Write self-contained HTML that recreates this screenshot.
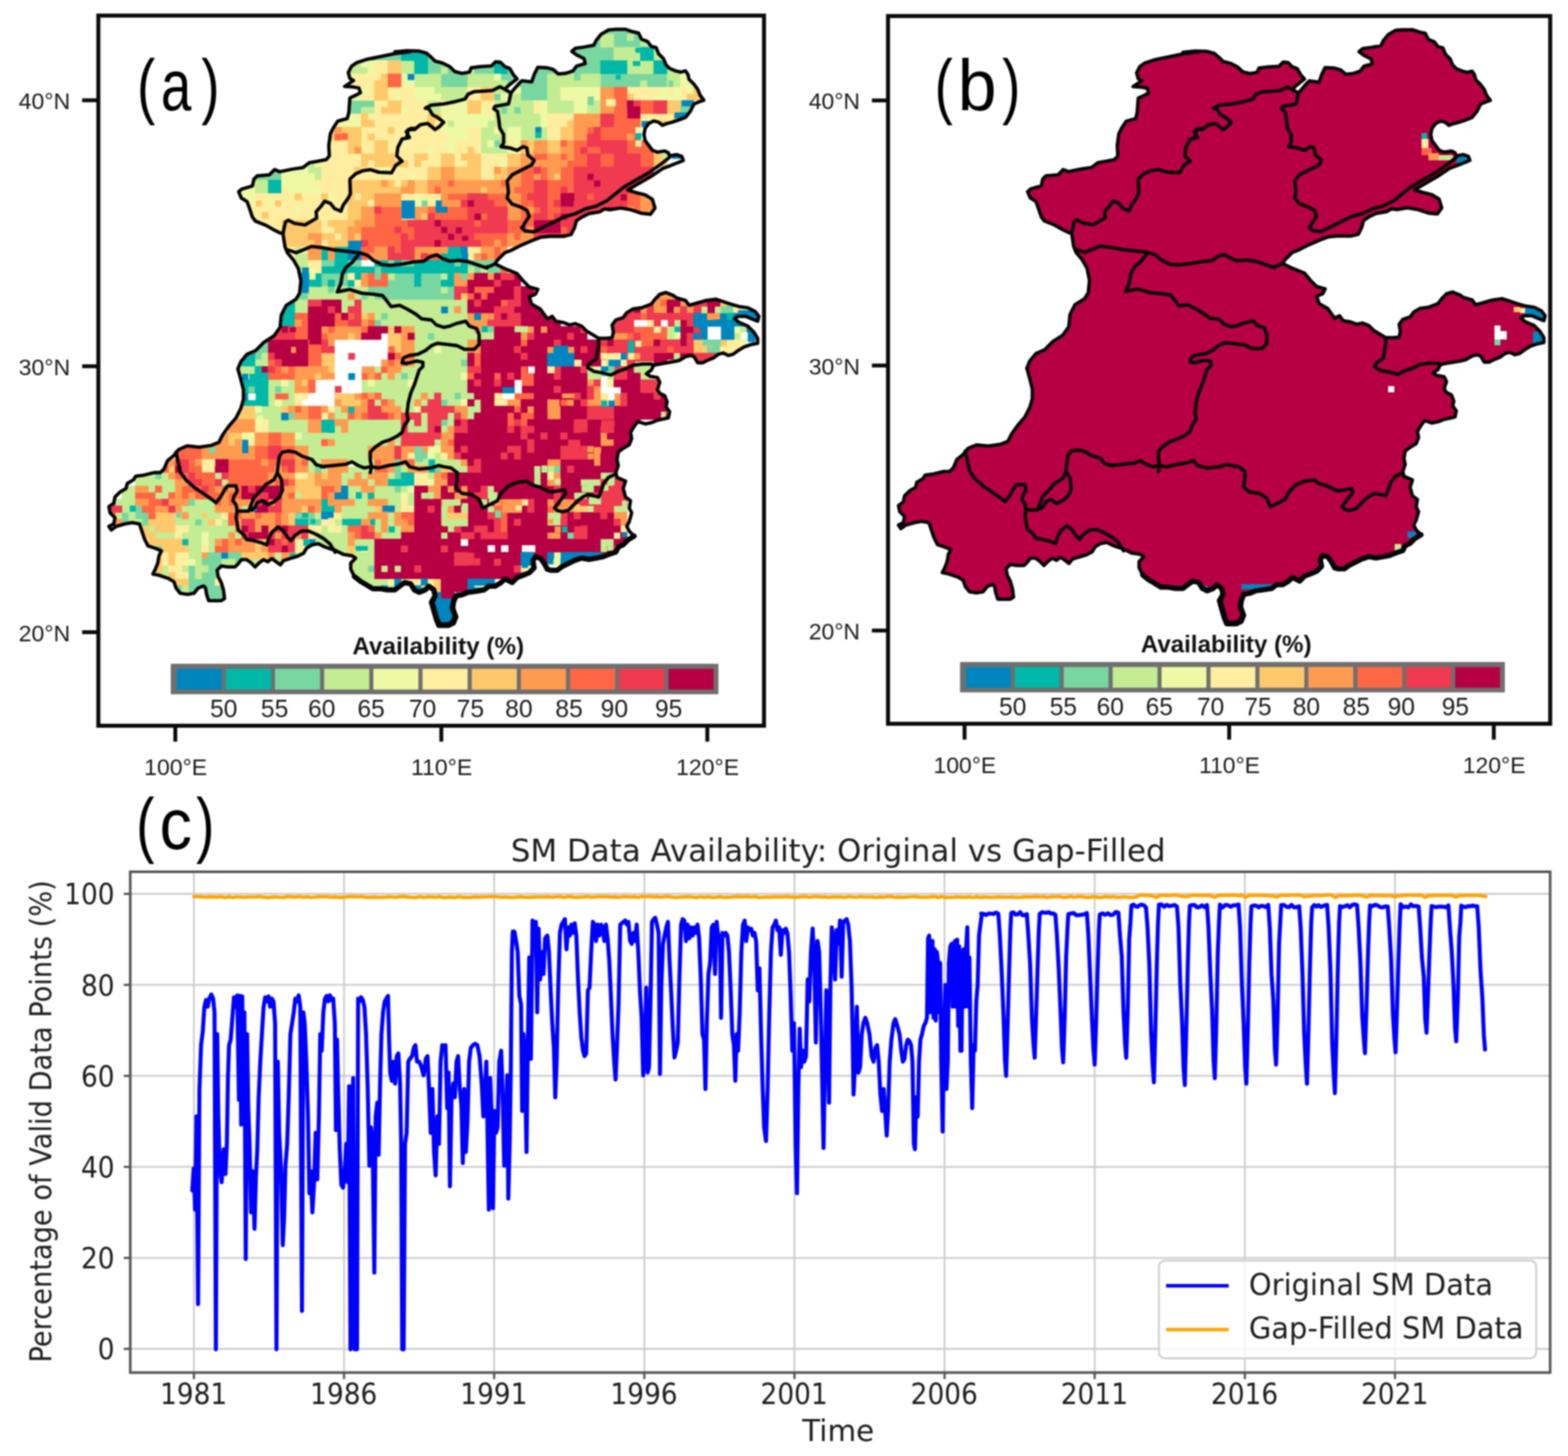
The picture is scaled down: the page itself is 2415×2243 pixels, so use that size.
<!DOCTYPE html>
<html lang="en"><head><meta charset="utf-8"><title>SM Data Availability: Original vs Gap-Filled</title>
<style>
html,body{margin:0;padding:0;background:#fff;}
body{width:2415px;height:2243px;overflow:hidden;}
svg{display:block;}
text{font-family:"Liberation Sans","DejaVu Sans",sans-serif;fill:#222;}
.tk{font-size:35.5px;fill:#1c1c1c;}
.cb{font-size:38px;fill:#1c1c1c;}
.cbt{font-size:37.4px;font-weight:bold;fill:#111;}
.pl{font-size:112px;fill:#000;}
.ct{font-family:"DejaVu Sans","Liberation Sans",sans-serif;font-size:44.5px;fill:#1e1e1e;}
.cl{font-family:"DejaVu Sans","Liberation Sans",sans-serif;font-size:47px;fill:#1e1e1e;}
.ctt{font-family:"DejaVu Sans","Liberation Sans",sans-serif;font-size:48px;fill:#1e1e1e;}
.lg{font-family:"DejaVu Sans","Liberation Sans",sans-serif;font-size:46.4px;fill:#1e1e1e;}
</style></head><body>
<svg width="2415" height="2243" viewBox="0 0 2415 2243" role="img" aria-label="Soil moisture data availability: original versus gap-filled">
<rect width="2415" height="2243" fill="#fff"/>
<defs><filter id="soft" x="0" y="0" width="100%" height="100%" filterUnits="userSpaceOnUse" color-interpolation-filters="sRGB"><feGaussianBlur stdDeviation="1.05"/></filter></defs>
<g filter="url(#soft)">
<g>
<g id="map-a">
<defs><clipPath id="mclip"><path d="M367.6,295.4 372.5,291.3 388.7,286.5 391.1,275.9 396,271 414.7,269.4 422.8,261.3 430.9,264.5 450.4,260.5 466.6,258.1 476.4,250.7 489.4,248.3 502.3,245.9 507.2,240.2 506.4,224 508.8,206.1 513.7,196.4 520.2,186.6 534.8,182.6 537.2,173.6 538.9,150.9 549.4,146 555.1,142.8 552.7,135.5 542.9,133.9 530.7,133.1 544.5,124.1 538.9,120.9 536.4,111.9 541.3,102.2 549.4,96.5 564,91.7 583.5,87.6 607.9,82.7 632.2,79.5 608,80 626.8,78.1 645.6,78.7 656.9,81.9 664.5,88.5 670.1,94.1 681.4,97 692.7,102.6 700.3,110.1 711.6,113 722.9,111.1 725.7,104.5 739.8,102.6 756.8,101.7 763.3,95.1 770.9,96 777.5,102.6 785,105.4 790.6,114.9 796.3,121.4 783.1,131.8 777.5,137.5 786.9,143.1 798.2,129.9 803.8,124.3 818.9,126.2 822.7,114.9 828.3,103.6 843,104.5 843,104.5 852.4,107.3 859.9,113.9 871.2,113 882.5,109.2 888.2,101.7 901.4,97.9 899.5,90.4 888.2,84.7 880.7,79.1 886.3,74.4 899.5,72.5 914.6,69.7 918.3,62.1 925.9,52.7 937.2,46.1 948.5,45.2 963.5,45.2 974.8,48.9 983.3,50.8 988,60.2 997.4,64 1003.1,71.5 1010.6,73.4 1014.4,82.8 1021.9,90.4 1025.7,99.8 1031.3,105.4 1040.7,109.2 1048.3,111.1 1055.8,109.2 1059.6,114.9 1061.4,122.4 1069,129.9 1074.6,137.5 1078.4,146.9 1084,154.4 1078.4,156.3 1069,160.1 1063.3,171.4 1055.8,180.8 1046.4,184.5 1035.1,188.3 1027.5,190.2 1020,193 1014.4,188.3 1006.8,186.4 999.3,190.2 993.6,197.7 991.8,207.1 993.6,216.5 999.3,224.1 1004.9,231.6 1012.5,234.4 1023.8,232.6 1029.4,235.4 1031.3,240.1 1042.6,238.2 1050.1,241 1052.3,247.2 1031.9,255.4 1021,259.4 1002,272.2 982.9,283.1 966.6,292.6 977.5,296.1 993.8,300.2 1004.7,307 1008.8,320.5 1002,330 988.4,328.7 972,323.2 955.7,320.5 939.4,323.2 931.2,321.9 923.1,326.5 906.8,329.2 895.9,334.6 887.7,340.1 885,350.4 879.6,361.3 868.7,364 846.9,364 833.3,365.3 822.4,369.4 803.4,377.5 787.1,385.7 777.5,389.4 766.2,400.7 762.4,406.4 777.5,413.9 796.3,421.4 805.7,432.7 815.1,442.1 828.3,445.9 824.5,453.4 815.1,457.2 818.9,468.5 832.1,476 843,491.1 843,491.1 850.5,487.3 856.2,494.9 867.5,496.8 876.9,500.5 886.3,498.6 895.7,502.4 903.3,509.9 912.7,515.6 922.1,521.2 933.4,521.2 942.8,520.3 944.7,511.8 942.8,500.5 948.5,493 959.8,489.2 965.4,481.7 974.8,476 988,474.2 1003.1,468.5 1008.7,461 1016.2,453.4 1025.7,450.6 1037,455.3 1042.6,459.1 1055.8,462.9 1061.4,470.4 1074.6,466.6 1087.8,462.9 1102.9,461 1114.2,464.7 1125.5,468.5 1138.6,472.3 1151.8,474.2 1163.1,479.8 1168.8,487.3 1166.9,494.9 1157.5,491.1 1148.1,487.3 1136.8,487.3 1131.1,491.1 1138.6,496.8 1151.8,502.4 1161.2,511.8 1166.9,521.2 1166.9,528.8 1157.5,530.6 1146.2,534.4 1136.8,540.1 1129.2,545.7 1121.7,547.6 1114.2,543.8 1106.6,545.7 1099.1,551.4 1089.7,555.1 1082.2,558.9 1074.6,558.9 1069,549.5 1063.3,547.6 1055.8,549.5 1046.4,555.1 1038.8,557 1027.5,558.9 1016.2,560.8 1006.8,562.7 1003.1,570.2 995.5,575.8 1001.2,579.6 1012.5,581.5 1016.2,589 1012.5,600.3 1016.2,606 1023.8,609.7 1027.5,619.2 1025.7,626.7 1031.3,634.2 1029.4,643.6 1021.9,645.5 1012.5,647.4 1003.1,651.2 993.6,653.1 982.4,649.3 976.7,656.8 971.1,666.2 972.9,675.6 969.2,685.1 959.8,690.7 952.2,696.4 950.3,707.7 952.2,717.1 948.5,728 948.5,728 950.3,735.5 963.5,741.2 959.8,752.5 963.5,765.7 971.1,771.3 969.2,782.6 972.9,790.1 969.2,803.3 965.4,810.9 969.2,818.4 976.7,825.9 967.3,831.6 959.8,839.1 952.2,842.9 948.5,850.4 937.2,854.2 927.7,857.9 918.3,859.8 907,861.7 895.7,859.8 884.4,863.6 876.9,867.4 865.6,873 858.1,878.6 848.6,878.6 843,876.8 843,876.8 837.7,867.4 832.1,859.8 824.5,857.9 820.8,863.6 822.7,874.9 815.1,882.4 805.7,886.2 796.3,889.9 788.8,897.5 777.5,891.8 771.8,897.5 762.4,903.1 753,903.1 745.5,908.8 734.2,910.7 721,912.5 711.6,916.3 702.1,918.2 698.4,927.6 696.5,937 702.1,950.2 698.4,959.6 690.8,963.4 675.8,963.4 672,954 668.2,940.8 664.5,927.6 670.1,918.2 668.2,908.8 660.7,903.1 655.1,908.8 645.6,912.5 638.1,908.8 632.5,899.4 623.1,897.5 615.5,903.1 608,908.8 596.7,908.8 585.4,906.9 574.1,906.9 564.7,901.2 555.3,895.6 545.8,888.1 540.2,876.8 540.2,867.4 547.7,859.8 542.1,856.1 528.9,854.2 513.8,846.6 509.7,845.8 500,842.6 490.3,837.7 480.5,839.4 472.4,844.2 467.5,852.3 457.8,857.2 446.4,860.5 436.7,863.7 431.8,870.2 425.3,865.3 418.8,860.5 412.3,865.3 405.8,862.1 399.4,866.9 392.9,873.4 386.4,866.9 379.9,862.1 371.8,862.1 366.9,868.6 362,873.4 350.6,873.4 340.9,871.8 334.4,878.3 336,888.1 340.9,897.8 344.2,909.2 345.8,922.1 340.9,925.4 331.2,925.4 321.4,925.4 318.2,915.6 316.6,905.9 313.3,902.7 305.2,905.9 298.7,914 289,915.6 277.6,914 271.1,905.9 267.9,896.2 259.7,891.3 250,888.1 244.9,886.2 235.5,884.3 239.3,876.8 243,867.4 244.9,856.1 248.7,848.5 239.3,844.8 228,841 222.3,829.7 218.6,818.4 214.8,807.1 203.5,805.2 192.2,807.1 179,810.9 171.5,816.5 167.7,810.9 175.2,807.1 177.1,797.7 169.6,790.1 167.7,780.7 175.2,775.1 177.1,765.7 184.7,758.1 194.1,752.5 196,744.9 205.4,739.3 209.1,733.6 222.3,731.8 237.4,728 246.8,728 252.5,722.7 258.1,709.5 267.5,702 275.1,692.6 288.2,686.9 307.1,688.8 325.9,686 337.2,681.3 342.8,670 352.3,656.8 363.6,643.6 371.1,628.6 374.9,615.4 374.9,600.3 371.1,585.3 366.4,568.3 371.1,557 380.5,545.7 393.7,540.1 406.9,526.9 421.9,517.5 431.4,504.3 433.2,485.5 440.8,470.4 455.8,461 461.5,451.6 463.4,432.7 459.6,413.9 452.1,400.7 442.6,389.4 438.9,380 435.8,360 430.9,358.7 421.2,353.8 409.8,347.3 393.6,340.8 388.7,334.4 383.8,319.7 380.6,310.8 371.7,305.1 367.6,295.4Z"/></clipPath></defs><g clip-path="url(#mclip)"><path fill="#78d6a0" d="M924.6 31.7h62v10.8H924.6zM924.6 41.9h62v10.8H924.6zM904.1 52.2h21.1v10.8H904.1zM945.1 52.2h21.1v10.8H945.1zM975.8 52.2h10.8v10.8H975.8zM904.1 62.4h21.1v10.8H904.1zM945.1 62.4h41.5v10.8H945.1zM535.6 72.6h21.1v10.8H535.6zM576.6 72.6h41.5v10.8H576.6zM658.5 72.6h21.1v10.8H658.5zM883.6 72.6h62v10.8H883.6zM535.6 82.9h21.1v10.8H535.6zM576.6 82.9h41.5v10.8H576.6zM658.5 82.9h21.1v10.8H658.5zM883.6 82.9h62v10.8H883.6zM658.5 93.1h103v10.8H658.5zM781.3 93.1h21.1v10.8H781.3zM822.2 93.1h51.8v10.8H822.2zM883.6 93.1h41.5v10.8H883.6zM658.5 103.3h21.1v10.8H658.5zM689.2 103.3h31.3v10.8H689.2zM730.1 103.3h31.3v10.8H730.1zM781.3 103.3h21.1v10.8H781.3zM822.2 103.3h103v10.8H822.2zM678.9 113.6h41.5v10.8H678.9zM771.1 113.6h72.2v10.8H771.1zM883.6 113.6h10.8v10.8H883.6zM924.6 113.6h103v10.8H924.6zM678.9 123.8h41.5v10.8H678.9zM781.3 123.8h62v10.8H781.3zM924.6 123.8h62v10.8H924.6zM996.2 123.8h31.3v10.8H996.2zM801.8 134.1h41.5v10.8H801.8zM760.8 144.3h10.8v10.8H760.8zM801.8 144.3h41.5v10.8H801.8zM535.6 154.5h41.5v10.8H535.6zM1047.4 154.5h21.1v10.8H1047.4zM535.6 164.8h21.1v10.8H535.6zM771.1 164.8h10.8v10.8H771.1zM791.5 164.8h10.8v10.8H791.5zM1047.4 164.8h21.1v10.8H1047.4zM760.8 215.9h10.8v10.8H760.8zM351.4 256.9h82.5v10.8H351.4zM361.6 267.1h72.2v10.8H361.6zM494.7 400.2h21.1v10.8H494.7zM535.6 400.2h21.1v10.8H535.6zM597.1 400.2h10.8v10.8H597.1zM617.5 400.2h21.1v10.8H617.5zM699.4 400.2h10.8v10.8H699.4zM719.9 400.2h62v10.8H719.9zM576.6 410.4h10.8v10.8H576.6zM730.1 410.4h10.8v10.8H730.1zM750.6 410.4h21.1v10.8H750.6zM494.7 420.6h41.5v10.8H494.7zM576.6 420.6h10.8v10.8H576.6zM607.3 420.6h31.3v10.8H607.3zM648.2 420.6h31.3v10.8H648.2zM709.6 420.6h10.8v10.8H709.6zM494.7 430.9h10.8v10.8H494.7zM515.2 430.9h21.1v10.8H515.2zM597.1 430.9h41.5v10.8H597.1zM648.2 430.9h31.3v10.8H648.2zM453.8 441.1h21.1v10.8H453.8zM504.9 441.1h10.8v10.8H504.9zM566.3 441.1h113.2v10.8H566.3zM689.2 441.1h10.8v10.8H689.2zM453.8 451.3h21.1v10.8H453.8zM556.1 451.3h10.8v10.8H556.1zM576.6 451.3h123.4v10.8H576.6zM1119.1 461.6h10.8v10.8H1119.1zM1119.1 471.8h10.8v10.8H1119.1zM586.8 482.1h10.8v10.8H586.8zM576.6 492.3h10.8v10.8H576.6zM658.5 512.8h10.8v10.8H658.5zM392.3 523h21.1v10.8H392.3zM1098.6 523h10.8v10.8H1098.6zM392.3 533.2h21.1v10.8H392.3zM1088.3 533.2h21.1v10.8H1088.3zM392.3 543.5h10.8v10.8H392.3zM709.6 553.7h10.8v10.8H709.6zM924.6 563.9h10.8v10.8H924.6zM617.5 574.2h10.8v10.8H617.5zM924.6 574.2h10.8v10.8H924.6zM382.1 594.6h10.8v10.8H382.1zM423.1 594.6h10.8v10.8H423.1zM699.4 604.9h10.8v10.8H699.4zM678.9 615.1h10.8v10.8H678.9zM678.9 645.8h10.8v10.8H678.9zM638 686.8h10.8v10.8H638zM638 697h21.1v10.8H638zM607.3 707.2h10.8v10.8H607.3zM658.5 707.2h10.8v10.8H658.5zM484.5 717.5h10.8v10.8H484.5zM607.3 717.5h10.8v10.8H607.3zM658.5 717.5h21.1v10.8H658.5zM852.9 717.5h10.8v10.8H852.9zM238.8 727.7h10.8v10.8H238.8zM607.3 727.7h10.8v10.8H607.3zM607.3 748.2h10.8v10.8H607.3zM290 768.6h10.8v10.8H290zM208.1 778.9h10.8v10.8H208.1zM187.6 789.1h10.8v10.8H187.6zM208.1 789.1h21.1v10.8H208.1zM453.8 789.1h31.3v10.8H453.8zM187.6 799.3h10.8v10.8H187.6zM218.3 799.3h10.8v10.8H218.3zM300.2 799.3h10.8v10.8H300.2zM474.2 799.3h21.1v10.8H474.2zM873.4 819.8h10.8v10.8H873.4zM238.8 840.3h10.8v10.8H238.8zM310.5 850.5h31.3v10.8H310.5zM351.4 850.5h21.1v10.8H351.4zM310.5 860.8h31.3v10.8H310.5zM361.6 860.8h10.8v10.8H361.6zM290 871h10.8v10.8H290zM320.7 871h31.3v10.8H320.7zM566.3 871h10.8v10.8H566.3zM290 881.2h10.8v10.8H290zM310.5 881.2h41.5v10.8H310.5zM290 891.5h41.5v10.8H290zM341.2 891.5h10.8v10.8H341.2zM269.5 901.7h10.8v10.8H269.5zM290 901.7h51.8v10.8H290zM566.3 901.7h10.8v10.8H566.3zM310.5 911.9h41.5v10.8H310.5zM310.5 922.2h41.5v10.8H310.5z"/><path fill="#c3ec93" d="M924.6 52.2h21.1v10.8H924.6zM965.5 52.2h10.8v10.8H965.5zM986 52.2h21.1v10.8H986zM924.6 62.4h21.1v10.8H924.6zM986 62.4h21.1v10.8H986zM945.1 72.6h41.5v10.8H945.1zM1006.5 72.6h21.1v10.8H1006.5zM945.1 82.9h41.5v10.8H945.1zM1006.5 82.9h21.1v10.8H1006.5zM535.6 93.1h21.1v10.8H535.6zM617.5 93.1h21.1v10.8H617.5zM873.4 93.1h10.8v10.8H873.4zM965.5 93.1h41.5v10.8H965.5zM1026.9 93.1h21.1v10.8H1026.9zM535.6 103.3h31.3v10.8H535.6zM617.5 103.3h21.1v10.8H617.5zM678.9 103.3h10.8v10.8H678.9zM719.9 103.3h10.8v10.8H719.9zM965.5 103.3h41.5v10.8H965.5zM1026.9 103.3h21.1v10.8H1026.9zM638 113.6h41.5v10.8H638zM719.9 113.6h41.5v10.8H719.9zM842.7 113.6h41.5v10.8H842.7zM893.9 113.6h31.3v10.8H893.9zM1026.9 113.6h21.1v10.8H1026.9zM638 123.8h41.5v10.8H638zM719.9 123.8h62v10.8H719.9zM842.7 123.8h82.5v10.8H842.7zM986 123.8h10.8v10.8H986zM1026.9 123.8h21.1v10.8H1026.9zM668.7 134.1h51.8v10.8H668.7zM760.8 134.1h31.3v10.8H760.8zM842.7 134.1h21.1v10.8H842.7zM678.9 144.3h41.5v10.8H678.9zM781.3 144.3h21.1v10.8H781.3zM842.7 144.3h21.1v10.8H842.7zM658.5 154.5h21.1v10.8H658.5zM760.8 154.5h62v10.8H760.8zM842.7 154.5h41.5v10.8H842.7zM904.1 154.5h21.1v10.8H904.1zM556.1 164.8h21.1v10.8H556.1zM658.5 164.8h21.1v10.8H658.5zM760.8 164.8h10.8v10.8H760.8zM781.3 164.8h10.8v10.8H781.3zM801.8 164.8h21.1v10.8H801.8zM842.7 164.8h41.5v10.8H842.7zM904.1 164.8h21.1v10.8H904.1zM760.8 175h72.2v10.8H760.8zM689.2 185.2h10.8v10.8H689.2zM750.6 185.2h82.5v10.8H750.6zM740.3 195.5h21.1v10.8H740.3zM771.1 195.5h10.8v10.8H771.1zM801.8 195.5h41.5v10.8H801.8zM740.3 205.7h41.5v10.8H740.3zM801.8 205.7h41.5v10.8H801.8zM740.3 215.9h10.8v10.8H740.3zM771.1 215.9h10.8v10.8H771.1zM740.3 226.2h41.5v10.8H740.3zM464 236.4h10.8v10.8H464zM443.5 246.6h10.8v10.8H443.5zM474.2 246.6h10.8v10.8H474.2zM474.2 256.9h21.1v10.8H474.2zM351.4 267.1h10.8v10.8H351.4zM484.5 267.1h10.8v10.8H484.5zM382.1 277.3h31.3v10.8H382.1zM392.3 287.6h21.1v10.8H392.3zM453.8 379.7h10.8v10.8H453.8zM453.8 389.9h21.1v10.8H453.8zM453.8 400.2h21.1v10.8H453.8zM453.8 410.4h21.1v10.8H453.8zM719.9 410.4h10.8v10.8H719.9zM740.3 410.4h10.8v10.8H740.3zM597.1 420.6h10.8v10.8H597.1zM678.9 420.6h10.8v10.8H678.9zM474.2 441.1h31.3v10.8H474.2zM515.2 441.1h51.8v10.8H515.2zM678.9 441.1h10.8v10.8H678.9zM474.2 451.3h62v10.8H474.2zM545.9 451.3h10.8v10.8H545.9zM566.3 451.3h10.8v10.8H566.3zM453.8 461.6h21.1v10.8H453.8zM525.4 461.6h21.1v10.8H525.4zM556.1 461.6h164.4v10.8H556.1zM453.8 471.8h21.1v10.8H453.8zM525.4 471.8h10.8v10.8H525.4zM556.1 471.8h143.9v10.8H556.1zM709.6 471.8h10.8v10.8H709.6zM576.6 482.1h10.8v10.8H576.6zM597.1 482.1h123.4v10.8H597.1zM586.8 492.3h133.7v10.8H586.8zM638 502.5h92.7v10.8H638zM740.3 502.5h21.1v10.8H740.3zM1026.9 502.5h21.1v10.8H1026.9zM1139.5 502.5h10.8v10.8H1139.5zM638 512.8h21.1v10.8H638zM668.7 512.8h92.7v10.8H668.7zM1026.9 512.8h21.1v10.8H1026.9zM1129.3 512.8h10.8v10.8H1129.3zM638 523h82.5v10.8H638zM638 533.2h31.3v10.8H638zM678.9 533.2h41.5v10.8H678.9zM402.6 543.5h10.8v10.8H402.6zM638 543.5h82.5v10.8H638zM1037.2 543.5h10.8v10.8H1037.2zM392.3 553.7h21.1v10.8H392.3zM638 553.7h72.2v10.8H638zM1026.9 553.7h10.8v10.8H1026.9zM351.4 563.9h41.5v10.8H351.4zM576.6 563.9h10.8v10.8H576.6zM617.5 563.9h103v10.8H617.5zM904.1 563.9h10.8v10.8H904.1zM975.8 563.9h21.1v10.8H975.8zM351.4 574.2h41.5v10.8H351.4zM586.8 574.2h10.8v10.8H586.8zM607.3 574.2h10.8v10.8H607.3zM627.8 574.2h82.5v10.8H627.8zM904.1 574.2h21.1v10.8H904.1zM934.8 574.2h10.8v10.8H934.8zM986 574.2h21.1v10.8H986zM412.8 584.4h21.1v10.8H412.8zM443.5 584.4h10.8v10.8H443.5zM556.1 584.4h10.8v10.8H556.1zM576.6 584.4h51.8v10.8H576.6zM638 584.4h82.5v10.8H638zM412.8 594.6h10.8v10.8H412.8zM433.3 594.6h21.1v10.8H433.3zM556.1 594.6h164.4v10.8H556.1zM412.8 604.9h41.5v10.8H412.8zM586.8 604.9h62v10.8H586.8zM658.5 604.9h10.8v10.8H658.5zM678.9 604.9h21.1v10.8H678.9zM709.6 604.9h21.1v10.8H709.6zM412.8 615.1h10.8v10.8H412.8zM433.3 615.1h21.1v10.8H433.3zM576.6 615.1h10.8v10.8H576.6zM607.3 615.1h31.3v10.8H607.3zM648.2 615.1h10.8v10.8H648.2zM689.2 615.1h21.1v10.8H689.2zM730.1 615.1h10.8v10.8H730.1zM402.6 625.3h31.3v10.8H402.6zM515.2 625.3h10.8v10.8H515.2zM617.5 625.3h21.1v10.8H617.5zM719.9 625.3h21.1v10.8H719.9zM392.3 635.6h41.5v10.8H392.3zM515.2 635.6h21.1v10.8H515.2zM648.2 635.6h10.8v10.8H648.2zM689.2 635.6h10.8v10.8H689.2zM719.9 635.6h10.8v10.8H719.9zM412.8 645.8h62v10.8H412.8zM535.6 645.8h82.5v10.8H535.6zM627.8 645.8h10.8v10.8H627.8zM648.2 645.8h10.8v10.8H648.2zM689.2 645.8h10.8v10.8H689.2zM412.8 656.1h62v10.8H412.8zM515.2 656.1h10.8v10.8H515.2zM535.6 656.1h82.5v10.8H535.6zM627.8 656.1h31.3v10.8H627.8zM678.9 656.1h10.8v10.8H678.9zM464 666.3h154.1v10.8H464zM453.8 676.5h41.5v10.8H453.8zM515.2 676.5h82.5v10.8H515.2zM607.3 676.5h10.8v10.8H607.3zM668.7 676.5h10.8v10.8H668.7zM474.2 686.8h92.7v10.8H474.2zM474.2 697h92.7v10.8H474.2zM668.7 697h10.8v10.8H668.7zM474.2 707.2h21.1v10.8H474.2zM535.6 707.2h41.5v10.8H535.6zM638 707.2h21.1v10.8H638zM668.7 707.2h41.5v10.8H668.7zM474.2 717.5h10.8v10.8H474.2zM494.7 717.5h10.8v10.8H494.7zM535.6 717.5h41.5v10.8H535.6zM617.5 717.5h10.8v10.8H617.5zM699.4 717.5h21.1v10.8H699.4zM822.2 717.5h10.8v10.8H822.2zM842.7 717.5h10.8v10.8H842.7zM208.1 727.7h31.3v10.8H208.1zM249.1 727.7h10.8v10.8H249.1zM330.9 727.7h10.8v10.8H330.9zM525.4 727.7h21.1v10.8H525.4zM556.1 727.7h10.8v10.8H556.1zM597.1 727.7h10.8v10.8H597.1zM658.5 727.7h10.8v10.8H658.5zM822.2 727.7h10.8v10.8H822.2zM924.6 727.7h21.1v10.8H924.6zM208.1 737.9h62v10.8H208.1zM341.2 737.9h10.8v10.8H341.2zM525.4 737.9h10.8v10.8H525.4zM566.3 737.9h10.8v10.8H566.3zM822.2 737.9h10.8v10.8H822.2zM893.9 737.9h31.3v10.8H893.9zM934.8 737.9h10.8v10.8H934.8zM187.6 748.2h21.1v10.8H187.6zM228.6 748.2h10.8v10.8H228.6zM249.1 748.2h21.1v10.8H249.1zM535.6 748.2h21.1v10.8H535.6zM576.6 748.2h31.3v10.8H576.6zM617.5 748.2h10.8v10.8H617.5zM750.6 748.2h10.8v10.8H750.6zM904.1 748.2h10.8v10.8H904.1zM187.6 758.4h21.1v10.8H187.6zM238.8 758.4h21.1v10.8H238.8zM453.8 758.4h10.8v10.8H453.8zM535.6 758.4h10.8v10.8H535.6zM556.1 758.4h10.8v10.8H556.1zM576.6 758.4h41.5v10.8H576.6zM627.8 758.4h10.8v10.8H627.8zM648.2 758.4h10.8v10.8H648.2zM750.6 758.4h10.8v10.8H750.6zM883.6 758.4h21.1v10.8H883.6zM177.4 768.6h31.3v10.8H177.4zM300.2 768.6h31.3v10.8H300.2zM545.9 768.6h21.1v10.8H545.9zM597.1 768.6h21.1v10.8H597.1zM627.8 768.6h10.8v10.8H627.8zM689.2 768.6h21.1v10.8H689.2zM740.3 768.6h10.8v10.8H740.3zM187.6 778.9h21.1v10.8H187.6zM279.8 778.9h51.8v10.8H279.8zM371.9 778.9h10.8v10.8H371.9zM525.4 778.9h51.8v10.8H525.4zM607.3 778.9h10.8v10.8H607.3zM678.9 778.9h10.8v10.8H678.9zM709.6 778.9h10.8v10.8H709.6zM750.6 778.9h10.8v10.8H750.6zM904.1 778.9h10.8v10.8H904.1zM945.1 778.9h21.1v10.8H945.1zM177.4 789.1h10.8v10.8H177.4zM197.9 789.1h10.8v10.8H197.9zM269.5 789.1h10.8v10.8H269.5zM290 789.1h51.8v10.8H290zM484.5 789.1h10.8v10.8H484.5zM525.4 789.1h41.5v10.8H525.4zM597.1 789.1h10.8v10.8H597.1zM678.9 789.1h10.8v10.8H678.9zM842.7 789.1h21.1v10.8H842.7zM167.2 799.3h10.8v10.8H167.2zM197.9 799.3h21.1v10.8H197.9zM269.5 799.3h31.3v10.8H269.5zM310.5 799.3h10.8v10.8H310.5zM341.2 799.3h10.8v10.8H341.2zM515.2 799.3h21.1v10.8H515.2zM576.6 799.3h10.8v10.8H576.6zM597.1 799.3h10.8v10.8H597.1zM699.4 799.3h21.1v10.8H699.4zM842.7 799.3h21.1v10.8H842.7zM228.6 809.6h10.8v10.8H228.6zM290 809.6h72.2v10.8H290zM494.7 809.6h10.8v10.8H494.7zM525.4 809.6h10.8v10.8H525.4zM576.6 809.6h10.8v10.8H576.6zM597.1 809.6h21.1v10.8H597.1zM689.2 809.6h10.8v10.8H689.2zM238.8 819.8h31.3v10.8H238.8zM279.8 819.8h31.3v10.8H279.8zM320.7 819.8h31.3v10.8H320.7zM361.6 819.8h10.8v10.8H361.6zM484.5 819.8h51.8v10.8H484.5zM586.8 819.8h31.3v10.8H586.8zM678.9 819.8h10.8v10.8H678.9zM290 830.1h21.1v10.8H290zM320.7 830.1h10.8v10.8H320.7zM474.2 830.1h62v10.8H474.2zM545.9 830.1h31.3v10.8H545.9zM924.6 830.1h21.1v10.8H924.6zM228.6 840.3h10.8v10.8H228.6zM290 840.3h21.1v10.8H290zM320.7 840.3h10.8v10.8H320.7zM474.2 840.3h21.1v10.8H474.2zM504.9 840.3h31.3v10.8H504.9zM545.9 840.3h10.8v10.8H545.9zM566.3 840.3h10.8v10.8H566.3zM924.6 840.3h10.8v10.8H924.6zM290 850.5h21.1v10.8H290zM341.2 850.5h10.8v10.8H341.2zM423.1 850.5h10.8v10.8H423.1zM453.8 850.5h21.1v10.8H453.8zM494.7 850.5h41.5v10.8H494.7zM545.9 850.5h31.3v10.8H545.9zM300.2 860.8h10.8v10.8H300.2zM341.2 860.8h21.1v10.8H341.2zM382.1 860.8h21.1v10.8H382.1zM423.1 860.8h10.8v10.8H423.1zM453.8 860.8h21.1v10.8H453.8zM494.7 860.8h41.5v10.8H494.7zM545.9 860.8h31.3v10.8H545.9zM249.1 871h10.8v10.8H249.1zM279.8 871h10.8v10.8H279.8zM300.2 871h21.1v10.8H300.2zM535.6 871h31.3v10.8H535.6zM586.8 871h10.8v10.8H586.8zM607.3 871h10.8v10.8H607.3zM249.1 881.2h10.8v10.8H249.1zM300.2 881.2h10.8v10.8H300.2zM535.6 881.2h41.5v10.8H535.6zM249.1 891.5h21.1v10.8H249.1zM556.1 891.5h41.5v10.8H556.1zM617.5 891.5h10.8v10.8H617.5zM249.1 901.7h21.1v10.8H249.1zM279.8 901.7h10.8v10.8H279.8zM556.1 901.7h10.8v10.8H556.1zM576.6 901.7h10.8v10.8H576.6zM597.1 901.7h10.8v10.8H597.1zM617.5 901.7h10.8v10.8H617.5z"/><path fill="#00b8a8" d="M556.1 72.6h21.1v10.8H556.1zM617.5 72.6h41.5v10.8H617.5zM986 72.6h21.1v10.8H986zM556.1 82.9h21.1v10.8H556.1zM617.5 82.9h41.5v10.8H617.5zM986 82.9h21.1v10.8H986zM638 93.1h21.1v10.8H638zM760.8 93.1h21.1v10.8H760.8zM924.6 93.1h41.5v10.8H924.6zM1006.5 93.1h21.1v10.8H1006.5zM638 103.3h21.1v10.8H638zM760.8 103.3h21.1v10.8H760.8zM924.6 103.3h41.5v10.8H924.6zM1006.5 103.3h21.1v10.8H1006.5zM515.2 113.6h21.1v10.8H515.2zM515.2 123.8h21.1v10.8H515.2zM412.8 277.3h21.1v10.8H412.8zM412.8 287.6h21.1v10.8H412.8zM494.7 379.7h10.8v10.8H494.7zM515.2 379.7h21.1v10.8H515.2zM545.9 379.7h10.8v10.8H545.9zM689.2 379.7h21.1v10.8H689.2zM494.7 389.9h10.8v10.8H494.7zM515.2 389.9h21.1v10.8H515.2zM678.9 389.9h41.5v10.8H678.9zM515.2 400.2h21.1v10.8H515.2zM576.6 400.2h21.1v10.8H576.6zM607.3 400.2h10.8v10.8H607.3zM638 400.2h62v10.8H638zM709.6 400.2h10.8v10.8H709.6zM494.7 410.4h82.5v10.8H494.7zM586.8 410.4h133.7v10.8H586.8zM474.2 420.6h21.1v10.8H474.2zM545.9 420.6h10.8v10.8H545.9zM638 420.6h10.8v10.8H638zM689.2 420.6h10.8v10.8H689.2zM474.2 430.9h21.1v10.8H474.2zM504.9 430.9h10.8v10.8H504.9zM535.6 430.9h10.8v10.8H535.6zM638 430.9h10.8v10.8H638zM678.9 430.9h21.1v10.8H678.9zM433.3 461.6h21.1v10.8H433.3zM433.3 471.8h21.1v10.8H433.3zM433.3 482.1h21.1v10.8H433.3zM1119.1 482.1h10.8v10.8H1119.1zM433.3 492.3h21.1v10.8H433.3zM1108.8 492.3h21.1v10.8H1108.8zM371.9 543.5h21.1v10.8H371.9zM371.9 553.7h21.1v10.8H371.9zM392.3 563.9h21.1v10.8H392.3zM392.3 574.2h21.1v10.8H392.3zM351.4 584.4h62v10.8H351.4zM351.4 594.6h31.3v10.8H351.4zM392.3 594.6h21.1v10.8H392.3zM351.4 604.9h62v10.8H351.4zM351.4 615.1h62v10.8H351.4zM494.7 645.8h21.1v10.8H494.7zM504.9 656.1h10.8v10.8H504.9zM617.5 727.7h21.1v10.8H617.5zM597.1 737.9h41.5v10.8H597.1zM494.7 768.6h10.8v10.8H494.7zM494.7 778.9h21.1v10.8H494.7zM453.8 799.3h21.1v10.8H453.8zM535.6 799.3h21.1v10.8H535.6z"/><path fill="#eef9a6" d="M556.1 93.1h21.1v10.8H556.1zM566.3 103.3h10.8v10.8H566.3zM617.5 113.6h21.1v10.8H617.5zM760.8 113.6h10.8v10.8H760.8zM1047.4 113.6h21.1v10.8H1047.4zM617.5 123.8h21.1v10.8H617.5zM1047.4 123.8h21.1v10.8H1047.4zM545.9 134.1h21.1v10.8H545.9zM638 134.1h31.3v10.8H638zM791.5 134.1h10.8v10.8H791.5zM863.2 134.1h62v10.8H863.2zM1016.7 134.1h10.8v10.8H1016.7zM1037.2 134.1h10.8v10.8H1037.2zM1057.6 134.1h10.8v10.8H1057.6zM545.9 144.3h10.8v10.8H545.9zM607.3 144.3h10.8v10.8H607.3zM638 144.3h41.5v10.8H638zM771.1 144.3h10.8v10.8H771.1zM863.2 144.3h62v10.8H863.2zM1006.5 144.3h41.5v10.8H1006.5zM689.2 154.5h31.3v10.8H689.2zM832.5 154.5h10.8v10.8H832.5zM883.6 154.5h21.1v10.8H883.6zM617.5 164.8h10.8v10.8H617.5zM678.9 164.8h41.5v10.8H678.9zM740.3 164.8h10.8v10.8H740.3zM832.5 164.8h10.8v10.8H832.5zM883.6 164.8h21.1v10.8H883.6zM515.2 175h31.3v10.8H515.2zM678.9 175h82.5v10.8H678.9zM832.5 175h10.8v10.8H832.5zM515.2 185.2h41.5v10.8H515.2zM678.9 185.2h10.8v10.8H678.9zM699.4 185.2h51.8v10.8H699.4zM832.5 185.2h10.8v10.8H832.5zM627.8 195.5h10.8v10.8H627.8zM678.9 195.5h41.5v10.8H678.9zM760.8 195.5h10.8v10.8H760.8zM781.3 195.5h21.1v10.8H781.3zM689.2 205.7h31.3v10.8H689.2zM781.3 205.7h21.1v10.8H781.3zM617.5 215.9h10.8v10.8H617.5zM678.9 215.9h21.1v10.8H678.9zM750.6 215.9h10.8v10.8H750.6zM791.5 215.9h10.8v10.8H791.5zM658.5 226.2h10.8v10.8H658.5zM689.2 226.2h10.8v10.8H689.2zM781.3 226.2h21.1v10.8H781.3zM433.3 236.4h31.3v10.8H433.3zM474.2 236.4h21.1v10.8H474.2zM433.3 246.6h10.8v10.8H433.3zM464 246.6h10.8v10.8H464zM484.5 246.6h10.8v10.8H484.5zM771.1 246.6h10.8v10.8H771.1zM433.3 256.9h41.5v10.8H433.3zM586.8 256.9h10.8v10.8H586.8zM433.3 267.1h51.8v10.8H433.3zM627.8 267.1h10.8v10.8H627.8zM330.9 277.3h51.8v10.8H330.9zM433.3 277.3h51.8v10.8H433.3zM330.9 287.6h62v10.8H330.9zM443.5 287.6h51.8v10.8H443.5zM330.9 297.8h62v10.8H330.9zM504.9 297.8h10.8v10.8H504.9zM638 297.8h10.8v10.8H638zM330.9 308.1h62v10.8H330.9zM412.8 308.1h10.8v10.8H412.8zM638 308.1h21.1v10.8H638zM453.8 318.3h10.8v10.8H453.8zM361.6 349h10.8v10.8H361.6zM464 379.7h10.8v10.8H464zM1129.3 502.5h10.8v10.8H1129.3zM1139.5 512.8h10.8v10.8H1139.5zM1139.5 523h10.8v10.8H1139.5zM668.7 533.2h10.8v10.8H668.7zM1139.5 533.2h10.8v10.8H1139.5zM914.3 563.9h10.8v10.8H914.3zM934.8 563.9h10.8v10.8H934.8zM709.6 574.2h10.8v10.8H709.6zM433.3 584.4h10.8v10.8H433.3zM566.3 584.4h10.8v10.8H566.3zM627.8 584.4h10.8v10.8H627.8zM423.1 615.1h10.8v10.8H423.1zM709.6 615.1h10.8v10.8H709.6zM392.3 625.3h10.8v10.8H392.3zM638 625.3h10.8v10.8H638zM453.8 666.3h10.8v10.8H453.8zM658.5 686.8h21.1v10.8H658.5zM658.5 697h10.8v10.8H658.5zM658.5 737.9h10.8v10.8H658.5zM627.8 748.2h10.8v10.8H627.8zM545.9 758.4h10.8v10.8H545.9zM617.5 758.4h10.8v10.8H617.5zM504.9 809.6h10.8v10.8H504.9zM310.5 819.8h10.8v10.8H310.5zM310.5 830.1h10.8v10.8H310.5zM852.9 850.5h10.8v10.8H852.9zM290 860.8h10.8v10.8H290zM842.7 860.8h21.1v10.8H842.7zM597.1 891.5h10.8v10.8H597.1z"/><path fill="#ffee9f" d="M576.6 93.1h21.1v10.8H576.6zM576.6 103.3h21.1v10.8H576.6zM535.6 113.6h51.8v10.8H535.6zM535.6 123.8h41.5v10.8H535.6zM535.6 134.1h10.8v10.8H535.6zM566.3 134.1h10.8v10.8H566.3zM597.1 134.1h41.5v10.8H597.1zM719.9 134.1h21.1v10.8H719.9zM965.5 134.1h51.8v10.8H965.5zM1026.9 134.1h10.8v10.8H1026.9zM1047.4 134.1h10.8v10.8H1047.4zM535.6 144.3h10.8v10.8H535.6zM556.1 144.3h21.1v10.8H556.1zM597.1 144.3h10.8v10.8H597.1zM617.5 144.3h21.1v10.8H617.5zM719.9 144.3h21.1v10.8H719.9zM975.8 144.3h31.3v10.8H975.8zM1047.4 144.3h10.8v10.8H1047.4zM576.6 154.5h21.1v10.8H576.6zM617.5 154.5h41.5v10.8H617.5zM678.9 154.5h10.8v10.8H678.9zM740.3 154.5h21.1v10.8H740.3zM822.2 154.5h10.8v10.8H822.2zM576.6 164.8h10.8v10.8H576.6zM627.8 164.8h31.3v10.8H627.8zM750.6 164.8h10.8v10.8H750.6zM822.2 164.8h10.8v10.8H822.2zM545.9 175h10.8v10.8H545.9zM566.3 175h92.7v10.8H566.3zM842.7 175h41.5v10.8H842.7zM986 175h51.8v10.8H986zM576.6 185.2h82.5v10.8H576.6zM668.7 185.2h10.8v10.8H668.7zM842.7 185.2h31.3v10.8H842.7zM986 185.2h31.3v10.8H986zM1026.9 185.2h10.8v10.8H1026.9zM556.1 195.5h41.5v10.8H556.1zM607.3 195.5h21.1v10.8H607.3zM638 195.5h41.5v10.8H638zM719.9 195.5h21.1v10.8H719.9zM842.7 195.5h21.1v10.8H842.7zM556.1 205.7h10.8v10.8H556.1zM576.6 205.7h113.2v10.8H576.6zM719.9 205.7h21.1v10.8H719.9zM842.7 205.7h21.1v10.8H842.7zM494.7 215.9h41.5v10.8H494.7zM556.1 215.9h21.1v10.8H556.1zM597.1 215.9h21.1v10.8H597.1zM627.8 215.9h51.8v10.8H627.8zM699.4 215.9h41.5v10.8H699.4zM781.3 215.9h10.8v10.8H781.3zM494.7 226.2h41.5v10.8H494.7zM556.1 226.2h21.1v10.8H556.1zM597.1 226.2h62v10.8H597.1zM668.7 226.2h21.1v10.8H668.7zM699.4 226.2h21.1v10.8H699.4zM730.1 226.2h10.8v10.8H730.1zM494.7 236.4h62v10.8H494.7zM607.3 236.4h31.3v10.8H607.3zM658.5 236.4h21.1v10.8H658.5zM699.4 236.4h10.8v10.8H699.4zM740.3 236.4h41.5v10.8H740.3zM453.8 246.6h10.8v10.8H453.8zM494.7 246.6h62v10.8H494.7zM566.3 246.6h10.8v10.8H566.3zM627.8 246.6h10.8v10.8H627.8zM648.2 246.6h31.3v10.8H648.2zM699.4 246.6h21.1v10.8H699.4zM740.3 246.6h31.3v10.8H740.3zM494.7 256.9h51.8v10.8H494.7zM556.1 256.9h31.3v10.8H556.1zM597.1 256.9h62v10.8H597.1zM740.3 256.9h21.1v10.8H740.3zM494.7 267.1h133.7v10.8H494.7zM638 267.1h21.1v10.8H638zM740.3 267.1h21.1v10.8H740.3zM484.5 277.3h51.8v10.8H484.5zM607.3 277.3h10.8v10.8H607.3zM433.3 287.6h10.8v10.8H433.3zM494.7 287.6h41.5v10.8H494.7zM392.3 297.8h62v10.8H392.3zM464 297.8h31.3v10.8H464zM515.2 297.8h21.1v10.8H515.2zM545.9 297.8h10.8v10.8H545.9zM617.5 297.8h21.1v10.8H617.5zM648.2 297.8h31.3v10.8H648.2zM392.3 308.1h21.1v10.8H392.3zM423.1 308.1h113.2v10.8H423.1zM566.3 308.1h10.8v10.8H566.3zM617.5 308.1h21.1v10.8H617.5zM658.5 308.1h21.1v10.8H658.5zM351.4 318.3h103v10.8H351.4zM464 318.3h72.2v10.8H464zM617.5 318.3h21.1v10.8H617.5zM351.4 328.5h184.8v10.8H351.4zM617.5 328.5h21.1v10.8H617.5zM351.4 338.8h82.5v10.8H351.4zM494.7 338.8h10.8v10.8H494.7zM351.4 349h10.8v10.8H351.4zM371.9 349h62v10.8H371.9zM494.7 349h21.1v10.8H494.7zM392.3 359.2h21.1v10.8H392.3zM515.2 359.2h10.8v10.8H515.2zM392.3 369.5h21.1v10.8H392.3zM494.7 369.5h10.8v10.8H494.7zM433.3 379.7h21.1v10.8H433.3zM719.9 379.7h21.1v10.8H719.9zM433.3 389.9h21.1v10.8H433.3zM719.9 389.9h10.8v10.8H719.9zM474.2 400.2h21.1v10.8H474.2zM474.2 410.4h21.1v10.8H474.2zM535.6 420.6h10.8v10.8H535.6zM545.9 430.9h10.8v10.8H545.9zM1139.5 461.6h10.8v10.8H1139.5zM1129.3 471.8h21.1v10.8H1129.3zM1006.5 502.5h10.8v10.8H1006.5zM1119.1 523h21.1v10.8H1119.1zM1108.8 533.2h31.3v10.8H1108.8zM924.6 543.5h41.5v10.8H924.6zM934.8 553.7h31.3v10.8H934.8zM924.6 584.4h21.1v10.8H924.6zM924.6 594.6h21.1v10.8H924.6zM453.8 604.9h21.1v10.8H453.8zM924.6 604.9h21.1v10.8H924.6zM453.8 615.1h21.1v10.8H453.8zM760.8 615.1h21.1v10.8H760.8zM934.8 615.1h10.8v10.8H934.8zM504.9 625.3h10.8v10.8H504.9zM494.7 635.6h10.8v10.8H494.7zM392.3 645.8h21.1v10.8H392.3zM392.3 656.1h21.1v10.8H392.3zM371.9 666.3h21.1v10.8H371.9zM371.9 676.5h21.1v10.8H371.9zM627.8 697h10.8v10.8H627.8zM678.9 697h10.8v10.8H678.9zM310.5 707.2h21.1v10.8H310.5zM310.5 717.5h21.1v10.8H310.5zM453.8 727.7h21.1v10.8H453.8zM638 727.7h21.1v10.8H638zM842.7 727.7h10.8v10.8H842.7zM638 737.9h21.1v10.8H638zM617.5 768.6h10.8v10.8H617.5zM617.5 778.9h21.1v10.8H617.5zM781.3 778.9h10.8v10.8H781.3zM341.2 789.1h10.8v10.8H341.2zM504.9 789.1h21.1v10.8H504.9zM330.9 799.3h10.8v10.8H330.9zM494.7 799.3h21.1v10.8H494.7zM208.1 809.6h10.8v10.8H208.1zM269.5 809.6h21.1v10.8H269.5zM474.2 809.6h21.1v10.8H474.2zM515.2 809.6h10.8v10.8H515.2zM955.3 809.6h10.8v10.8H955.3zM269.5 819.8h10.8v10.8H269.5zM474.2 819.8h10.8v10.8H474.2zM945.1 819.8h10.8v10.8H945.1zM453.8 830.1h21.1v10.8H453.8zM310.5 840.3h10.8v10.8H310.5zM453.8 840.3h21.1v10.8H453.8zM494.7 840.3h10.8v10.8H494.7zM556.1 840.3h10.8v10.8H556.1zM249.1 850.5h10.8v10.8H249.1zM269.5 850.5h21.1v10.8H269.5zM228.6 860.8h10.8v10.8H228.6zM249.1 860.8h10.8v10.8H249.1zM269.5 860.8h21.1v10.8H269.5zM259.3 871h21.1v10.8H259.3zM801.8 871h21.1v10.8H801.8zM269.5 881.2h21.1v10.8H269.5zM812 881.2h10.8v10.8H812zM330.9 891.5h10.8v10.8H330.9zM627.8 891.5h21.1v10.8H627.8zM658.5 891.5h10.8v10.8H658.5zM341.2 901.7h10.8v10.8H341.2zM627.8 901.7h10.8v10.8H627.8zM648.2 901.7h21.1v10.8H648.2zM730.1 901.7h31.3v10.8H730.1z"/><path fill="#ffc96b" d="M597.1 93.1h21.1v10.8H597.1zM597.1 103.3h21.1v10.8H597.1zM586.8 113.6h10.8v10.8H586.8zM576.6 123.8h21.1v10.8H576.6zM576.6 134.1h21.1v10.8H576.6zM740.3 134.1h21.1v10.8H740.3zM1067.9 134.1h21.1v10.8H1067.9zM576.6 144.3h21.1v10.8H576.6zM740.3 144.3h21.1v10.8H740.3zM965.5 144.3h10.8v10.8H965.5zM1057.6 144.3h31.3v10.8H1057.6zM597.1 154.5h21.1v10.8H597.1zM719.9 154.5h21.1v10.8H719.9zM1026.9 154.5h21.1v10.8H1026.9zM586.8 164.8h31.3v10.8H586.8zM719.9 164.8h21.1v10.8H719.9zM1026.9 164.8h21.1v10.8H1026.9zM556.1 175h10.8v10.8H556.1zM658.5 175h21.1v10.8H658.5zM1037.2 175h10.8v10.8H1037.2zM556.1 185.2h21.1v10.8H556.1zM658.5 185.2h10.8v10.8H658.5zM873.4 185.2h10.8v10.8H873.4zM1016.7 185.2h10.8v10.8H1016.7zM1037.2 185.2h10.8v10.8H1037.2zM494.7 195.5h21.1v10.8H494.7zM525.4 195.5h31.3v10.8H525.4zM597.1 195.5h10.8v10.8H597.1zM863.2 195.5h21.1v10.8H863.2zM494.7 205.7h21.1v10.8H494.7zM535.6 205.7h21.1v10.8H535.6zM566.3 205.7h10.8v10.8H566.3zM863.2 205.7h21.1v10.8H863.2zM535.6 215.9h21.1v10.8H535.6zM576.6 215.9h21.1v10.8H576.6zM812 215.9h10.8v10.8H812zM842.7 215.9h21.1v10.8H842.7zM535.6 226.2h10.8v10.8H535.6zM576.6 226.2h21.1v10.8H576.6zM719.9 226.2h10.8v10.8H719.9zM801.8 226.2h21.1v10.8H801.8zM842.7 226.2h21.1v10.8H842.7zM556.1 236.4h51.8v10.8H556.1zM638 236.4h21.1v10.8H638zM678.9 236.4h21.1v10.8H678.9zM709.6 236.4h31.3v10.8H709.6zM781.3 236.4h21.1v10.8H781.3zM1006.5 236.4h21.1v10.8H1006.5zM556.1 246.6h10.8v10.8H556.1zM576.6 246.6h51.8v10.8H576.6zM638 246.6h10.8v10.8H638zM678.9 246.6h21.1v10.8H678.9zM719.9 246.6h21.1v10.8H719.9zM781.3 246.6h21.1v10.8H781.3zM1006.5 246.6h21.1v10.8H1006.5zM545.9 256.9h10.8v10.8H545.9zM658.5 256.9h21.1v10.8H658.5zM699.4 256.9h41.5v10.8H699.4zM771.1 256.9h10.8v10.8H771.1zM658.5 267.1h21.1v10.8H658.5zM699.4 267.1h41.5v10.8H699.4zM760.8 267.1h21.1v10.8H760.8zM852.9 267.1h10.8v10.8H852.9zM535.6 277.3h51.8v10.8H535.6zM597.1 277.3h10.8v10.8H597.1zM617.5 277.3h10.8v10.8H617.5zM638 277.3h21.1v10.8H638zM535.6 287.6h82.5v10.8H535.6zM638 287.6h21.1v10.8H638zM740.3 287.6h10.8v10.8H740.3zM453.8 297.8h10.8v10.8H453.8zM494.7 297.8h10.8v10.8H494.7zM535.6 297.8h10.8v10.8H535.6zM556.1 297.8h21.1v10.8H556.1zM996.2 297.8h10.8v10.8H996.2zM535.6 308.1h31.3v10.8H535.6zM535.6 318.3h21.1v10.8H535.6zM535.6 328.5h21.1v10.8H535.6zM648.2 328.5h10.8v10.8H648.2zM433.3 338.8h62v10.8H433.3zM504.9 338.8h41.5v10.8H504.9zM433.3 349h62v10.8H433.3zM515.2 349h21.1v10.8H515.2zM412.8 359.2h62v10.8H412.8zM494.7 359.2h21.1v10.8H494.7zM525.4 359.2h10.8v10.8H525.4zM545.9 359.2h10.8v10.8H545.9zM412.8 369.5h72.2v10.8H412.8zM504.9 369.5h31.3v10.8H504.9zM709.6 451.3h10.8v10.8H709.6zM1108.8 461.6h10.8v10.8H1108.8zM1108.8 471.8h10.8v10.8H1108.8zM556.1 482.1h10.8v10.8H556.1zM597.1 502.5h10.8v10.8H597.1zM535.6 512.8h10.8v10.8H535.6zM597.1 512.8h21.1v10.8H597.1zM597.1 523h21.1v10.8H597.1zM1067.9 523h31.3v10.8H1067.9zM1108.8 523h10.8v10.8H1108.8zM607.3 533.2h10.8v10.8H607.3zM1067.9 533.2h21.1v10.8H1067.9zM494.7 543.5h21.1v10.8H494.7zM494.7 553.7h21.1v10.8H494.7zM504.9 563.9h10.8v10.8H504.9zM484.5 574.2h10.8v10.8H484.5zM464 584.4h10.8v10.8H464zM515.2 604.9h31.3v10.8H515.2zM760.8 604.9h10.8v10.8H760.8zM525.4 615.1h31.3v10.8H525.4zM924.6 615.1h10.8v10.8H924.6zM351.4 625.3h41.5v10.8H351.4zM433.3 625.3h10.8v10.8H433.3zM351.4 635.6h41.5v10.8H351.4zM351.4 666.3h21.1v10.8H351.4zM351.4 676.5h10.8v10.8H351.4zM259.3 717.5h10.8v10.8H259.3zM678.9 717.5h21.1v10.8H678.9zM474.2 727.7h10.8v10.8H474.2zM494.7 727.7h10.8v10.8H494.7zM453.8 737.9h31.3v10.8H453.8zM453.8 748.2h41.5v10.8H453.8zM464 758.4h31.3v10.8H464zM464 778.9h10.8v10.8H464zM576.6 778.9h10.8v10.8H576.6zM883.6 778.9h21.1v10.8H883.6zM238.8 789.1h31.3v10.8H238.8zM443.5 789.1h10.8v10.8H443.5zM689.2 789.1h31.3v10.8H689.2zM228.6 799.3h41.5v10.8H228.6zM320.7 799.3h10.8v10.8H320.7zM443.5 799.3h10.8v10.8H443.5zM678.9 799.3h21.1v10.8H678.9zM218.3 809.6h10.8v10.8H218.3zM238.8 809.6h31.3v10.8H238.8zM208.1 819.8h31.3v10.8H208.1zM228.6 830.1h62v10.8H228.6zM392.3 830.1h21.1v10.8H392.3zM249.1 840.3h41.5v10.8H249.1zM392.3 840.3h10.8v10.8H392.3zM535.6 840.3h10.8v10.8H535.6zM228.6 850.5h21.1v10.8H228.6zM259.3 850.5h10.8v10.8H259.3zM371.9 850.5h41.5v10.8H371.9zM535.6 850.5h10.8v10.8H535.6zM238.8 860.8h10.8v10.8H238.8zM259.3 860.8h10.8v10.8H259.3zM371.9 860.8h10.8v10.8H371.9zM402.6 860.8h10.8v10.8H402.6zM535.6 860.8h10.8v10.8H535.6zM228.6 871h21.1v10.8H228.6zM228.6 881.2h21.1v10.8H228.6zM259.3 881.2h10.8v10.8H259.3zM269.5 891.5h21.1v10.8H269.5zM668.7 891.5h10.8v10.8H668.7zM668.7 901.7h10.8v10.8H668.7z"/><path fill="#ff6644" d="M597.1 113.6h21.1v10.8H597.1zM597.1 123.8h21.1v10.8H597.1zM945.1 134.1h21.1v10.8H945.1zM945.1 144.3h21.1v10.8H945.1zM945.1 154.5h21.1v10.8H945.1zM986 154.5h21.1v10.8H986zM945.1 164.8h21.1v10.8H945.1zM986 164.8h21.1v10.8H986zM945.1 175h41.5v10.8H945.1zM945.1 185.2h41.5v10.8H945.1zM904.1 195.5h10.8v10.8H904.1zM924.6 195.5h62v10.8H924.6zM515.2 205.7h10.8v10.8H515.2zM924.6 205.7h41.5v10.8H924.6zM975.8 205.7h10.8v10.8H975.8zM863.2 215.9h10.8v10.8H863.2zM883.6 215.9h21.1v10.8H883.6zM965.5 215.9h41.5v10.8H965.5zM883.6 226.2h10.8v10.8H883.6zM904.1 226.2h21.1v10.8H904.1zM965.5 226.2h41.5v10.8H965.5zM822.2 236.4h21.1v10.8H822.2zM863.2 236.4h10.8v10.8H863.2zM883.6 236.4h21.1v10.8H883.6zM924.6 236.4h21.1v10.8H924.6zM986 236.4h21.1v10.8H986zM873.4 246.6h31.3v10.8H873.4zM924.6 246.6h21.1v10.8H924.6zM986 246.6h21.1v10.8H986zM801.8 256.9h21.1v10.8H801.8zM832.5 256.9h10.8v10.8H832.5zM863.2 256.9h21.1v10.8H863.2zM801.8 267.1h21.1v10.8H801.8zM832.5 267.1h10.8v10.8H832.5zM863.2 267.1h21.1v10.8H863.2zM689.2 277.3h10.8v10.8H689.2zM771.1 277.3h10.8v10.8H771.1zM801.8 277.3h21.1v10.8H801.8zM842.7 277.3h41.5v10.8H842.7zM668.7 287.6h10.8v10.8H668.7zM791.5 287.6h31.3v10.8H791.5zM842.7 287.6h21.1v10.8H842.7zM873.4 287.6h10.8v10.8H873.4zM689.2 297.8h31.3v10.8H689.2zM750.6 297.8h31.3v10.8H750.6zM801.8 297.8h10.8v10.8H801.8zM842.7 297.8h21.1v10.8H842.7zM904.1 297.8h10.8v10.8H904.1zM965.5 297.8h21.1v10.8H965.5zM760.8 308.1h21.1v10.8H760.8zM801.8 308.1h21.1v10.8H801.8zM842.7 308.1h10.8v10.8H842.7zM965.5 308.1h21.1v10.8H965.5zM586.8 318.3h31.3v10.8H586.8zM658.5 318.3h62v10.8H658.5zM801.8 318.3h10.8v10.8H801.8zM822.2 318.3h10.8v10.8H822.2zM842.7 318.3h21.1v10.8H842.7zM975.8 318.3h10.8v10.8H975.8zM576.6 328.5h41.5v10.8H576.6zM668.7 328.5h51.8v10.8H668.7zM740.3 328.5h10.8v10.8H740.3zM801.8 328.5h21.1v10.8H801.8zM842.7 328.5h10.8v10.8H842.7zM934.8 328.5h21.1v10.8H934.8zM965.5 328.5h21.1v10.8H965.5zM576.6 338.8h51.8v10.8H576.6zM730.1 338.8h10.8v10.8H730.1zM781.3 338.8h41.5v10.8H781.3zM556.1 349h51.8v10.8H556.1zM617.5 349h21.1v10.8H617.5zM781.3 349h31.3v10.8H781.3zM863.2 349h10.8v10.8H863.2zM556.1 359.2h62v10.8H556.1zM627.8 359.2h10.8v10.8H627.8zM730.1 359.2h51.8v10.8H730.1zM791.5 359.2h10.8v10.8H791.5zM566.3 369.5h51.8v10.8H566.3zM740.3 369.5h21.1v10.8H740.3zM771.1 369.5h10.8v10.8H771.1zM556.1 379.7h21.1v10.8H556.1zM607.3 379.7h10.8v10.8H607.3zM760.8 379.7h10.8v10.8H760.8zM556.1 389.9h10.8v10.8H556.1zM658.5 389.9h21.1v10.8H658.5zM740.3 389.9h10.8v10.8H740.3zM760.8 389.9h21.1v10.8H760.8zM771.1 410.4h10.8v10.8H771.1zM566.3 420.6h10.8v10.8H566.3zM586.8 420.6h10.8v10.8H586.8zM566.3 430.9h31.3v10.8H566.3zM730.1 441.1h31.3v10.8H730.1zM719.9 451.3h10.8v10.8H719.9zM740.3 451.3h10.8v10.8H740.3zM1006.5 451.3h10.8v10.8H1006.5zM771.1 461.6h10.8v10.8H771.1zM975.8 461.6h10.8v10.8H975.8zM1016.7 461.6h10.8v10.8H1016.7zM453.8 482.1h21.1v10.8H453.8zM515.2 482.1h10.8v10.8H515.2zM535.6 482.1h10.8v10.8H535.6zM945.1 482.1h10.8v10.8H945.1zM986 482.1h10.8v10.8H986zM464 492.3h10.8v10.8H464zM515.2 492.3h21.1v10.8H515.2zM566.3 492.3h10.8v10.8H566.3zM975.8 492.3h10.8v10.8H975.8zM453.8 502.5h21.1v10.8H453.8zM504.9 502.5h10.8v10.8H504.9zM556.1 502.5h10.8v10.8H556.1zM975.8 502.5h31.3v10.8H975.8zM1016.7 502.5h10.8v10.8H1016.7zM453.8 512.8h21.1v10.8H453.8zM494.7 512.8h10.8v10.8H494.7zM965.5 512.8h10.8v10.8H965.5zM986 512.8h41.5v10.8H986zM474.2 523h21.1v10.8H474.2zM801.8 523h10.8v10.8H801.8zM986 523h21.1v10.8H986zM474.2 533.2h21.1v10.8H474.2zM597.1 533.2h10.8v10.8H597.1zM924.6 533.2h10.8v10.8H924.6zM1026.9 533.2h10.8v10.8H1026.9zM474.2 543.5h21.1v10.8H474.2zM597.1 543.5h21.1v10.8H597.1zM627.8 543.5h10.8v10.8H627.8zM730.1 543.5h10.8v10.8H730.1zM412.8 553.7h10.8v10.8H412.8zM474.2 553.7h21.1v10.8H474.2zM597.1 553.7h10.8v10.8H597.1zM617.5 553.7h10.8v10.8H617.5zM730.1 553.7h10.8v10.8H730.1zM423.1 563.9h10.8v10.8H423.1zM443.5 563.9h10.8v10.8H443.5zM586.8 563.9h10.8v10.8H586.8zM801.8 563.9h10.8v10.8H801.8zM412.8 574.2h41.5v10.8H412.8zM556.1 574.2h10.8v10.8H556.1zM576.6 574.2h10.8v10.8H576.6zM719.9 574.2h10.8v10.8H719.9zM760.8 574.2h10.8v10.8H760.8zM801.8 574.2h21.1v10.8H801.8zM474.2 584.4h21.1v10.8H474.2zM801.8 584.4h21.1v10.8H801.8zM474.2 594.6h21.1v10.8H474.2zM556.1 604.9h10.8v10.8H556.1zM576.6 604.9h10.8v10.8H576.6zM781.3 604.9h41.5v10.8H781.3zM586.8 615.1h10.8v10.8H586.8zM863.2 615.1h10.8v10.8H863.2zM453.8 625.3h10.8v10.8H453.8zM474.2 625.3h21.1v10.8H474.2zM791.5 625.3h10.8v10.8H791.5zM433.3 635.6h10.8v10.8H433.3zM474.2 635.6h21.1v10.8H474.2zM535.6 635.6h10.8v10.8H535.6zM556.1 635.6h10.8v10.8H556.1zM597.1 635.6h10.8v10.8H597.1zM781.3 635.6h10.8v10.8H781.3zM801.8 635.6h21.1v10.8H801.8zM781.3 645.8h10.8v10.8H781.3zM801.8 645.8h10.8v10.8H801.8zM412.8 666.3h21.1v10.8H412.8zM412.8 676.5h21.1v10.8H412.8zM494.7 676.5h10.8v10.8H494.7zM689.2 676.5h10.8v10.8H689.2zM269.5 686.8h41.5v10.8H269.5zM392.3 686.8h21.1v10.8H392.3zM433.3 686.8h21.1v10.8H433.3zM269.5 697h41.5v10.8H269.5zM392.3 697h21.1v10.8H392.3zM433.3 697h21.1v10.8H433.3zM290 707.2h10.8v10.8H290zM351.4 707.2h51.8v10.8H351.4zM412.8 707.2h21.1v10.8H412.8zM464 707.2h10.8v10.8H464zM576.6 707.2h10.8v10.8H576.6zM627.8 707.2h10.8v10.8H627.8zM249.1 717.5h10.8v10.8H249.1zM290 717.5h21.1v10.8H290zM351.4 717.5h72.2v10.8H351.4zM433.3 717.5h10.8v10.8H433.3zM576.6 717.5h21.1v10.8H576.6zM269.5 727.7h21.1v10.8H269.5zM300.2 727.7h31.3v10.8H300.2zM351.4 727.7h62v10.8H351.4zM678.9 727.7h10.8v10.8H678.9zM310.5 737.9h21.1v10.8H310.5zM351.4 737.9h62v10.8H351.4zM423.1 737.9h10.8v10.8H423.1zM443.5 737.9h10.8v10.8H443.5zM238.8 748.2h10.8v10.8H238.8zM279.8 748.2h31.3v10.8H279.8zM320.7 748.2h10.8v10.8H320.7zM341.2 748.2h10.8v10.8H341.2zM361.6 748.2h10.8v10.8H361.6zM494.7 748.2h21.1v10.8H494.7zM208.1 758.4h31.3v10.8H208.1zM259.3 758.4h10.8v10.8H259.3zM279.8 758.4h10.8v10.8H279.8zM300.2 758.4h41.5v10.8H300.2zM351.4 758.4h21.1v10.8H351.4zM443.5 758.4h10.8v10.8H443.5zM494.7 758.4h10.8v10.8H494.7zM228.6 768.6h21.1v10.8H228.6zM330.9 768.6h10.8v10.8H330.9zM351.4 768.6h10.8v10.8H351.4zM771.1 768.6h10.8v10.8H771.1zM218.3 778.9h21.1v10.8H218.3zM474.2 778.9h10.8v10.8H474.2zM597.1 778.9h10.8v10.8H597.1zM760.8 778.9h21.1v10.8H760.8zM842.7 778.9h10.8v10.8H842.7zM167.2 789.1h10.8v10.8H167.2zM228.6 789.1h10.8v10.8H228.6zM351.4 789.1h21.1v10.8H351.4zM392.3 789.1h10.8v10.8H392.3zM423.1 789.1h10.8v10.8H423.1zM617.5 789.1h21.1v10.8H617.5zM771.1 789.1h10.8v10.8H771.1zM351.4 799.3h10.8v10.8H351.4zM423.1 799.3h10.8v10.8H423.1zM627.8 799.3h10.8v10.8H627.8zM771.1 799.3h10.8v10.8H771.1zM535.6 809.6h21.1v10.8H535.6zM566.3 809.6h10.8v10.8H566.3zM771.1 809.6h10.8v10.8H771.1zM545.9 819.8h10.8v10.8H545.9zM341.2 830.1h10.8v10.8H341.2zM361.6 830.1h10.8v10.8H361.6zM433.3 830.1h10.8v10.8H433.3zM330.9 840.3h21.1v10.8H330.9z"/><path fill="#ff9b50" d="M924.6 134.1h21.1v10.8H924.6zM924.6 144.3h21.1v10.8H924.6zM924.6 154.5h21.1v10.8H924.6zM924.6 164.8h21.1v10.8H924.6zM883.6 175h41.5v10.8H883.6zM883.6 185.2h41.5v10.8H883.6zM515.2 195.5h10.8v10.8H515.2zM883.6 195.5h21.1v10.8H883.6zM525.4 205.7h10.8v10.8H525.4zM883.6 205.7h21.1v10.8H883.6zM965.5 205.7h10.8v10.8H965.5zM801.8 215.9h10.8v10.8H801.8zM822.2 215.9h21.1v10.8H822.2zM873.4 215.9h10.8v10.8H873.4zM545.9 226.2h10.8v10.8H545.9zM822.2 226.2h21.1v10.8H822.2zM863.2 226.2h21.1v10.8H863.2zM801.8 236.4h21.1v10.8H801.8zM842.7 236.4h21.1v10.8H842.7zM873.4 236.4h10.8v10.8H873.4zM801.8 246.6h72.2v10.8H801.8zM678.9 256.9h21.1v10.8H678.9zM760.8 256.9h10.8v10.8H760.8zM781.3 256.9h21.1v10.8H781.3zM842.7 256.9h21.1v10.8H842.7zM678.9 267.1h21.1v10.8H678.9zM781.3 267.1h21.1v10.8H781.3zM822.2 267.1h10.8v10.8H822.2zM842.7 267.1h10.8v10.8H842.7zM586.8 277.3h10.8v10.8H586.8zM627.8 277.3h10.8v10.8H627.8zM658.5 277.3h31.3v10.8H658.5zM699.4 277.3h72.2v10.8H699.4zM781.3 277.3h21.1v10.8H781.3zM617.5 287.6h21.1v10.8H617.5zM658.5 287.6h10.8v10.8H658.5zM678.9 287.6h62v10.8H678.9zM750.6 287.6h41.5v10.8H750.6zM576.6 297.8h41.5v10.8H576.6zM678.9 297.8h10.8v10.8H678.9zM781.3 297.8h21.1v10.8H781.3zM986 297.8h10.8v10.8H986zM576.6 308.1h41.5v10.8H576.6zM678.9 308.1h31.3v10.8H678.9zM781.3 308.1h21.1v10.8H781.3zM986 308.1h21.1v10.8H986zM556.1 318.3h21.1v10.8H556.1zM638 318.3h21.1v10.8H638zM781.3 318.3h21.1v10.8H781.3zM812 318.3h10.8v10.8H812zM965.5 318.3h10.8v10.8H965.5zM986 318.3h21.1v10.8H986zM556.1 328.5h21.1v10.8H556.1zM638 328.5h10.8v10.8H638zM781.3 328.5h21.1v10.8H781.3zM986 328.5h21.1v10.8H986zM545.9 338.8h31.3v10.8H545.9zM535.6 349h21.1v10.8H535.6zM812 349h10.8v10.8H812zM474.2 359.2h21.1v10.8H474.2zM535.6 359.2h10.8v10.8H535.6zM781.3 359.2h10.8v10.8H781.3zM801.8 359.2h21.1v10.8H801.8zM484.5 369.5h10.8v10.8H484.5zM535.6 369.5h21.1v10.8H535.6zM760.8 369.5h10.8v10.8H760.8zM781.3 369.5h41.5v10.8H781.3zM474.2 379.7h21.1v10.8H474.2zM504.9 379.7h10.8v10.8H504.9zM576.6 379.7h21.1v10.8H576.6zM638 379.7h51.8v10.8H638zM740.3 379.7h21.1v10.8H740.3zM771.1 379.7h10.8v10.8H771.1zM474.2 389.9h21.1v10.8H474.2zM504.9 389.9h10.8v10.8H504.9zM566.3 389.9h31.3v10.8H566.3zM638 389.9h10.8v10.8H638zM730.1 389.9h10.8v10.8H730.1zM750.6 389.9h10.8v10.8H750.6zM556.1 420.6h10.8v10.8H556.1zM699.4 420.6h10.8v10.8H699.4zM719.9 420.6h10.8v10.8H719.9zM750.6 420.6h10.8v10.8H750.6zM556.1 430.9h10.8v10.8H556.1zM699.4 430.9h21.1v10.8H699.4zM1006.5 441.1h41.5v10.8H1006.5zM535.6 451.3h10.8v10.8H535.6zM1016.7 451.3h31.3v10.8H1016.7zM986 461.6h10.8v10.8H986zM1006.5 461.6h10.8v10.8H1006.5zM1047.4 461.6h21.1v10.8H1047.4zM699.4 471.8h10.8v10.8H699.4zM986 471.8h10.8v10.8H986zM1006.5 471.8h21.1v10.8H1006.5zM1037.2 471.8h10.8v10.8H1037.2zM1057.6 471.8h10.8v10.8H1057.6zM566.3 482.1h10.8v10.8H566.3zM719.9 482.1h41.5v10.8H719.9zM1088.3 482.1h21.1v10.8H1088.3zM453.8 492.3h10.8v10.8H453.8zM556.1 492.3h10.8v10.8H556.1zM719.9 492.3h31.3v10.8H719.9zM1088.3 492.3h10.8v10.8H1088.3zM494.7 502.5h10.8v10.8H494.7zM515.2 502.5h41.5v10.8H515.2zM617.5 502.5h21.1v10.8H617.5zM730.1 502.5h10.8v10.8H730.1zM801.8 502.5h21.1v10.8H801.8zM832.5 502.5h10.8v10.8H832.5zM504.9 512.8h31.3v10.8H504.9zM545.9 512.8h10.8v10.8H545.9zM617.5 512.8h10.8v10.8H617.5zM801.8 512.8h10.8v10.8H801.8zM945.1 512.8h21.1v10.8H945.1zM504.9 523h10.8v10.8H504.9zM617.5 523h21.1v10.8H617.5zM719.9 523h21.1v10.8H719.9zM617.5 533.2h21.1v10.8H617.5zM719.9 533.2h21.1v10.8H719.9zM576.6 543.5h10.8v10.8H576.6zM617.5 543.5h10.8v10.8H617.5zM975.8 543.5h10.8v10.8H975.8zM586.8 553.7h10.8v10.8H586.8zM607.3 553.7h10.8v10.8H607.3zM627.8 553.7h10.8v10.8H627.8zM433.3 563.9h10.8v10.8H433.3zM453.8 563.9h51.8v10.8H453.8zM556.1 563.9h21.1v10.8H556.1zM597.1 563.9h21.1v10.8H597.1zM453.8 574.2h31.3v10.8H453.8zM494.7 574.2h21.1v10.8H494.7zM566.3 574.2h10.8v10.8H566.3zM597.1 574.2h10.8v10.8H597.1zM453.8 584.4h10.8v10.8H453.8zM904.1 584.4h10.8v10.8H904.1zM453.8 594.6h21.1v10.8H453.8zM914.3 594.6h10.8v10.8H914.3zM545.9 604.9h10.8v10.8H545.9zM566.3 604.9h10.8v10.8H566.3zM648.2 604.9h10.8v10.8H648.2zM771.1 604.9h10.8v10.8H771.1zM914.3 604.9h10.8v10.8H914.3zM945.1 604.9h10.8v10.8H945.1zM515.2 615.1h10.8v10.8H515.2zM556.1 615.1h10.8v10.8H556.1zM597.1 615.1h10.8v10.8H597.1zM638 615.1h10.8v10.8H638zM781.3 615.1h21.1v10.8H781.3zM842.7 615.1h10.8v10.8H842.7zM873.4 615.1h10.8v10.8H873.4zM904.1 615.1h21.1v10.8H904.1zM945.1 615.1h10.8v10.8H945.1zM443.5 625.3h10.8v10.8H443.5zM464 625.3h10.8v10.8H464zM494.7 625.3h10.8v10.8H494.7zM525.4 625.3h41.5v10.8H525.4zM586.8 625.3h31.3v10.8H586.8zM699.4 625.3h21.1v10.8H699.4zM812 625.3h10.8v10.8H812zM842.7 625.3h21.1v10.8H842.7zM443.5 635.6h31.3v10.8H443.5zM504.9 635.6h10.8v10.8H504.9zM545.9 635.6h10.8v10.8H545.9zM607.3 635.6h10.8v10.8H607.3zM709.6 635.6h10.8v10.8H709.6zM842.7 635.6h21.1v10.8H842.7zM351.4 645.8h41.5v10.8H351.4zM474.2 645.8h21.1v10.8H474.2zM515.2 645.8h21.1v10.8H515.2zM351.4 656.1h41.5v10.8H351.4zM474.2 656.1h31.3v10.8H474.2zM525.4 656.1h10.8v10.8H525.4zM689.2 656.1h10.8v10.8H689.2zM330.9 666.3h21.1v10.8H330.9zM392.3 666.3h21.1v10.8H392.3zM433.3 666.3h21.1v10.8H433.3zM678.9 666.3h21.1v10.8H678.9zM924.6 666.3h10.8v10.8H924.6zM330.9 676.5h21.1v10.8H330.9zM361.6 676.5h10.8v10.8H361.6zM392.3 676.5h21.1v10.8H392.3zM433.3 676.5h21.1v10.8H433.3zM504.9 676.5h10.8v10.8H504.9zM597.1 676.5h10.8v10.8H597.1zM678.9 676.5h10.8v10.8H678.9zM924.6 676.5h21.1v10.8H924.6zM310.5 686.8h82.5v10.8H310.5zM453.8 686.8h21.1v10.8H453.8zM566.3 686.8h41.5v10.8H566.3zM617.5 686.8h21.1v10.8H617.5zM648.2 686.8h10.8v10.8H648.2zM678.9 686.8h21.1v10.8H678.9zM904.1 686.8h10.8v10.8H904.1zM310.5 697h82.5v10.8H310.5zM453.8 697h21.1v10.8H453.8zM566.3 697h41.5v10.8H566.3zM617.5 697h10.8v10.8H617.5zM689.2 697h10.8v10.8H689.2zM914.3 697h10.8v10.8H914.3zM249.1 707.2h21.1v10.8H249.1zM300.2 707.2h10.8v10.8H300.2zM402.6 707.2h10.8v10.8H402.6zM453.8 707.2h10.8v10.8H453.8zM494.7 707.2h41.5v10.8H494.7zM586.8 707.2h21.1v10.8H586.8zM617.5 707.2h10.8v10.8H617.5zM709.6 707.2h10.8v10.8H709.6zM842.7 707.2h21.1v10.8H842.7zM914.3 707.2h10.8v10.8H914.3zM423.1 717.5h10.8v10.8H423.1zM453.8 717.5h21.1v10.8H453.8zM504.9 717.5h31.3v10.8H504.9zM597.1 717.5h10.8v10.8H597.1zM627.8 717.5h31.3v10.8H627.8zM259.3 727.7h10.8v10.8H259.3zM412.8 727.7h41.5v10.8H412.8zM484.5 727.7h10.8v10.8H484.5zM504.9 727.7h21.1v10.8H504.9zM545.9 727.7h10.8v10.8H545.9zM566.3 727.7h31.3v10.8H566.3zM668.7 727.7h10.8v10.8H668.7zM852.9 727.7h10.8v10.8H852.9zM269.5 737.9h21.1v10.8H269.5zM412.8 737.9h10.8v10.8H412.8zM484.5 737.9h41.5v10.8H484.5zM535.6 737.9h31.3v10.8H535.6zM576.6 737.9h21.1v10.8H576.6zM668.7 737.9h21.1v10.8H668.7zM842.7 737.9h21.1v10.8H842.7zM208.1 748.2h21.1v10.8H208.1zM269.5 748.2h10.8v10.8H269.5zM330.9 748.2h10.8v10.8H330.9zM351.4 748.2h10.8v10.8H351.4zM433.3 748.2h21.1v10.8H433.3zM515.2 748.2h10.8v10.8H515.2zM556.1 748.2h21.1v10.8H556.1zM658.5 748.2h21.1v10.8H658.5zM689.2 748.2h10.8v10.8H689.2zM709.6 748.2h10.8v10.8H709.6zM269.5 758.4h10.8v10.8H269.5zM290 758.4h10.8v10.8H290zM341.2 758.4h10.8v10.8H341.2zM433.3 758.4h10.8v10.8H433.3zM504.9 758.4h10.8v10.8H504.9zM566.3 758.4h10.8v10.8H566.3zM658.5 758.4h21.1v10.8H658.5zM699.4 758.4h21.1v10.8H699.4zM208.1 768.6h21.1v10.8H208.1zM259.3 768.6h31.3v10.8H259.3zM341.2 768.6h10.8v10.8H341.2zM361.6 768.6h31.3v10.8H361.6zM412.8 768.6h10.8v10.8H412.8zM433.3 768.6h62v10.8H433.3zM504.9 768.6h41.5v10.8H504.9zM566.3 768.6h31.3v10.8H566.3zM678.9 768.6h10.8v10.8H678.9zM760.8 768.6h10.8v10.8H760.8zM781.3 768.6h21.1v10.8H781.3zM842.7 768.6h10.8v10.8H842.7zM863.2 768.6h21.1v10.8H863.2zM238.8 778.9h21.1v10.8H238.8zM269.5 778.9h10.8v10.8H269.5zM330.9 778.9h41.5v10.8H330.9zM382.1 778.9h10.8v10.8H382.1zM433.3 778.9h31.3v10.8H433.3zM484.5 778.9h10.8v10.8H484.5zM515.2 778.9h10.8v10.8H515.2zM586.8 778.9h10.8v10.8H586.8zM689.2 778.9h10.8v10.8H689.2zM791.5 778.9h10.8v10.8H791.5zM852.9 778.9h31.3v10.8H852.9zM279.8 789.1h10.8v10.8H279.8zM371.9 789.1h21.1v10.8H371.9zM402.6 789.1h21.1v10.8H402.6zM433.3 789.1h10.8v10.8H433.3zM566.3 789.1h31.3v10.8H566.3zM607.3 789.1h10.8v10.8H607.3zM945.1 789.1h21.1v10.8H945.1zM177.4 799.3h10.8v10.8H177.4zM361.6 799.3h10.8v10.8H361.6zM392.3 799.3h31.3v10.8H392.3zM433.3 799.3h10.8v10.8H433.3zM556.1 799.3h21.1v10.8H556.1zM586.8 799.3h10.8v10.8H586.8zM607.3 799.3h21.1v10.8H607.3zM955.3 799.3h10.8v10.8H955.3zM361.6 809.6h10.8v10.8H361.6zM392.3 809.6h10.8v10.8H392.3zM412.8 809.6h10.8v10.8H412.8zM586.8 809.6h10.8v10.8H586.8zM617.5 809.6h21.1v10.8H617.5zM351.4 819.8h10.8v10.8H351.4zM423.1 819.8h10.8v10.8H423.1zM453.8 819.8h10.8v10.8H453.8zM535.6 819.8h10.8v10.8H535.6zM576.6 819.8h10.8v10.8H576.6zM842.7 819.8h21.1v10.8H842.7zM330.9 830.1h10.8v10.8H330.9zM351.4 830.1h10.8v10.8H351.4zM371.9 830.1h21.1v10.8H371.9zM535.6 830.1h10.8v10.8H535.6zM351.4 840.3h41.5v10.8H351.4zM402.6 840.3h10.8v10.8H402.6zM412.8 850.5h10.8v10.8H412.8zM433.3 850.5h21.1v10.8H433.3zM412.8 860.8h10.8v10.8H412.8zM433.3 860.8h21.1v10.8H433.3z"/><path fill="#b70044" d="M965.5 154.5h10.8v10.8H965.5zM904.1 267.1h10.8v10.8H904.1zM914.3 277.3h10.8v10.8H914.3zM863.2 297.8h21.1v10.8H863.2zM719.9 308.1h10.8v10.8H719.9zM863.2 308.1h21.1v10.8H863.2zM934.8 318.3h10.8v10.8H934.8zM955.3 318.3h10.8v10.8H955.3zM730.1 328.5h10.8v10.8H730.1zM863.2 328.5h10.8v10.8H863.2zM668.7 338.8h10.8v10.8H668.7zM822.2 338.8h41.5v10.8H822.2zM678.9 349h10.8v10.8H678.9zM822.2 349h41.5v10.8H822.2zM883.6 349h10.8v10.8H883.6zM689.2 359.2h10.8v10.8H689.2zM668.7 369.5h10.8v10.8H668.7zM730.1 420.6h21.1v10.8H730.1zM760.8 420.6h10.8v10.8H760.8zM791.5 420.6h10.8v10.8H791.5zM719.9 430.9h41.5v10.8H719.9zM771.1 430.9h31.3v10.8H771.1zM719.9 441.1h10.8v10.8H719.9zM760.8 441.1h31.3v10.8H760.8zM801.8 441.1h21.1v10.8H801.8zM730.1 451.3h10.8v10.8H730.1zM750.6 451.3h41.5v10.8H750.6zM801.8 451.3h21.1v10.8H801.8zM494.7 461.6h31.3v10.8H494.7zM719.9 461.6h10.8v10.8H719.9zM740.3 461.6h31.3v10.8H740.3zM801.8 461.6h41.5v10.8H801.8zM1026.9 461.6h21.1v10.8H1026.9zM1088.3 461.6h21.1v10.8H1088.3zM474.2 471.8h10.8v10.8H474.2zM494.7 471.8h10.8v10.8H494.7zM515.2 471.8h10.8v10.8H515.2zM719.9 471.8h41.5v10.8H719.9zM791.5 471.8h51.8v10.8H791.5zM975.8 471.8h10.8v10.8H975.8zM1026.9 471.8h10.8v10.8H1026.9zM1088.3 471.8h21.1v10.8H1088.3zM474.2 482.1h41.5v10.8H474.2zM525.4 482.1h10.8v10.8H525.4zM771.1 482.1h10.8v10.8H771.1zM801.8 482.1h62v10.8H801.8zM474.2 492.3h41.5v10.8H474.2zM801.8 492.3h62v10.8H801.8zM1047.4 492.3h10.8v10.8H1047.4zM433.3 502.5h10.8v10.8H433.3zM474.2 502.5h21.1v10.8H474.2zM566.3 502.5h31.3v10.8H566.3zM607.3 502.5h10.8v10.8H607.3zM760.8 502.5h41.5v10.8H760.8zM822.2 502.5h10.8v10.8H822.2zM842.7 502.5h51.8v10.8H842.7zM1047.4 502.5h21.1v10.8H1047.4zM474.2 512.8h21.1v10.8H474.2zM556.1 512.8h41.5v10.8H556.1zM627.8 512.8h10.8v10.8H627.8zM760.8 512.8h41.5v10.8H760.8zM822.2 512.8h51.8v10.8H822.2zM883.6 512.8h21.1v10.8H883.6zM1047.4 512.8h10.8v10.8H1047.4zM412.8 523h62v10.8H412.8zM740.3 523h62v10.8H740.3zM812 523h41.5v10.8H812zM863.2 523h62v10.8H863.2zM934.8 523h10.8v10.8H934.8zM1006.5 523h10.8v10.8H1006.5zM1047.4 523h10.8v10.8H1047.4zM412.8 533.2h62v10.8H412.8zM740.3 533.2h51.8v10.8H740.3zM801.8 533.2h92.7v10.8H801.8zM904.1 533.2h21.1v10.8H904.1zM433.3 543.5h41.5v10.8H433.3zM719.9 543.5h10.8v10.8H719.9zM740.3 543.5h62v10.8H740.3zM812 543.5h31.3v10.8H812zM883.6 543.5h41.5v10.8H883.6zM1006.5 543.5h31.3v10.8H1006.5zM1047.4 543.5h21.1v10.8H1047.4zM433.3 553.7h41.5v10.8H433.3zM719.9 553.7h10.8v10.8H719.9zM740.3 553.7h103v10.8H740.3zM883.6 553.7h51.8v10.8H883.6zM1006.5 553.7h21.1v10.8H1006.5zM1037.2 553.7h21.1v10.8H1037.2zM740.3 563.9h62v10.8H740.3zM812 563.9h31.3v10.8H812zM863.2 563.9h31.3v10.8H863.2zM965.5 563.9h10.8v10.8H965.5zM996.2 563.9h10.8v10.8H996.2zM730.1 574.2h31.3v10.8H730.1zM771.1 574.2h10.8v10.8H771.1zM791.5 574.2h10.8v10.8H791.5zM822.2 574.2h31.3v10.8H822.2zM863.2 574.2h41.5v10.8H863.2zM965.5 574.2h21.1v10.8H965.5zM719.9 584.4h10.8v10.8H719.9zM740.3 584.4h21.1v10.8H740.3zM771.1 584.4h31.3v10.8H771.1zM822.2 584.4h82.5v10.8H822.2zM945.1 584.4h41.5v10.8H945.1zM719.9 594.6h133.7v10.8H719.9zM863.2 594.6h41.5v10.8H863.2zM945.1 594.6h41.5v10.8H945.1zM730.1 604.9h31.3v10.8H730.1zM822.2 604.9h62v10.8H822.2zM893.9 604.9h10.8v10.8H893.9zM965.5 604.9h41.5v10.8H965.5zM1016.7 604.9h10.8v10.8H1016.7zM719.9 615.1h10.8v10.8H719.9zM740.3 615.1h21.1v10.8H740.3zM801.8 615.1h41.5v10.8H801.8zM852.9 615.1h10.8v10.8H852.9zM883.6 615.1h10.8v10.8H883.6zM965.5 615.1h62v10.8H965.5zM740.3 625.3h51.8v10.8H740.3zM801.8 625.3h10.8v10.8H801.8zM822.2 625.3h21.1v10.8H822.2zM863.2 625.3h41.5v10.8H863.2zM945.1 625.3h82.5v10.8H945.1zM730.1 635.6h51.8v10.8H730.1zM791.5 635.6h10.8v10.8H791.5zM822.2 635.6h21.1v10.8H822.2zM863.2 635.6h41.5v10.8H863.2zM945.1 635.6h82.5v10.8H945.1zM699.4 645.8h10.8v10.8H699.4zM719.9 645.8h62v10.8H719.9zM812 645.8h72.2v10.8H812zM904.1 645.8h82.5v10.8H904.1zM668.7 656.1h10.8v10.8H668.7zM719.9 656.1h62v10.8H719.9zM791.5 656.1h10.8v10.8H791.5zM822.2 656.1h62v10.8H822.2zM893.9 656.1h31.3v10.8H893.9zM945.1 656.1h41.5v10.8H945.1zM699.4 666.3h103v10.8H699.4zM812 666.3h21.1v10.8H812zM842.7 666.3h21.1v10.8H842.7zM873.4 666.3h51.8v10.8H873.4zM934.8 666.3h51.8v10.8H934.8zM699.4 676.5h113.2v10.8H699.4zM822.2 676.5h103v10.8H822.2zM945.1 676.5h41.5v10.8H945.1zM699.4 686.8h10.8v10.8H699.4zM719.9 686.8h62v10.8H719.9zM801.8 686.8h10.8v10.8H801.8zM822.2 686.8h41.5v10.8H822.2zM883.6 686.8h10.8v10.8H883.6zM914.3 686.8h51.8v10.8H914.3zM709.6 697h62v10.8H709.6zM781.3 697h10.8v10.8H781.3zM801.8 697h62v10.8H801.8zM904.1 697h10.8v10.8H904.1zM924.6 697h41.5v10.8H924.6zM330.9 707.2h21.1v10.8H330.9zM719.9 707.2h10.8v10.8H719.9zM740.3 707.2h103v10.8H740.3zM863.2 707.2h51.8v10.8H863.2zM924.6 707.2h41.5v10.8H924.6zM269.5 717.5h10.8v10.8H269.5zM330.9 717.5h21.1v10.8H330.9zM740.3 717.5h82.5v10.8H740.3zM832.5 717.5h10.8v10.8H832.5zM863.2 717.5h10.8v10.8H863.2zM883.6 717.5h82.5v10.8H883.6zM689.2 727.7h133.7v10.8H689.2zM832.5 727.7h10.8v10.8H832.5zM863.2 727.7h62v10.8H863.2zM689.2 737.9h133.7v10.8H689.2zM832.5 737.9h10.8v10.8H832.5zM863.2 737.9h31.3v10.8H863.2zM371.9 748.2h10.8v10.8H371.9zM392.3 748.2h41.5v10.8H392.3zM638 748.2h21.1v10.8H638zM678.9 748.2h10.8v10.8H678.9zM699.4 748.2h10.8v10.8H699.4zM719.9 748.2h21.1v10.8H719.9zM760.8 748.2h92.7v10.8H760.8zM863.2 748.2h41.5v10.8H863.2zM914.3 748.2h10.8v10.8H914.3zM371.9 758.4h21.1v10.8H371.9zM412.8 758.4h21.1v10.8H412.8zM638 758.4h10.8v10.8H638zM678.9 758.4h21.1v10.8H678.9zM719.9 758.4h10.8v10.8H719.9zM760.8 758.4h92.7v10.8H760.8zM863.2 758.4h21.1v10.8H863.2zM904.1 758.4h10.8v10.8H904.1zM402.6 768.6h10.8v10.8H402.6zM638 768.6h41.5v10.8H638zM709.6 768.6h31.3v10.8H709.6zM750.6 768.6h10.8v10.8H750.6zM822.2 768.6h21.1v10.8H822.2zM392.3 778.9h21.1v10.8H392.3zM638 778.9h21.1v10.8H638zM668.7 778.9h10.8v10.8H668.7zM699.4 778.9h10.8v10.8H699.4zM719.9 778.9h31.3v10.8H719.9zM801.8 778.9h10.8v10.8H801.8zM822.2 778.9h21.1v10.8H822.2zM638 789.1h41.5v10.8H638zM719.9 789.1h31.3v10.8H719.9zM781.3 789.1h62v10.8H781.3zM873.4 789.1h10.8v10.8H873.4zM893.9 789.1h31.3v10.8H893.9zM934.8 789.1h10.8v10.8H934.8zM638 799.3h41.5v10.8H638zM719.9 799.3h41.5v10.8H719.9zM781.3 799.3h10.8v10.8H781.3zM801.8 799.3h41.5v10.8H801.8zM873.4 799.3h72.2v10.8H873.4zM371.9 809.6h10.8v10.8H371.9zM402.6 809.6h10.8v10.8H402.6zM433.3 809.6h10.8v10.8H433.3zM638 809.6h51.8v10.8H638zM709.6 809.6h21.1v10.8H709.6zM750.6 809.6h10.8v10.8H750.6zM781.3 809.6h113.2v10.8H781.3zM904.1 809.6h51.8v10.8H904.1zM382.1 819.8h31.3v10.8H382.1zM617.5 819.8h62v10.8H617.5zM689.2 819.8h21.1v10.8H689.2zM730.1 819.8h10.8v10.8H730.1zM781.3 819.8h62v10.8H781.3zM863.2 819.8h10.8v10.8H863.2zM904.1 819.8h41.5v10.8H904.1zM955.3 819.8h10.8v10.8H955.3zM412.8 830.1h10.8v10.8H412.8zM576.6 830.1h348.6v10.8H576.6zM945.1 830.1h21.1v10.8H945.1zM433.3 840.3h10.8v10.8H433.3zM576.6 840.3h41.5v10.8H576.6zM627.8 840.3h51.8v10.8H627.8zM689.2 840.3h236v10.8H689.2zM934.8 840.3h10.8v10.8H934.8zM955.3 840.3h10.8v10.8H955.3zM576.6 850.5h123.4v10.8H576.6zM719.9 850.5h82.5v10.8H719.9zM822.2 850.5h21.1v10.8H822.2zM924.6 850.5h21.1v10.8H924.6zM576.6 860.8h123.4v10.8H576.6zM719.9 860.8h41.5v10.8H719.9zM771.1 860.8h31.3v10.8H771.1zM822.2 860.8h21.1v10.8H822.2zM924.6 860.8h21.1v10.8H924.6zM576.6 871h10.8v10.8H576.6zM597.1 871h10.8v10.8H597.1zM617.5 871h21.1v10.8H617.5zM648.2 871h143.9v10.8H648.2zM822.2 871h21.1v10.8H822.2zM576.6 881.2h225.8v10.8H576.6zM822.2 881.2h21.1v10.8H822.2zM678.9 891.5h41.5v10.8H678.9zM678.9 901.7h41.5v10.8H678.9zM678.9 911.9h21.1v10.8H678.9zM678.9 922.2h21.1v10.8H678.9z"/><path fill="#ef3a50" d="M975.8 154.5h10.8v10.8H975.8zM1006.5 154.5h21.1v10.8H1006.5zM965.5 164.8h21.1v10.8H965.5zM1006.5 164.8h21.1v10.8H1006.5zM924.6 175h21.1v10.8H924.6zM924.6 185.2h21.1v10.8H924.6zM914.3 195.5h10.8v10.8H914.3zM904.1 205.7h21.1v10.8H904.1zM904.1 215.9h62v10.8H904.1zM893.9 226.2h10.8v10.8H893.9zM924.6 226.2h41.5v10.8H924.6zM904.1 236.4h21.1v10.8H904.1zM945.1 236.4h41.5v10.8H945.1zM904.1 246.6h21.1v10.8H904.1zM945.1 246.6h41.5v10.8H945.1zM822.2 256.9h10.8v10.8H822.2zM883.6 256.9h123.4v10.8H883.6zM883.6 267.1h21.1v10.8H883.6zM914.3 267.1h92.7v10.8H914.3zM822.2 277.3h21.1v10.8H822.2zM883.6 277.3h31.3v10.8H883.6zM924.6 277.3h62v10.8H924.6zM822.2 287.6h21.1v10.8H822.2zM863.2 287.6h10.8v10.8H863.2zM883.6 287.6h103v10.8H883.6zM719.9 297.8h31.3v10.8H719.9zM812 297.8h31.3v10.8H812zM883.6 297.8h21.1v10.8H883.6zM914.3 297.8h51.8v10.8H914.3zM709.6 308.1h10.8v10.8H709.6zM730.1 308.1h31.3v10.8H730.1zM822.2 308.1h21.1v10.8H822.2zM852.9 308.1h10.8v10.8H852.9zM883.6 308.1h82.5v10.8H883.6zM576.6 318.3h10.8v10.8H576.6zM719.9 318.3h62v10.8H719.9zM832.5 318.3h10.8v10.8H832.5zM863.2 318.3h72.2v10.8H863.2zM945.1 318.3h10.8v10.8H945.1zM658.5 328.5h10.8v10.8H658.5zM719.9 328.5h10.8v10.8H719.9zM750.6 328.5h31.3v10.8H750.6zM822.2 328.5h21.1v10.8H822.2zM852.9 328.5h10.8v10.8H852.9zM873.4 328.5h62v10.8H873.4zM955.3 328.5h10.8v10.8H955.3zM627.8 338.8h41.5v10.8H627.8zM678.9 338.8h51.8v10.8H678.9zM740.3 338.8h41.5v10.8H740.3zM863.2 338.8h41.5v10.8H863.2zM607.3 349h10.8v10.8H607.3zM638 349h41.5v10.8H638zM689.2 349h92.7v10.8H689.2zM873.4 349h10.8v10.8H873.4zM893.9 349h10.8v10.8H893.9zM617.5 359.2h10.8v10.8H617.5zM638 359.2h51.8v10.8H638zM699.4 359.2h31.3v10.8H699.4zM822.2 359.2h62v10.8H822.2zM556.1 369.5h10.8v10.8H556.1zM617.5 369.5h51.8v10.8H617.5zM678.9 369.5h62v10.8H678.9zM822.2 369.5h62v10.8H822.2zM597.1 379.7h10.8v10.8H597.1zM617.5 379.7h21.1v10.8H617.5zM597.1 389.9h41.5v10.8H597.1zM648.2 389.9h10.8v10.8H648.2zM771.1 420.6h21.1v10.8H771.1zM760.8 430.9h10.8v10.8H760.8zM699.4 441.1h21.1v10.8H699.4zM791.5 441.1h10.8v10.8H791.5zM699.4 451.3h10.8v10.8H699.4zM791.5 451.3h10.8v10.8H791.5zM474.2 461.6h21.1v10.8H474.2zM545.9 461.6h10.8v10.8H545.9zM730.1 461.6h10.8v10.8H730.1zM781.3 461.6h21.1v10.8H781.3zM965.5 461.6h10.8v10.8H965.5zM996.2 461.6h10.8v10.8H996.2zM1067.9 461.6h21.1v10.8H1067.9zM484.5 471.8h10.8v10.8H484.5zM504.9 471.8h10.8v10.8H504.9zM535.6 471.8h21.1v10.8H535.6zM760.8 471.8h31.3v10.8H760.8zM965.5 471.8h10.8v10.8H965.5zM996.2 471.8h10.8v10.8H996.2zM1047.4 471.8h10.8v10.8H1047.4zM1067.9 471.8h21.1v10.8H1067.9zM545.9 482.1h10.8v10.8H545.9zM760.8 482.1h10.8v10.8H760.8zM781.3 482.1h21.1v10.8H781.3zM955.3 482.1h31.3v10.8H955.3zM996.2 482.1h72.2v10.8H996.2zM535.6 492.3h21.1v10.8H535.6zM750.6 492.3h51.8v10.8H750.6zM945.1 492.3h31.3v10.8H945.1zM986 492.3h62v10.8H986zM1057.6 492.3h10.8v10.8H1057.6zM412.8 502.5h21.1v10.8H412.8zM443.5 502.5h10.8v10.8H443.5zM893.9 502.5h10.8v10.8H893.9zM945.1 502.5h31.3v10.8H945.1zM1067.9 502.5h10.8v10.8H1067.9zM412.8 512.8h41.5v10.8H412.8zM812 512.8h10.8v10.8H812zM873.4 512.8h10.8v10.8H873.4zM975.8 512.8h10.8v10.8H975.8zM1057.6 512.8h10.8v10.8H1057.6zM1078.1 512.8h10.8v10.8H1078.1zM494.7 523h10.8v10.8H494.7zM852.9 523h10.8v10.8H852.9zM924.6 523h10.8v10.8H924.6zM945.1 523h41.5v10.8H945.1zM1016.7 523h31.3v10.8H1016.7zM1057.6 523h10.8v10.8H1057.6zM494.7 533.2h21.1v10.8H494.7zM791.5 533.2h10.8v10.8H791.5zM893.9 533.2h10.8v10.8H893.9zM934.8 533.2h92.7v10.8H934.8zM1037.2 533.2h31.3v10.8H1037.2zM412.8 543.5h21.1v10.8H412.8zM801.8 543.5h10.8v10.8H801.8zM965.5 543.5h10.8v10.8H965.5zM986 543.5h21.1v10.8H986zM1067.9 543.5h41.5v10.8H1067.9zM423.1 553.7h10.8v10.8H423.1zM965.5 553.7h41.5v10.8H965.5zM1057.6 553.7h51.8v10.8H1057.6zM412.8 563.9h10.8v10.8H412.8zM719.9 563.9h21.1v10.8H719.9zM842.7 563.9h21.1v10.8H842.7zM893.9 563.9h10.8v10.8H893.9zM945.1 563.9h21.1v10.8H945.1zM781.3 574.2h10.8v10.8H781.3zM852.9 574.2h10.8v10.8H852.9zM945.1 574.2h21.1v10.8H945.1zM730.1 584.4h10.8v10.8H730.1zM760.8 584.4h10.8v10.8H760.8zM914.3 584.4h10.8v10.8H914.3zM986 584.4h41.5v10.8H986zM852.9 594.6h10.8v10.8H852.9zM904.1 594.6h10.8v10.8H904.1zM986 594.6h41.5v10.8H986zM668.7 604.9h10.8v10.8H668.7zM883.6 604.9h10.8v10.8H883.6zM904.1 604.9h10.8v10.8H904.1zM955.3 604.9h10.8v10.8H955.3zM1006.5 604.9h10.8v10.8H1006.5zM566.3 615.1h10.8v10.8H566.3zM658.5 615.1h21.1v10.8H658.5zM893.9 615.1h10.8v10.8H893.9zM955.3 615.1h10.8v10.8H955.3zM566.3 625.3h21.1v10.8H566.3zM648.2 625.3h51.8v10.8H648.2zM904.1 625.3h41.5v10.8H904.1zM566.3 635.6h31.3v10.8H566.3zM617.5 635.6h31.3v10.8H617.5zM658.5 635.6h31.3v10.8H658.5zM699.4 635.6h10.8v10.8H699.4zM904.1 635.6h41.5v10.8H904.1zM617.5 645.8h10.8v10.8H617.5zM638 645.8h10.8v10.8H638zM658.5 645.8h21.1v10.8H658.5zM709.6 645.8h10.8v10.8H709.6zM791.5 645.8h10.8v10.8H791.5zM883.6 645.8h21.1v10.8H883.6zM617.5 656.1h10.8v10.8H617.5zM658.5 656.1h10.8v10.8H658.5zM699.4 656.1h21.1v10.8H699.4zM781.3 656.1h10.8v10.8H781.3zM801.8 656.1h21.1v10.8H801.8zM883.6 656.1h10.8v10.8H883.6zM924.6 656.1h21.1v10.8H924.6zM617.5 666.3h62v10.8H617.5zM801.8 666.3h10.8v10.8H801.8zM832.5 666.3h10.8v10.8H832.5zM863.2 666.3h10.8v10.8H863.2zM617.5 676.5h51.8v10.8H617.5zM812 676.5h10.8v10.8H812zM412.8 686.8h21.1v10.8H412.8zM607.3 686.8h10.8v10.8H607.3zM709.6 686.8h10.8v10.8H709.6zM781.3 686.8h21.1v10.8H781.3zM812 686.8h10.8v10.8H812zM863.2 686.8h21.1v10.8H863.2zM893.9 686.8h10.8v10.8H893.9zM412.8 697h21.1v10.8H412.8zM607.3 697h10.8v10.8H607.3zM699.4 697h10.8v10.8H699.4zM771.1 697h10.8v10.8H771.1zM791.5 697h10.8v10.8H791.5zM863.2 697h41.5v10.8H863.2zM269.5 707.2h21.1v10.8H269.5zM433.3 707.2h21.1v10.8H433.3zM730.1 707.2h10.8v10.8H730.1zM279.8 717.5h10.8v10.8H279.8zM443.5 717.5h10.8v10.8H443.5zM719.9 717.5h21.1v10.8H719.9zM873.4 717.5h10.8v10.8H873.4zM290 727.7h10.8v10.8H290zM341.2 727.7h10.8v10.8H341.2zM945.1 727.7h21.1v10.8H945.1zM290 737.9h21.1v10.8H290zM330.9 737.9h10.8v10.8H330.9zM433.3 737.9h10.8v10.8H433.3zM924.6 737.9h10.8v10.8H924.6zM945.1 737.9h21.1v10.8H945.1zM310.5 748.2h10.8v10.8H310.5zM382.1 748.2h10.8v10.8H382.1zM740.3 748.2h10.8v10.8H740.3zM852.9 748.2h10.8v10.8H852.9zM924.6 748.2h41.5v10.8H924.6zM392.3 758.4h21.1v10.8H392.3zM730.1 758.4h21.1v10.8H730.1zM852.9 758.4h10.8v10.8H852.9zM914.3 758.4h51.8v10.8H914.3zM167.2 768.6h10.8v10.8H167.2zM249.1 768.6h10.8v10.8H249.1zM392.3 768.6h10.8v10.8H392.3zM423.1 768.6h10.8v10.8H423.1zM801.8 768.6h21.1v10.8H801.8zM852.9 768.6h10.8v10.8H852.9zM883.6 768.6h82.5v10.8H883.6zM167.2 778.9h21.1v10.8H167.2zM259.3 778.9h10.8v10.8H259.3zM412.8 778.9h21.1v10.8H412.8zM658.5 778.9h10.8v10.8H658.5zM812 778.9h10.8v10.8H812zM914.3 778.9h31.3v10.8H914.3zM750.6 789.1h21.1v10.8H750.6zM863.2 789.1h10.8v10.8H863.2zM883.6 789.1h10.8v10.8H883.6zM924.6 789.1h10.8v10.8H924.6zM371.9 799.3h21.1v10.8H371.9zM760.8 799.3h10.8v10.8H760.8zM791.5 799.3h10.8v10.8H791.5zM863.2 799.3h10.8v10.8H863.2zM945.1 799.3h10.8v10.8H945.1zM382.1 809.6h10.8v10.8H382.1zM423.1 809.6h10.8v10.8H423.1zM443.5 809.6h31.3v10.8H443.5zM556.1 809.6h10.8v10.8H556.1zM699.4 809.6h10.8v10.8H699.4zM730.1 809.6h21.1v10.8H730.1zM760.8 809.6h10.8v10.8H760.8zM893.9 809.6h10.8v10.8H893.9zM371.9 819.8h10.8v10.8H371.9zM412.8 819.8h10.8v10.8H412.8zM433.3 819.8h21.1v10.8H433.3zM464 819.8h10.8v10.8H464zM556.1 819.8h21.1v10.8H556.1zM709.6 819.8h21.1v10.8H709.6zM740.3 819.8h41.5v10.8H740.3zM883.6 819.8h21.1v10.8H883.6zM423.1 830.1h10.8v10.8H423.1zM443.5 830.1h10.8v10.8H443.5zM412.8 840.3h21.1v10.8H412.8zM443.5 840.3h10.8v10.8H443.5zM617.5 840.3h10.8v10.8H617.5zM678.9 840.3h10.8v10.8H678.9zM945.1 840.3h10.8v10.8H945.1zM699.4 850.5h21.1v10.8H699.4zM699.4 860.8h21.1v10.8H699.4zM760.8 860.8h10.8v10.8H760.8zM638 871h10.8v10.8H638zM791.5 871h10.8v10.8H791.5z"/><path fill="#0086be" d="M1047.4 175h21.1v10.8H1047.4zM1047.4 185.2h21.1v10.8H1047.4zM535.6 379.7h10.8v10.8H535.6zM709.6 379.7h10.8v10.8H709.6zM535.6 389.9h21.1v10.8H535.6zM453.8 420.6h21.1v10.8H453.8zM453.8 430.9h21.1v10.8H453.8zM1129.3 461.6h10.8v10.8H1129.3zM1067.9 482.1h21.1v10.8H1067.9zM1108.8 482.1h10.8v10.8H1108.8zM1129.3 482.1h41.5v10.8H1129.3zM1067.9 492.3h21.1v10.8H1067.9zM1098.6 492.3h10.8v10.8H1098.6zM1129.3 492.3h41.5v10.8H1129.3zM1078.1 502.5h51.8v10.8H1078.1zM1149.8 502.5h21.1v10.8H1149.8zM1067.9 512.8h10.8v10.8H1067.9zM1088.3 512.8h41.5v10.8H1088.3zM1149.8 512.8h21.1v10.8H1149.8zM842.7 543.5h41.5v10.8H842.7zM842.7 553.7h41.5v10.8H842.7zM525.4 748.2h10.8v10.8H525.4zM515.2 758.4h21.1v10.8H515.2zM494.7 789.1h10.8v10.8H494.7zM801.8 850.5h21.1v10.8H801.8zM842.7 850.5h10.8v10.8H842.7zM863.2 850.5h62v10.8H863.2zM801.8 860.8h21.1v10.8H801.8zM863.2 860.8h62v10.8H863.2zM801.8 881.2h10.8v10.8H801.8zM607.3 891.5h10.8v10.8H607.3zM648.2 891.5h10.8v10.8H648.2zM719.9 891.5h41.5v10.8H719.9zM586.8 901.7h10.8v10.8H586.8zM607.3 901.7h10.8v10.8H607.3zM638 901.7h10.8v10.8H638zM719.9 901.7h10.8v10.8H719.9zM658.5 911.9h21.1v10.8H658.5zM658.5 922.2h21.1v10.8H658.5zM658.5 932.4h41.5v10.8H658.5zM658.5 942.6h41.5v10.8H658.5zM658.5 952.9h41.5v10.8H658.5zM658.5 963.1h41.5v10.8H658.5z"/><rect x="413.1" y="277.7" width="10.7" height="10.4" fill="#00b8a8"/><rect x="393.7" y="308.8" width="9.4" height="9.4" fill="#ffc96b"/><rect x="423.8" y="308.8" width="9.4" height="9.4" fill="#ffc96b"/><rect x="403.1" y="326.7" width="10.4" height="10.4" fill="#ffc96b"/><rect x="627.8" y="113.9" width="10.4" height="9.4" fill="#0086be"/><rect x="515.7" y="123.3" width="9.4" height="9.4" fill="#00b8a8"/><rect x="618.3" y="308.8" width="20.7" height="28.2" fill="#0086be"/><rect x="671.1" y="308.8" width="9.4" height="18.8" fill="#0086be"/><rect x="680.5" y="318.2" width="8.5" height="9.4" fill="#0086be"/><rect x="649.4" y="308.8" width="9.4" height="9.4" fill="#78d6a0"/><rect x="536.4" y="371" width="20.7" height="9" fill="#0086be"/><rect x="824.5" y="195.8" width="9.4" height="8.5" fill="#0086be"/><rect x="824.5" y="204.3" width="9.4" height="8.5" fill="#00b8a8"/><rect x="526.1" y="205.2" width="9.4" height="9.4" fill="#ff6644"/><rect x="702.1" y="350.2" width="9.4" height="9.4" fill="#b70044"/><rect x="711.6" y="363.4" width="9.4" height="7.5" fill="#b70044"/><rect x="978.6" y="73.4" width="18.8" height="7.9" fill="#00b8a8"/><rect x="999.3" y="82.8" width="7.5" height="9.4" fill="#00b8a8"/><rect x="927.7" y="96" width="28.2" height="15.1" fill="#00b8a8"/><rect x="974.8" y="94.1" width="11.3" height="7.5" fill="#00b8a8"/><rect x="948.5" y="114.9" width="7.5" height="7.5" fill="#00b8a8"/><rect x="1010.6" y="103.6" width="5.6" height="7.5" fill="#00b8a8"/><rect x="1029.4" y="124.3" width="7.5" height="9.4" fill="#78d6a0"/><rect x="905.1" y="148.8" width="9.4" height="13.2" fill="#78d6a0"/><rect x="933.4" y="152.5" width="15.1" height="11.3" fill="#ffee9f"/><rect x="966.3" y="163.8" width="19.8" height="18.8" fill="#b70044"/><rect x="1050.1" y="154.4" width="18.8" height="9.4" fill="#0086be"/><rect x="1038.8" y="173.2" width="20.7" height="9.4" fill="#0086be"/><rect x="988" y="186.4" width="11.3" height="9.4" fill="#0086be"/><rect x="978.6" y="195.8" width="9.4" height="9.4" fill="#eef9a6"/><rect x="978.6" y="205.2" width="9.4" height="9.4" fill="#00b8a8"/><rect x="978.6" y="216.5" width="9.4" height="9.4" fill="#ffee9f"/><rect x="1020" y="237.3" width="9.4" height="7.5" fill="#c3ec93"/><rect x="1035.1" y="237.3" width="16.9" height="7.5" fill="#0086be"/><rect x="1038.8" y="250.4" width="11.3" height="7.5" fill="#0086be"/><rect x="864.7" y="297.5" width="19.8" height="11.3" fill="#b70044"/><rect x="956" y="299.4" width="9.4" height="9.4" fill="#b70044"/><rect x="465.2" y="412" width="10.4" height="39.5" fill="#0086be"/><rect x="476.5" y="412" width="9.4" height="18.8" fill="#eef9a6"/><rect x="486" y="421.4" width="9" height="20.7" fill="#00b8a8"/><rect x="476.5" y="472.3" width="18.5" height="58.4" fill="#b70044"/><rect x="422.9" y="525" width="21.7" height="28.2" fill="#b70044"/><rect x="455.8" y="534.4" width="9.4" height="22.6" fill="#b70044"/><rect x="444.5" y="553.2" width="20.7" height="9.4" fill="#b70044"/><rect x="448.3" y="534.4" width="7.5" height="9.4" fill="#ff9b50"/><rect x="446.4" y="504.3" width="9.4" height="7.5" fill="#b70044"/><rect x="403.1" y="564.5" width="9.4" height="9.4" fill="#b70044"/><rect x="373" y="575.8" width="9.4" height="9.4" fill="#0086be"/><rect x="384.3" y="575.8" width="26.4" height="18.8" fill="#00b8a8"/><rect x="382.4" y="606" width="11.3" height="10.4" fill="#ffffff"/><rect x="372" y="606" width="9.4" height="11.3" fill="#0086be"/><rect x="382.4" y="617.3" width="18.8" height="7.5" fill="#00b8a8"/><rect x="423.8" y="606" width="20.7" height="9.4" fill="#ff6644"/><rect x="433.2" y="636.1" width="11.3" height="11.3" fill="#0086be"/><rect x="444.5" y="636.1" width="9.4" height="9.4" fill="#78d6a0"/><rect x="486" y="585.3" width="9" height="20.7" fill="#ffffff"/><rect x="465.2" y="615.4" width="29.8" height="9.4" fill="#ffffff"/><rect x="476.5" y="606" width="18.5" height="9.4" fill="#ffffff"/><rect x="373" y="677.5" width="9.4" height="20.7" fill="#0086be"/><rect x="322.1" y="688.8" width="9.4" height="9.4" fill="#78d6a0"/><rect x="322.1" y="707.7" width="9.4" height="11.3" fill="#ffee9f"/><rect x="373" y="666.2" width="18.8" height="9.4" fill="#eef9a6"/><rect x="395.6" y="639.9" width="9.4" height="18.8" fill="#eef9a6"/><rect x="515.7" y="525" width="71.6" height="39.5" fill="#ffffff"/><rect x="587.3" y="513.7" width="10.4" height="28.2" fill="#ffffff"/><rect x="515.7" y="564.5" width="41.4" height="41.4" fill="#ffffff"/><rect x="495" y="585.3" width="18.8" height="39.5" fill="#ffffff"/><rect x="536.4" y="543.8" width="10.4" height="10.4" fill="#ef3a50"/><rect x="536.4" y="574.9" width="10.4" height="10.4" fill="#0086be"/><rect x="515.7" y="594.7" width="10.4" height="10.4" fill="#ef3a50"/><rect x="679.5" y="472.3" width="10.4" height="10.4" fill="#0086be"/><rect x="730.4" y="482.6" width="10.4" height="10.4" fill="#0086be"/><rect x="741.7" y="502.4" width="9.4" height="9.4" fill="#00b8a8"/><rect x="751.1" y="502.4" width="9.4" height="9.4" fill="#78d6a0"/><rect x="792.5" y="502.4" width="20.7" height="9.4" fill="#c3ec93"/><rect x="813.2" y="564.5" width="10.4" height="10.4" fill="#ffffff"/><rect x="792.5" y="585.3" width="11.3" height="20.7" fill="#ffffff"/><rect x="773.7" y="596.6" width="18.8" height="9.4" fill="#0086be"/><rect x="773.7" y="606" width="18.8" height="9.4" fill="#ffffff"/><rect x="762.4" y="606" width="11.3" height="9.4" fill="#ffee9f"/><rect x="536.4" y="380" width="18.8" height="5.6" fill="#0086be"/><rect x="711.6" y="389.4" width="9.4" height="11.3" fill="#0086be"/><rect x="566.6" y="400.7" width="9.4" height="9.4" fill="#ffffff"/><rect x="495" y="647.4" width="18.8" height="18.8" fill="#00b8a8"/><rect x="536.4" y="626.7" width="9.4" height="9.4" fill="#00b8a8"/><rect x="536.4" y="709.5" width="9.4" height="9.4" fill="#ffffff"/><rect x="640" y="688.8" width="11.3" height="22.6" fill="#78d6a0"/><rect x="660.7" y="707.7" width="9.4" height="20.3" fill="#00b8a8"/><rect x="608" y="711.4" width="9.4" height="16.6" fill="#78d6a0"/><rect x="597.6" y="543.8" width="10.4" height="10.4" fill="#b70044"/><rect x="834" y="717.1" width="9" height="10.9" fill="#c3ec93"/><rect x="976.7" y="493" width="20.7" height="10.4" fill="#ffffff"/><rect x="997.4" y="493" width="9.4" height="10.4" fill="#ffee9f"/><rect x="1018.1" y="493" width="10.4" height="10.4" fill="#ffffff"/><rect x="1008.7" y="503.3" width="9.4" height="8.5" fill="#ffee9f"/><rect x="1038.8" y="493" width="9.4" height="10.4" fill="#c3ec93"/><rect x="1038.8" y="503.3" width="9.4" height="8.5" fill="#00b8a8"/><rect x="1038.8" y="511.8" width="9.4" height="9.4" fill="#eef9a6"/><rect x="1069" y="493" width="62.1" height="11.3" fill="#0086be"/><rect x="1110.4" y="504.3" width="20.7" height="18.8" fill="#0086be"/><rect x="1089.7" y="503.3" width="20.7" height="19.8" fill="#ffffff"/><rect x="1080.3" y="504.3" width="9.4" height="18.8" fill="#0086be"/><rect x="1080.3" y="472.3" width="9.4" height="10.4" fill="#c3ec93"/><rect x="1101" y="472.3" width="9.4" height="10.4" fill="#c3ec93"/><rect x="1110.4" y="472.3" width="11.3" height="10.4" fill="#78d6a0"/><rect x="1142.4" y="511.8" width="9.4" height="11.3" fill="#ffffff"/><rect x="1151.8" y="511.8" width="11.3" height="15.1" fill="#0086be"/><rect x="1136.8" y="477.9" width="26.4" height="9.4" fill="#0086be"/><rect x="1082.2" y="523.1" width="28.2" height="9.4" fill="#78d6a0"/><rect x="846.8" y="534.4" width="37.7" height="28.2" fill="#0086be"/><rect x="854.3" y="532.5" width="20.7" height="3.8" fill="#0086be"/><rect x="843" y="534.4" width="9.4" height="9.4" fill="#ff9b50"/><rect x="875" y="534.4" width="9.4" height="9.4" fill="#ff9b50"/><rect x="884.4" y="554.2" width="11.3" height="10.4" fill="#ffee9f"/><rect x="843" y="564.5" width="11.3" height="10.4" fill="#ffee9f"/><rect x="967.3" y="525" width="9.4" height="18.8" fill="#00b8a8"/><rect x="978.6" y="525" width="9.4" height="9.4" fill="#ffee9f"/><rect x="967.3" y="543.8" width="9.4" height="10.4" fill="#ffee9f"/><rect x="946.6" y="543.8" width="9.4" height="10.4" fill="#ffee9f"/><rect x="956" y="543.8" width="9.4" height="10.4" fill="#0086be"/><rect x="937.2" y="554.2" width="18.8" height="10.4" fill="#0086be"/><rect x="925.9" y="554.2" width="9.4" height="10.4" fill="#eef9a6"/><rect x="925.9" y="564.5" width="11.3" height="7.5" fill="#0086be"/><rect x="937.2" y="564.5" width="9.4" height="9.4" fill="#78d6a0"/><rect x="925.9" y="579.6" width="9.4" height="16.9" fill="#ffffff"/><rect x="925.9" y="596.6" width="30.1" height="9.4" fill="#ffffff"/><rect x="937.2" y="606" width="9.4" height="9.4" fill="#ffffff"/><rect x="925.9" y="617.3" width="9.4" height="9.4" fill="#00b8a8"/><rect x="937.2" y="617.3" width="9.4" height="9.4" fill="#0086be"/><rect x="925.9" y="606" width="9.4" height="9.4" fill="#ffee9f"/><rect x="865.6" y="606" width="18.8" height="7.5" fill="#ff9b50"/><rect x="843" y="615.4" width="18.8" height="18.8" fill="#ff9b50"/><rect x="884.4" y="647.4" width="20.7" height="18.8" fill="#ef3a50"/><rect x="925.9" y="647.4" width="20.7" height="9.4" fill="#ef3a50"/><rect x="925.9" y="677.5" width="11.3" height="9.4" fill="#ff9b50"/><rect x="875" y="677.5" width="18.8" height="22.6" fill="#ef3a50"/><rect x="914.6" y="688.8" width="11.3" height="9.4" fill="#ff9b50"/><rect x="905.1" y="698.2" width="9.4" height="9.4" fill="#ff9b50"/><rect x="978.6" y="557" width="28.2" height="16.9" fill="#c3ec93"/><rect x="1018.1" y="634.2" width="7.5" height="9.4" fill="#c3ec93"/><rect x="199.7" y="778.8" width="9.4" height="9.4" fill="#00b8a8"/><rect x="177.1" y="778.8" width="9.4" height="9.4" fill="#ef3a50"/><rect x="280.7" y="830.6" width="9.4" height="9.4" fill="#00b8a8"/><rect x="341" y="851.3" width="10.4" height="9.4" fill="#0086be"/><rect x="310.8" y="851.3" width="9.4" height="8.5" fill="#ff9b50"/><rect x="465.2" y="790.1" width="9.4" height="7.5" fill="#00b8a8"/><rect x="478.4" y="799.6" width="7.5" height="7.5" fill="#00b8a8"/><rect x="467.1" y="830.6" width="9.4" height="10.4" fill="#00b8a8"/><rect x="476.5" y="830.6" width="9.4" height="8.5" fill="#0086be"/><rect x="446.4" y="852.3" width="9.4" height="7.5" fill="#00b8a8"/><rect x="388" y="780.7" width="7.5" height="7.5" fill="#0086be"/><rect x="271.3" y="790.1" width="7.5" height="7.5" fill="#78d6a0"/><rect x="280.7" y="790.1" width="9.4" height="7.5" fill="#ff9b50"/><rect x="310.8" y="790.1" width="9.4" height="7.5" fill="#ffc96b"/><rect x="526.1" y="748.7" width="9.4" height="9.4" fill="#0086be"/><rect x="547.7" y="758.1" width="9.4" height="10.4" fill="#00b8a8"/><rect x="495" y="769.4" width="9.4" height="9.4" fill="#00b8a8"/><rect x="495" y="788.3" width="18.8" height="9.4" fill="#0086be"/><rect x="619.3" y="739.3" width="16.9" height="7.5" fill="#00b8a8"/><rect x="602.3" y="739.3" width="7.5" height="7.5" fill="#00b8a8"/><rect x="566.6" y="759.1" width="9.4" height="9.4" fill="#00b8a8"/><rect x="589.2" y="778.8" width="18.8" height="9.4" fill="#0086be"/><rect x="527" y="799.6" width="9.4" height="9.4" fill="#00b8a8"/><rect x="570.3" y="799.6" width="7.5" height="9.4" fill="#00b8a8"/><rect x="598.6" y="810.9" width="9.4" height="9.4" fill="#00b8a8"/><rect x="547.7" y="841" width="18.8" height="7.5" fill="#00b8a8"/><rect x="608" y="820.3" width="9.4" height="9.4" fill="#c3ec93"/><rect x="709.7" y="830.6" width="11.3" height="10.4" fill="#ffffff"/><rect x="751.1" y="840" width="11.3" height="10.4" fill="#ffffff"/><rect x="771.8" y="840" width="11.3" height="10.4" fill="#ffffff"/><rect x="803.8" y="840" width="20.7" height="10.4" fill="#ffffff"/><rect x="711.6" y="851.3" width="18.8" height="19.8" fill="#ef3a50"/><rect x="730.4" y="859.8" width="9.4" height="11.3" fill="#ef3a50"/><rect x="803.8" y="850.4" width="9.4" height="24.5" fill="#0086be"/><rect x="690.8" y="790.1" width="30.1" height="9.4" fill="#ffc96b"/><rect x="681.4" y="799.6" width="39.5" height="11.3" fill="#c3ec93"/><rect x="711.6" y="775.1" width="9.4" height="15.1" fill="#c3ec93"/><rect x="753" y="758.1" width="13.2" height="16.9" fill="#c3ec93"/><rect x="762.4" y="786.4" width="9.4" height="11.3" fill="#78d6a0"/><rect x="773.7" y="769.4" width="30.1" height="20.7" fill="#ff9b50"/><rect x="803.8" y="769.4" width="9.4" height="9.4" fill="#ffee9f"/><rect x="794.4" y="778.8" width="9.4" height="7.5" fill="#ffee9f"/><rect x="658.8" y="758.1" width="9.4" height="10.4" fill="#c3ec93"/><rect x="681.4" y="769.4" width="9.4" height="11.3" fill="#c3ec93"/><rect x="670.1" y="922" width="24.5" height="39.5" fill="#0086be"/><rect x="598.6" y="905" width="9.4" height="4.7" fill="#0086be"/><rect x="649.4" y="905" width="9.4" height="4.7" fill="#0086be"/><rect x="721" y="905" width="24.5" height="4.7" fill="#0086be"/><rect x="754.9" y="891.8" width="7.5" height="7.5" fill="#0086be"/><rect x="702.1" y="912.5" width="9.4" height="5.6" fill="#0086be"/><rect x="843" y="728" width="9.4" height="11.3" fill="#ffee9f"/><rect x="843" y="739.3" width="9.4" height="9.4" fill="#ff9b50"/><rect x="854.3" y="737.4" width="9.4" height="9.4" fill="#c3ec93"/><rect x="895.7" y="739.3" width="9.4" height="9.4" fill="#c3ec93"/><rect x="895.7" y="748.7" width="18.8" height="9.4" fill="#c3ec93"/><rect x="937.2" y="731.8" width="9.4" height="15.1" fill="#c3ec93"/><rect x="929.6" y="746.8" width="7.5" height="9.4" fill="#c3ec93"/><rect x="907" y="765.7" width="18.8" height="11.3" fill="#c3ec93"/><rect x="957.9" y="771.3" width="7.5" height="13.2" fill="#c3ec93"/><rect x="957.9" y="788.3" width="7.5" height="9.4" fill="#ff9b50"/><rect x="854.3" y="810.9" width="9.4" height="9.4" fill="#ff9b50"/><rect x="865.6" y="810.9" width="8.5" height="9.4" fill="#00b8a8"/><rect x="884.4" y="810.9" width="11.3" height="9.4" fill="#ef3a50"/><rect x="957.9" y="810.9" width="5.6" height="7.5" fill="#ffee9f"/><rect x="957.9" y="820.3" width="7.5" height="7.5" fill="#0086be"/><rect x="935.3" y="839.1" width="9.4" height="9.4" fill="#c3ec93"/><rect x="843" y="852.3" width="9.4" height="16.9" fill="#0086be"/><rect x="854.3" y="852.3" width="9.4" height="7.5" fill="#eef9a6"/><rect x="863.7" y="852.3" width="73.4" height="5.6" fill="#0086be"/><rect x="863.7" y="769.4" width="9.4" height="9.4" fill="#ff9b50"/><rect x="884.4" y="777" width="9.4" height="7.5" fill="#ffc96b"/><rect x="856.2" y="790.1" width="7.5" height="7.5" fill="#c3ec93"/><rect x="843" y="799.6" width="9.4" height="7.5" fill="#ff9b50"/><rect x="925.9" y="778.8" width="9.4" height="7.5" fill="#ef3a50"/></g><g fill="none" stroke="#050505" stroke-width="5.3" stroke-linejoin="round" stroke-linecap="round"><path d="M367.6,295.4 372.5,291.3 388.7,286.5 391.1,275.9 396,271 414.7,269.4 422.8,261.3 430.9,264.5 450.4,260.5 466.6,258.1 476.4,250.7 489.4,248.3 502.3,245.9 507.2,240.2 506.4,224 508.8,206.1 513.7,196.4 520.2,186.6 534.8,182.6 537.2,173.6 538.9,150.9 549.4,146 555.1,142.8 552.7,135.5 542.9,133.9 530.7,133.1 544.5,124.1 538.9,120.9 536.4,111.9 541.3,102.2 549.4,96.5 564,91.7 583.5,87.6 607.9,82.7 632.2,79.5 608,80 626.8,78.1 645.6,78.7 656.9,81.9 664.5,88.5 670.1,94.1 681.4,97 692.7,102.6 700.3,110.1 711.6,113 722.9,111.1 725.7,104.5 739.8,102.6 756.8,101.7 763.3,95.1 770.9,96 777.5,102.6 785,105.4 790.6,114.9 796.3,121.4 783.1,131.8 777.5,137.5 786.9,143.1 798.2,129.9 803.8,124.3 818.9,126.2 822.7,114.9 828.3,103.6 843,104.5 843,104.5 852.4,107.3 859.9,113.9 871.2,113 882.5,109.2 888.2,101.7 901.4,97.9 899.5,90.4 888.2,84.7 880.7,79.1 886.3,74.4 899.5,72.5 914.6,69.7 918.3,62.1 925.9,52.7 937.2,46.1 948.5,45.2 963.5,45.2 974.8,48.9 983.3,50.8 988,60.2 997.4,64 1003.1,71.5 1010.6,73.4 1014.4,82.8 1021.9,90.4 1025.7,99.8 1031.3,105.4 1040.7,109.2 1048.3,111.1 1055.8,109.2 1059.6,114.9 1061.4,122.4 1069,129.9 1074.6,137.5 1078.4,146.9 1084,154.4 1078.4,156.3 1069,160.1 1063.3,171.4 1055.8,180.8 1046.4,184.5 1035.1,188.3 1027.5,190.2 1020,193 1014.4,188.3 1006.8,186.4 999.3,190.2 993.6,197.7 991.8,207.1 993.6,216.5 999.3,224.1 1004.9,231.6 1012.5,234.4 1023.8,232.6 1029.4,235.4 1031.3,240.1 1042.6,238.2 1050.1,241 1052.3,247.2 1031.9,255.4 1021,259.4 1002,272.2 982.9,283.1 966.6,292.6 977.5,296.1 993.8,300.2 1004.7,307 1008.8,320.5 1002,330 988.4,328.7 972,323.2 955.7,320.5 939.4,323.2 931.2,321.9 923.1,326.5 906.8,329.2 895.9,334.6 887.7,340.1 885,350.4 879.6,361.3 868.7,364 846.9,364 833.3,365.3 822.4,369.4 803.4,377.5 787.1,385.7 777.5,389.4 766.2,400.7 762.4,406.4 777.5,413.9 796.3,421.4 805.7,432.7 815.1,442.1 828.3,445.9 824.5,453.4 815.1,457.2 818.9,468.5 832.1,476 843,491.1 843,491.1 850.5,487.3 856.2,494.9 867.5,496.8 876.9,500.5 886.3,498.6 895.7,502.4 903.3,509.9 912.7,515.6 922.1,521.2 933.4,521.2 942.8,520.3 944.7,511.8 942.8,500.5 948.5,493 959.8,489.2 965.4,481.7 974.8,476 988,474.2 1003.1,468.5 1008.7,461 1016.2,453.4 1025.7,450.6 1037,455.3 1042.6,459.1 1055.8,462.9 1061.4,470.4 1074.6,466.6 1087.8,462.9 1102.9,461 1114.2,464.7 1125.5,468.5 1138.6,472.3 1151.8,474.2 1163.1,479.8 1168.8,487.3 1166.9,494.9 1157.5,491.1 1148.1,487.3 1136.8,487.3 1131.1,491.1 1138.6,496.8 1151.8,502.4 1161.2,511.8 1166.9,521.2 1166.9,528.8 1157.5,530.6 1146.2,534.4 1136.8,540.1 1129.2,545.7 1121.7,547.6 1114.2,543.8 1106.6,545.7 1099.1,551.4 1089.7,555.1 1082.2,558.9 1074.6,558.9 1069,549.5 1063.3,547.6 1055.8,549.5 1046.4,555.1 1038.8,557 1027.5,558.9 1016.2,560.8 1006.8,562.7 1003.1,570.2 995.5,575.8 1001.2,579.6 1012.5,581.5 1016.2,589 1012.5,600.3 1016.2,606 1023.8,609.7 1027.5,619.2 1025.7,626.7 1031.3,634.2 1029.4,643.6 1021.9,645.5 1012.5,647.4 1003.1,651.2 993.6,653.1 982.4,649.3 976.7,656.8 971.1,666.2 972.9,675.6 969.2,685.1 959.8,690.7 952.2,696.4 950.3,707.7 952.2,717.1 948.5,728 948.5,728 950.3,735.5 963.5,741.2 959.8,752.5 963.5,765.7 971.1,771.3 969.2,782.6 972.9,790.1 969.2,803.3 965.4,810.9 969.2,818.4 976.7,825.9 967.3,831.6 959.8,839.1 952.2,842.9 948.5,850.4 937.2,854.2 927.7,857.9 918.3,859.8 907,861.7 895.7,859.8 884.4,863.6 876.9,867.4 865.6,873 858.1,878.6 848.6,878.6 843,876.8 843,876.8 837.7,867.4 832.1,859.8 824.5,857.9 820.8,863.6 822.7,874.9 815.1,882.4 805.7,886.2 796.3,889.9 788.8,897.5 777.5,891.8 771.8,897.5 762.4,903.1 753,903.1 745.5,908.8 734.2,910.7 721,912.5 711.6,916.3 702.1,918.2 698.4,927.6 696.5,937 702.1,950.2 698.4,959.6 690.8,963.4 675.8,963.4 672,954 668.2,940.8 664.5,927.6 670.1,918.2 668.2,908.8 660.7,903.1 655.1,908.8 645.6,912.5 638.1,908.8 632.5,899.4 623.1,897.5 615.5,903.1 608,908.8 596.7,908.8 585.4,906.9 574.1,906.9 564.7,901.2 555.3,895.6 545.8,888.1 540.2,876.8 540.2,867.4 547.7,859.8 542.1,856.1 528.9,854.2 513.8,846.6 509.7,845.8 500,842.6 490.3,837.7 480.5,839.4 472.4,844.2 467.5,852.3 457.8,857.2 446.4,860.5 436.7,863.7 431.8,870.2 425.3,865.3 418.8,860.5 412.3,865.3 405.8,862.1 399.4,866.9 392.9,873.4 386.4,866.9 379.9,862.1 371.8,862.1 366.9,868.6 362,873.4 350.6,873.4 340.9,871.8 334.4,878.3 336,888.1 340.9,897.8 344.2,909.2 345.8,922.1 340.9,925.4 331.2,925.4 321.4,925.4 318.2,915.6 316.6,905.9 313.3,902.7 305.2,905.9 298.7,914 289,915.6 277.6,914 271.1,905.9 267.9,896.2 259.7,891.3 250,888.1 244.9,886.2 235.5,884.3 239.3,876.8 243,867.4 244.9,856.1 248.7,848.5 239.3,844.8 228,841 222.3,829.7 218.6,818.4 214.8,807.1 203.5,805.2 192.2,807.1 179,810.9 171.5,816.5 167.7,810.9 175.2,807.1 177.1,797.7 169.6,790.1 167.7,780.7 175.2,775.1 177.1,765.7 184.7,758.1 194.1,752.5 196,744.9 205.4,739.3 209.1,733.6 222.3,731.8 237.4,728 246.8,728 252.5,722.7 258.1,709.5 267.5,702 275.1,692.6 288.2,686.9 307.1,688.8 325.9,686 337.2,681.3 342.8,670 352.3,656.8 363.6,643.6 371.1,628.6 374.9,615.4 374.9,600.3 371.1,585.3 366.4,568.3 371.1,557 380.5,545.7 393.7,540.1 406.9,526.9 421.9,517.5 431.4,504.3 433.2,485.5 440.8,470.4 455.8,461 461.5,451.6 463.4,432.7 459.6,413.9 452.1,400.7 442.6,389.4 438.9,380 435.8,360 430.9,358.7 421.2,353.8 409.8,347.3 393.6,340.8 388.7,334.4 383.8,319.7 380.6,310.8 371.7,305.1 367.6,295.4Z"/><path d="M435.8,360 437.4,352.2 439.8,341.7 443.9,339.2 453.6,344.1 469.9,346.5 478,341.7 487.7,336 486.9,326.2 494.2,318.1 499.9,310 508.8,313.2 515.3,321.4 525.1,325.4 528.3,316.5 536.4,305.1 539.7,298.6 538.9,275.9 547.8,267.8 559.2,262.9 570.5,261.3 583.5,265.4 603,266.2 609.5,254.8 619.2,248.3 611.1,240.2 612.7,227.2 619.2,214.2 630.6,211.8 625.7,202.9 632.2,198 640,198"/><path d="M626.8,210.9 628.7,199.6 638.1,199.6 647.5,192.1 658.8,190.2 670.1,199.6 675.8,195.8 683.3,188.3 673.9,180.8 666.4,177 660.7,167.6 655.1,166.6 664.5,161.9 683.3,160.1 702.1,156.3 716.3,152.5 721,145 730.4,141.2 745.5,140.3 758.6,139.3 769.9,133.7 777.5,137.5"/><path d="M786.9,143.1 785,152.5 783.1,160.1 762.4,163.8 760.5,167.6 766.2,171.4 768.1,182.6 769.9,197.7 775.6,207.1 775.6,220.3 771.8,226 785,227.8 796.3,231.6 805.7,226 811.4,227.8 813.2,239.1 822.7,246.7 818.9,254.2 803.8,261.7 788.8,269.3 781.2,278.7 783.1,295.6 781.2,305.1 788.8,314.5 800.1,318.2 811.4,323.9 815.1,333.3 807.6,344.6 804.8,352.1"/><path d="M1031.9,241.8 1018.3,252.7 999.2,266.2 977.5,278.5 961.2,288 947.6,298.8 934,309.7 917.6,317.8 901.3,321.9 887.7,328.7 868.7,334.1 852.4,342.3 836,350.4 822.4,357.2 808.9,355.8 803.4,350.4"/><path d="M443.1,385 456.1,389.3 466.9,385 479.9,379.6 497.2,381.7 514.5,385 534,387.1 553.5,389.3 566.5,393.6 575.1,401.2 588.1,407.7 601.1,408.8 620.6,406.6 637.9,403.4 653,402.3 661.7,395.8 672.5,392.6 681.2,398 692,402.3 707.1,401.2 722.3,403.4 737.4,408.8 750,413.1"/><path d="M750,411.1 754.9,410.1 762.4,406.4"/><path d="M551.5,393.2 542.1,404.5 532.7,412 527,423.3 525.1,436.5 519.5,449.7 538.3,445.9 557.1,451.6 576,453.4 589.2,455.3 596.7,464.7 602.3,472.3 615.5,470.4 626.8,476 640,483.6 649.4,491.1 664.5,493 672,500.5 683.3,504.3 692.7,502.4 702.1,498.6 717.2,494.9 722.9,502.4 734.2,506.2 737.9,515.6 737.9,530.6 730.4,538.2 715.3,538.2 704,532.5 689,530.6 673.9,528.8 664.5,532.5 655.1,540.1 643.8,545.7 630.6,547.6 621.2,551.4 619.3,558.9 626.8,559.8 641.9,556.1 651.3,558 651.3,564.5 645.6,570.2 641.9,581.5 638.1,592.8 632.5,606 628.7,621 626.8,638 628.7,647.4 623.1,654.9 619.3,666.2 611.8,671.9 600.5,677.5 589.2,681.3 577.9,688.8 570.3,696.4 570.3,709.5 572.2,719 570.3,728"/><path d="M495,719 513.8,717.1 532.7,715.2 542.1,711.4 551.5,717.1 560.9,720.8 570.3,719 583.5,720.8 598.6,717.1 611.8,715.2 624.9,711.4 630.6,719 645.6,722.7 664.5,720.8 675.8,717.1 683.3,719 694.6,720.8 704,728"/><path d="M922.1,521.2 922.1,530.6 920.2,541.9 918.3,553.2 907,560.8 905.1,566.4 914.6,572.1 925.9,574 940.9,577.7 952.2,572.1 963.5,568.3 974.8,562.7 989.9,560.8 1003.1,560.8 1006.8,562.7"/><path d="M271.1,696.5 274.4,711.1 277.6,727.3 287.3,740.3 300.3,751.7 314.9,761.4 326.3,769.5 332.8,774.4 339.3,766.3 345.8,754.9 350.6,748.4 363.6,748.4 365.3,756.6 360.4,764.7 358.8,771.2 363.6,777.7 365.3,787.4 375,787.4 383.1,787.4 388,774.4 391.2,766.3 401,756.6 409.1,746.8 422.1,738.7 426.9,729 428.6,714.4 430.2,703 435.1,696.5 444.8,694.9 454.5,696.5 465.9,703 480.5,707.9 487,716 500,719.2"/><path d="M365.3,787.4 363.6,797.1 365.3,806.9 366.9,816.6 376.6,824.7 379.9,831.2 391.2,832.9 402.6,836.1 410.7,839.4 414,829.6 418.8,819.9 428.6,811.8 436.7,818.2 443.2,828 448.1,832.9 454.5,824.7 464.3,818.2 475.6,818.2 487,823.1 498.4,829.6 508.1,837.7 513,845.8 516.2,850.7"/><path d="M388,785.8 392.9,780.9 396.1,774.4 404.2,771.2 412.3,777.7 422.1,772.8 430.2,766.3 435.1,754.9 433.4,738.7 428.6,730.6"/><path d="M704,728 704,739.3 702.1,752.5 711.6,760 726.6,761.9 737.9,769.4 743.6,782.6 754.9,777 766.2,771.3 771.8,760 783.1,748.7 796.3,743.1 811.4,741.2 818.9,746.8 832.1,750.6 843,756.2"/><path d="M944.7,731.8 937.2,735.5 929.6,744.9 925.9,756.2 922.1,765.7 914.6,763.8 905.1,761.9 897.6,765.7 890.1,771.3 882.5,778.8 875,786.4 865.6,788.3 858.1,786.4 854.3,782.6 859.9,775.1 865.6,767.5 871.2,760 869.4,754.4 859.9,756.2 848.6,758.1 843,756.2"/><path stroke-width="8" d="M976.7,825.9 967.3,831.6 959.8,839.1 952.2,842.9 948.5,850.4 937.2,854.2 927.7,857.9 918.3,859.8 907,861.7 895.7,859.8 884.4,863.6 876.9,867.4 865.6,873 858.1,878.6 848.6,878.6 843,876.8"/><path stroke-width="8" d="M843,876.8 837.7,867.4 832.1,859.8 824.5,857.9 820.8,863.6 822.7,874.9 815.1,882.4 805.7,886.2 796.3,889.9 788.8,897.5 777.5,891.8 771.8,897.5 762.4,903.1 753,903.1 745.5,908.8 734.2,910.7 721,912.5 711.6,916.3 702.1,918.2 698.4,927.6 696.5,937 702.1,950.2 698.4,959.6 690.8,963.4 675.8,963.4 672,954 668.2,940.8 664.5,927.6 670.1,918.2 668.2,908.8 660.7,903.1 655.1,908.8 645.6,912.5 638.1,908.8 632.5,899.4 623.1,897.5 615.5,903.1 608,908.8 596.7,908.8 585.4,906.9 574.1,906.9 564.7,901.2 555.3,895.6 545.8,888.1"/><path stroke-width="8" d="M702.1,918.2 698.4,927.6 697.4,937 701.2,949.3 697.4,958.7 690.8,962.4 676.7,962.4 673,954 669.2,940.8 665.4,927.6 670.1,918.2"/></g>
</g>
<rect x="151.5" y="24.0" width="1025.2" height="1094.0" fill="none" stroke="#0a0a0a" stroke-width="6.2"/>
<line x1="126.5" x2="151.5" y1="154.5" y2="154.5" stroke="#0a0a0a" stroke-width="6"/>
<text x="68.5" y="168.3" class="tk" text-anchor="middle">40°N</text>
<line x1="126.5" x2="151.5" y1="564.2" y2="564.2" stroke="#0a0a0a" stroke-width="6"/>
<text x="68.5" y="578" class="tk" text-anchor="middle">30°N</text>
<line x1="126.5" x2="151.5" y1="973.9" y2="973.9" stroke="#0a0a0a" stroke-width="6"/>
<text x="68.5" y="987.7" class="tk" text-anchor="middle">20°N</text>
<line x1="270" x2="270" y1="1118.0" y2="1142.5" stroke="#0a0a0a" stroke-width="6"/>
<text x="270.5" y="1194.3" class="tk" text-anchor="middle">100°E</text>
<line x1="679.7" x2="679.7" y1="1118.0" y2="1142.5" stroke="#0a0a0a" stroke-width="6"/>
<text x="680.2" y="1194.3" class="tk" text-anchor="middle">110°E</text>
<line x1="1089.4" x2="1089.4" y1="1118.0" y2="1142.5" stroke="#0a0a0a" stroke-width="6"/>
<text x="1089.9" y="1194.3" class="tk" text-anchor="middle">120°E</text>
<rect x="263.0" y="1022.5" width="843.5" height="47.0" fill="#6f6f6f"/>
<rect x="272" y="1030.3" width="69.4" height="32" fill="#0086be"/>
<rect x="347.8" y="1030.3" width="69.4" height="32" fill="#00b8a8"/>
<rect x="423.5" y="1030.3" width="69.4" height="32" fill="#78d6a0"/>
<rect x="499.3" y="1030.3" width="69.4" height="32" fill="#c3ec93"/>
<rect x="575" y="1030.3" width="69.4" height="32" fill="#eef9a6"/>
<rect x="650.8" y="1030.3" width="69.4" height="32" fill="#ffee9f"/>
<rect x="726.6" y="1030.3" width="69.4" height="32" fill="#ffc96b"/>
<rect x="802.3" y="1030.3" width="69.4" height="32" fill="#ff9b50"/>
<rect x="878.1" y="1030.3" width="69.4" height="32" fill="#ff6644"/>
<rect x="953.8" y="1030.3" width="69.4" height="32" fill="#ef3a50"/>
<rect x="1029.6" y="1030.3" width="69.4" height="32" fill="#b70044"/>
<text x="344.6" y="1105.3" class="cb" text-anchor="middle">50</text>
<text x="423" y="1105.3" class="cb" text-anchor="middle">55</text>
<text x="495.6" y="1105.3" class="cb" text-anchor="middle">60</text>
<text x="571.6" y="1105.3" class="cb" text-anchor="middle">65</text>
<text x="650.8" y="1105.3" class="cb" text-anchor="middle">70</text>
<text x="724.4" y="1105.3" class="cb" text-anchor="middle">75</text>
<text x="799.2" y="1105.3" class="cb" text-anchor="middle">80</text>
<text x="876.5" y="1105.3" class="cb" text-anchor="middle">85</text>
<text x="946.2" y="1105.3" class="cb" text-anchor="middle">90</text>
<text x="1029.8" y="1105.3" class="cb" text-anchor="middle">95</text>
<text x="675" y="1007.6" class="cbt" text-anchor="middle">Availability (%)</text>
<text y="169.5" class="pl"><tspan x="211.1" textLength="28.2" lengthAdjust="spacingAndGlyphs">(</tspan><tspan x="247.7" textLength="46.9" lengthAdjust="spacingAndGlyphs">a</tspan><tspan x="309.9" textLength="28.2" lengthAdjust="spacingAndGlyphs">)</tspan></text>
</g>
<g transform="translate(1217.0,0.775) scale(0.9948,0.9966)">
<g id="map-b">
<path d="M367.6,295.4 372.5,291.3 388.7,286.5 391.1,275.9 396,271 414.7,269.4 422.8,261.3 430.9,264.5 450.4,260.5 466.6,258.1 476.4,250.7 489.4,248.3 502.3,245.9 507.2,240.2 506.4,224 508.8,206.1 513.7,196.4 520.2,186.6 534.8,182.6 537.2,173.6 538.9,150.9 549.4,146 555.1,142.8 552.7,135.5 542.9,133.9 530.7,133.1 544.5,124.1 538.9,120.9 536.4,111.9 541.3,102.2 549.4,96.5 564,91.7 583.5,87.6 607.9,82.7 632.2,79.5 608,80 626.8,78.1 645.6,78.7 656.9,81.9 664.5,88.5 670.1,94.1 681.4,97 692.7,102.6 700.3,110.1 711.6,113 722.9,111.1 725.7,104.5 739.8,102.6 756.8,101.7 763.3,95.1 770.9,96 777.5,102.6 785,105.4 790.6,114.9 796.3,121.4 783.1,131.8 777.5,137.5 786.9,143.1 798.2,129.9 803.8,124.3 818.9,126.2 822.7,114.9 828.3,103.6 843,104.5 843,104.5 852.4,107.3 859.9,113.9 871.2,113 882.5,109.2 888.2,101.7 901.4,97.9 899.5,90.4 888.2,84.7 880.7,79.1 886.3,74.4 899.5,72.5 914.6,69.7 918.3,62.1 925.9,52.7 937.2,46.1 948.5,45.2 963.5,45.2 974.8,48.9 983.3,50.8 988,60.2 997.4,64 1003.1,71.5 1010.6,73.4 1014.4,82.8 1021.9,90.4 1025.7,99.8 1031.3,105.4 1040.7,109.2 1048.3,111.1 1055.8,109.2 1059.6,114.9 1061.4,122.4 1069,129.9 1074.6,137.5 1078.4,146.9 1084,154.4 1078.4,156.3 1069,160.1 1063.3,171.4 1055.8,180.8 1046.4,184.5 1035.1,188.3 1027.5,190.2 1020,193 1014.4,188.3 1006.8,186.4 999.3,190.2 993.6,197.7 991.8,207.1 993.6,216.5 999.3,224.1 1004.9,231.6 1012.5,234.4 1023.8,232.6 1029.4,235.4 1031.3,240.1 1042.6,238.2 1050.1,241 1052.3,247.2 1031.9,255.4 1021,259.4 1002,272.2 982.9,283.1 966.6,292.6 977.5,296.1 993.8,300.2 1004.7,307 1008.8,320.5 1002,330 988.4,328.7 972,323.2 955.7,320.5 939.4,323.2 931.2,321.9 923.1,326.5 906.8,329.2 895.9,334.6 887.7,340.1 885,350.4 879.6,361.3 868.7,364 846.9,364 833.3,365.3 822.4,369.4 803.4,377.5 787.1,385.7 777.5,389.4 766.2,400.7 762.4,406.4 777.5,413.9 796.3,421.4 805.7,432.7 815.1,442.1 828.3,445.9 824.5,453.4 815.1,457.2 818.9,468.5 832.1,476 843,491.1 843,491.1 850.5,487.3 856.2,494.9 867.5,496.8 876.9,500.5 886.3,498.6 895.7,502.4 903.3,509.9 912.7,515.6 922.1,521.2 933.4,521.2 942.8,520.3 944.7,511.8 942.8,500.5 948.5,493 959.8,489.2 965.4,481.7 974.8,476 988,474.2 1003.1,468.5 1008.7,461 1016.2,453.4 1025.7,450.6 1037,455.3 1042.6,459.1 1055.8,462.9 1061.4,470.4 1074.6,466.6 1087.8,462.9 1102.9,461 1114.2,464.7 1125.5,468.5 1138.6,472.3 1151.8,474.2 1163.1,479.8 1168.8,487.3 1166.9,494.9 1157.5,491.1 1148.1,487.3 1136.8,487.3 1131.1,491.1 1138.6,496.8 1151.8,502.4 1161.2,511.8 1166.9,521.2 1166.9,528.8 1157.5,530.6 1146.2,534.4 1136.8,540.1 1129.2,545.7 1121.7,547.6 1114.2,543.8 1106.6,545.7 1099.1,551.4 1089.7,555.1 1082.2,558.9 1074.6,558.9 1069,549.5 1063.3,547.6 1055.8,549.5 1046.4,555.1 1038.8,557 1027.5,558.9 1016.2,560.8 1006.8,562.7 1003.1,570.2 995.5,575.8 1001.2,579.6 1012.5,581.5 1016.2,589 1012.5,600.3 1016.2,606 1023.8,609.7 1027.5,619.2 1025.7,626.7 1031.3,634.2 1029.4,643.6 1021.9,645.5 1012.5,647.4 1003.1,651.2 993.6,653.1 982.4,649.3 976.7,656.8 971.1,666.2 972.9,675.6 969.2,685.1 959.8,690.7 952.2,696.4 950.3,707.7 952.2,717.1 948.5,728 948.5,728 950.3,735.5 963.5,741.2 959.8,752.5 963.5,765.7 971.1,771.3 969.2,782.6 972.9,790.1 969.2,803.3 965.4,810.9 969.2,818.4 976.7,825.9 967.3,831.6 959.8,839.1 952.2,842.9 948.5,850.4 937.2,854.2 927.7,857.9 918.3,859.8 907,861.7 895.7,859.8 884.4,863.6 876.9,867.4 865.6,873 858.1,878.6 848.6,878.6 843,876.8 843,876.8 837.7,867.4 832.1,859.8 824.5,857.9 820.8,863.6 822.7,874.9 815.1,882.4 805.7,886.2 796.3,889.9 788.8,897.5 777.5,891.8 771.8,897.5 762.4,903.1 753,903.1 745.5,908.8 734.2,910.7 721,912.5 711.6,916.3 702.1,918.2 698.4,927.6 696.5,937 702.1,950.2 698.4,959.6 690.8,963.4 675.8,963.4 672,954 668.2,940.8 664.5,927.6 670.1,918.2 668.2,908.8 660.7,903.1 655.1,908.8 645.6,912.5 638.1,908.8 632.5,899.4 623.1,897.5 615.5,903.1 608,908.8 596.7,908.8 585.4,906.9 574.1,906.9 564.7,901.2 555.3,895.6 545.8,888.1 540.2,876.8 540.2,867.4 547.7,859.8 542.1,856.1 528.9,854.2 513.8,846.6 509.7,845.8 500,842.6 490.3,837.7 480.5,839.4 472.4,844.2 467.5,852.3 457.8,857.2 446.4,860.5 436.7,863.7 431.8,870.2 425.3,865.3 418.8,860.5 412.3,865.3 405.8,862.1 399.4,866.9 392.9,873.4 386.4,866.9 379.9,862.1 371.8,862.1 366.9,868.6 362,873.4 350.6,873.4 340.9,871.8 334.4,878.3 336,888.1 340.9,897.8 344.2,909.2 345.8,922.1 340.9,925.4 331.2,925.4 321.4,925.4 318.2,915.6 316.6,905.9 313.3,902.7 305.2,905.9 298.7,914 289,915.6 277.6,914 271.1,905.9 267.9,896.2 259.7,891.3 250,888.1 244.9,886.2 235.5,884.3 239.3,876.8 243,867.4 244.9,856.1 248.7,848.5 239.3,844.8 228,841 222.3,829.7 218.6,818.4 214.8,807.1 203.5,805.2 192.2,807.1 179,810.9 171.5,816.5 167.7,810.9 175.2,807.1 177.1,797.7 169.6,790.1 167.7,780.7 175.2,775.1 177.1,765.7 184.7,758.1 194.1,752.5 196,744.9 205.4,739.3 209.1,733.6 222.3,731.8 237.4,728 246.8,728 252.5,722.7 258.1,709.5 267.5,702 275.1,692.6 288.2,686.9 307.1,688.8 325.9,686 337.2,681.3 342.8,670 352.3,656.8 363.6,643.6 371.1,628.6 374.9,615.4 374.9,600.3 371.1,585.3 366.4,568.3 371.1,557 380.5,545.7 393.7,540.1 406.9,526.9 421.9,517.5 431.4,504.3 433.2,485.5 440.8,470.4 455.8,461 461.5,451.6 463.4,432.7 459.6,413.9 452.1,400.7 442.6,389.4 438.9,380 435.8,360 430.9,358.7 421.2,353.8 409.8,347.3 393.6,340.8 388.7,334.4 383.8,319.7 380.6,310.8 371.7,305.1 367.6,295.4Z" fill="#b70044"/><g clip-path="url(#mclip)"><rect x="977.5" y="204.9" width="8.6" height="9" fill="#00b8a8"/><rect x="977.5" y="214" width="10.7" height="14" fill="#ffee9f"/><rect x="977.5" y="228" width="15.7" height="11" fill="#ff6644"/><rect x="988.1" y="236" width="16.1" height="11" fill="#ff9b50"/><rect x="1004.2" y="239" width="22.1" height="8" fill="#c3ec93"/><rect x="1031.9" y="237" width="18.6" height="17.1" fill="#0086be"/><rect x="1090.4" y="502.4" width="9.3" height="21.6" fill="#ffffff"/><rect x="1099.7" y="511" width="9.7" height="13" fill="#ffffff"/><rect x="1090.4" y="524" width="9.3" height="9" fill="#78d6a0"/><rect x="1120.2" y="473.8" width="9.7" height="8" fill="#ffc96b"/><rect x="1129.9" y="475.3" width="8" height="8" fill="#ffee9f"/><rect x="1137.9" y="470.8" width="32.2" height="27.1" fill="#0086be"/><rect x="1150" y="512" width="17.1" height="18.1" fill="#0086be"/><rect x="925.8" y="596.1" width="9.5" height="9.5" fill="#ffffff"/><rect x="698.6" y="902.3" width="59.3" height="8" fill="#0086be"/><rect x="593.6" y="904.3" width="52.8" height="6" fill="#0086be"/><rect x="935.9" y="840.1" width="10.1" height="10" fill="#c3ec93"/><rect x="955.7" y="820.6" width="13.2" height="9.8" fill="#0086be"/></g><g fill="none" stroke="#050505" stroke-width="5.3" stroke-linejoin="round" stroke-linecap="round"><path d="M367.6,295.4 372.5,291.3 388.7,286.5 391.1,275.9 396,271 414.7,269.4 422.8,261.3 430.9,264.5 450.4,260.5 466.6,258.1 476.4,250.7 489.4,248.3 502.3,245.9 507.2,240.2 506.4,224 508.8,206.1 513.7,196.4 520.2,186.6 534.8,182.6 537.2,173.6 538.9,150.9 549.4,146 555.1,142.8 552.7,135.5 542.9,133.9 530.7,133.1 544.5,124.1 538.9,120.9 536.4,111.9 541.3,102.2 549.4,96.5 564,91.7 583.5,87.6 607.9,82.7 632.2,79.5 608,80 626.8,78.1 645.6,78.7 656.9,81.9 664.5,88.5 670.1,94.1 681.4,97 692.7,102.6 700.3,110.1 711.6,113 722.9,111.1 725.7,104.5 739.8,102.6 756.8,101.7 763.3,95.1 770.9,96 777.5,102.6 785,105.4 790.6,114.9 796.3,121.4 783.1,131.8 777.5,137.5 786.9,143.1 798.2,129.9 803.8,124.3 818.9,126.2 822.7,114.9 828.3,103.6 843,104.5 843,104.5 852.4,107.3 859.9,113.9 871.2,113 882.5,109.2 888.2,101.7 901.4,97.9 899.5,90.4 888.2,84.7 880.7,79.1 886.3,74.4 899.5,72.5 914.6,69.7 918.3,62.1 925.9,52.7 937.2,46.1 948.5,45.2 963.5,45.2 974.8,48.9 983.3,50.8 988,60.2 997.4,64 1003.1,71.5 1010.6,73.4 1014.4,82.8 1021.9,90.4 1025.7,99.8 1031.3,105.4 1040.7,109.2 1048.3,111.1 1055.8,109.2 1059.6,114.9 1061.4,122.4 1069,129.9 1074.6,137.5 1078.4,146.9 1084,154.4 1078.4,156.3 1069,160.1 1063.3,171.4 1055.8,180.8 1046.4,184.5 1035.1,188.3 1027.5,190.2 1020,193 1014.4,188.3 1006.8,186.4 999.3,190.2 993.6,197.7 991.8,207.1 993.6,216.5 999.3,224.1 1004.9,231.6 1012.5,234.4 1023.8,232.6 1029.4,235.4 1031.3,240.1 1042.6,238.2 1050.1,241 1052.3,247.2 1031.9,255.4 1021,259.4 1002,272.2 982.9,283.1 966.6,292.6 977.5,296.1 993.8,300.2 1004.7,307 1008.8,320.5 1002,330 988.4,328.7 972,323.2 955.7,320.5 939.4,323.2 931.2,321.9 923.1,326.5 906.8,329.2 895.9,334.6 887.7,340.1 885,350.4 879.6,361.3 868.7,364 846.9,364 833.3,365.3 822.4,369.4 803.4,377.5 787.1,385.7 777.5,389.4 766.2,400.7 762.4,406.4 777.5,413.9 796.3,421.4 805.7,432.7 815.1,442.1 828.3,445.9 824.5,453.4 815.1,457.2 818.9,468.5 832.1,476 843,491.1 843,491.1 850.5,487.3 856.2,494.9 867.5,496.8 876.9,500.5 886.3,498.6 895.7,502.4 903.3,509.9 912.7,515.6 922.1,521.2 933.4,521.2 942.8,520.3 944.7,511.8 942.8,500.5 948.5,493 959.8,489.2 965.4,481.7 974.8,476 988,474.2 1003.1,468.5 1008.7,461 1016.2,453.4 1025.7,450.6 1037,455.3 1042.6,459.1 1055.8,462.9 1061.4,470.4 1074.6,466.6 1087.8,462.9 1102.9,461 1114.2,464.7 1125.5,468.5 1138.6,472.3 1151.8,474.2 1163.1,479.8 1168.8,487.3 1166.9,494.9 1157.5,491.1 1148.1,487.3 1136.8,487.3 1131.1,491.1 1138.6,496.8 1151.8,502.4 1161.2,511.8 1166.9,521.2 1166.9,528.8 1157.5,530.6 1146.2,534.4 1136.8,540.1 1129.2,545.7 1121.7,547.6 1114.2,543.8 1106.6,545.7 1099.1,551.4 1089.7,555.1 1082.2,558.9 1074.6,558.9 1069,549.5 1063.3,547.6 1055.8,549.5 1046.4,555.1 1038.8,557 1027.5,558.9 1016.2,560.8 1006.8,562.7 1003.1,570.2 995.5,575.8 1001.2,579.6 1012.5,581.5 1016.2,589 1012.5,600.3 1016.2,606 1023.8,609.7 1027.5,619.2 1025.7,626.7 1031.3,634.2 1029.4,643.6 1021.9,645.5 1012.5,647.4 1003.1,651.2 993.6,653.1 982.4,649.3 976.7,656.8 971.1,666.2 972.9,675.6 969.2,685.1 959.8,690.7 952.2,696.4 950.3,707.7 952.2,717.1 948.5,728 948.5,728 950.3,735.5 963.5,741.2 959.8,752.5 963.5,765.7 971.1,771.3 969.2,782.6 972.9,790.1 969.2,803.3 965.4,810.9 969.2,818.4 976.7,825.9 967.3,831.6 959.8,839.1 952.2,842.9 948.5,850.4 937.2,854.2 927.7,857.9 918.3,859.8 907,861.7 895.7,859.8 884.4,863.6 876.9,867.4 865.6,873 858.1,878.6 848.6,878.6 843,876.8 843,876.8 837.7,867.4 832.1,859.8 824.5,857.9 820.8,863.6 822.7,874.9 815.1,882.4 805.7,886.2 796.3,889.9 788.8,897.5 777.5,891.8 771.8,897.5 762.4,903.1 753,903.1 745.5,908.8 734.2,910.7 721,912.5 711.6,916.3 702.1,918.2 698.4,927.6 696.5,937 702.1,950.2 698.4,959.6 690.8,963.4 675.8,963.4 672,954 668.2,940.8 664.5,927.6 670.1,918.2 668.2,908.8 660.7,903.1 655.1,908.8 645.6,912.5 638.1,908.8 632.5,899.4 623.1,897.5 615.5,903.1 608,908.8 596.7,908.8 585.4,906.9 574.1,906.9 564.7,901.2 555.3,895.6 545.8,888.1 540.2,876.8 540.2,867.4 547.7,859.8 542.1,856.1 528.9,854.2 513.8,846.6 509.7,845.8 500,842.6 490.3,837.7 480.5,839.4 472.4,844.2 467.5,852.3 457.8,857.2 446.4,860.5 436.7,863.7 431.8,870.2 425.3,865.3 418.8,860.5 412.3,865.3 405.8,862.1 399.4,866.9 392.9,873.4 386.4,866.9 379.9,862.1 371.8,862.1 366.9,868.6 362,873.4 350.6,873.4 340.9,871.8 334.4,878.3 336,888.1 340.9,897.8 344.2,909.2 345.8,922.1 340.9,925.4 331.2,925.4 321.4,925.4 318.2,915.6 316.6,905.9 313.3,902.7 305.2,905.9 298.7,914 289,915.6 277.6,914 271.1,905.9 267.9,896.2 259.7,891.3 250,888.1 244.9,886.2 235.5,884.3 239.3,876.8 243,867.4 244.9,856.1 248.7,848.5 239.3,844.8 228,841 222.3,829.7 218.6,818.4 214.8,807.1 203.5,805.2 192.2,807.1 179,810.9 171.5,816.5 167.7,810.9 175.2,807.1 177.1,797.7 169.6,790.1 167.7,780.7 175.2,775.1 177.1,765.7 184.7,758.1 194.1,752.5 196,744.9 205.4,739.3 209.1,733.6 222.3,731.8 237.4,728 246.8,728 252.5,722.7 258.1,709.5 267.5,702 275.1,692.6 288.2,686.9 307.1,688.8 325.9,686 337.2,681.3 342.8,670 352.3,656.8 363.6,643.6 371.1,628.6 374.9,615.4 374.9,600.3 371.1,585.3 366.4,568.3 371.1,557 380.5,545.7 393.7,540.1 406.9,526.9 421.9,517.5 431.4,504.3 433.2,485.5 440.8,470.4 455.8,461 461.5,451.6 463.4,432.7 459.6,413.9 452.1,400.7 442.6,389.4 438.9,380 435.8,360 430.9,358.7 421.2,353.8 409.8,347.3 393.6,340.8 388.7,334.4 383.8,319.7 380.6,310.8 371.7,305.1 367.6,295.4Z"/><path d="M435.8,360 437.4,352.2 439.8,341.7 443.9,339.2 453.6,344.1 469.9,346.5 478,341.7 487.7,336 486.9,326.2 494.2,318.1 499.9,310 508.8,313.2 515.3,321.4 525.1,325.4 528.3,316.5 536.4,305.1 539.7,298.6 538.9,275.9 547.8,267.8 559.2,262.9 570.5,261.3 583.5,265.4 603,266.2 609.5,254.8 619.2,248.3 611.1,240.2 612.7,227.2 619.2,214.2 630.6,211.8 625.7,202.9 632.2,198 640,198"/><path d="M626.8,210.9 628.7,199.6 638.1,199.6 647.5,192.1 658.8,190.2 670.1,199.6 675.8,195.8 683.3,188.3 673.9,180.8 666.4,177 660.7,167.6 655.1,166.6 664.5,161.9 683.3,160.1 702.1,156.3 716.3,152.5 721,145 730.4,141.2 745.5,140.3 758.6,139.3 769.9,133.7 777.5,137.5"/><path d="M786.9,143.1 785,152.5 783.1,160.1 762.4,163.8 760.5,167.6 766.2,171.4 768.1,182.6 769.9,197.7 775.6,207.1 775.6,220.3 771.8,226 785,227.8 796.3,231.6 805.7,226 811.4,227.8 813.2,239.1 822.7,246.7 818.9,254.2 803.8,261.7 788.8,269.3 781.2,278.7 783.1,295.6 781.2,305.1 788.8,314.5 800.1,318.2 811.4,323.9 815.1,333.3 807.6,344.6 804.8,352.1"/><path d="M1031.9,241.8 1018.3,252.7 999.2,266.2 977.5,278.5 961.2,288 947.6,298.8 934,309.7 917.6,317.8 901.3,321.9 887.7,328.7 868.7,334.1 852.4,342.3 836,350.4 822.4,357.2 808.9,355.8 803.4,350.4"/><path d="M443.1,385 456.1,389.3 466.9,385 479.9,379.6 497.2,381.7 514.5,385 534,387.1 553.5,389.3 566.5,393.6 575.1,401.2 588.1,407.7 601.1,408.8 620.6,406.6 637.9,403.4 653,402.3 661.7,395.8 672.5,392.6 681.2,398 692,402.3 707.1,401.2 722.3,403.4 737.4,408.8 750,413.1"/><path d="M750,411.1 754.9,410.1 762.4,406.4"/><path d="M551.5,393.2 542.1,404.5 532.7,412 527,423.3 525.1,436.5 519.5,449.7 538.3,445.9 557.1,451.6 576,453.4 589.2,455.3 596.7,464.7 602.3,472.3 615.5,470.4 626.8,476 640,483.6 649.4,491.1 664.5,493 672,500.5 683.3,504.3 692.7,502.4 702.1,498.6 717.2,494.9 722.9,502.4 734.2,506.2 737.9,515.6 737.9,530.6 730.4,538.2 715.3,538.2 704,532.5 689,530.6 673.9,528.8 664.5,532.5 655.1,540.1 643.8,545.7 630.6,547.6 621.2,551.4 619.3,558.9 626.8,559.8 641.9,556.1 651.3,558 651.3,564.5 645.6,570.2 641.9,581.5 638.1,592.8 632.5,606 628.7,621 626.8,638 628.7,647.4 623.1,654.9 619.3,666.2 611.8,671.9 600.5,677.5 589.2,681.3 577.9,688.8 570.3,696.4 570.3,709.5 572.2,719 570.3,728"/><path d="M495,719 513.8,717.1 532.7,715.2 542.1,711.4 551.5,717.1 560.9,720.8 570.3,719 583.5,720.8 598.6,717.1 611.8,715.2 624.9,711.4 630.6,719 645.6,722.7 664.5,720.8 675.8,717.1 683.3,719 694.6,720.8 704,728"/><path d="M922.1,521.2 922.1,530.6 920.2,541.9 918.3,553.2 907,560.8 905.1,566.4 914.6,572.1 925.9,574 940.9,577.7 952.2,572.1 963.5,568.3 974.8,562.7 989.9,560.8 1003.1,560.8 1006.8,562.7"/><path d="M271.1,696.5 274.4,711.1 277.6,727.3 287.3,740.3 300.3,751.7 314.9,761.4 326.3,769.5 332.8,774.4 339.3,766.3 345.8,754.9 350.6,748.4 363.6,748.4 365.3,756.6 360.4,764.7 358.8,771.2 363.6,777.7 365.3,787.4 375,787.4 383.1,787.4 388,774.4 391.2,766.3 401,756.6 409.1,746.8 422.1,738.7 426.9,729 428.6,714.4 430.2,703 435.1,696.5 444.8,694.9 454.5,696.5 465.9,703 480.5,707.9 487,716 500,719.2"/><path d="M365.3,787.4 363.6,797.1 365.3,806.9 366.9,816.6 376.6,824.7 379.9,831.2 391.2,832.9 402.6,836.1 410.7,839.4 414,829.6 418.8,819.9 428.6,811.8 436.7,818.2 443.2,828 448.1,832.9 454.5,824.7 464.3,818.2 475.6,818.2 487,823.1 498.4,829.6 508.1,837.7 513,845.8 516.2,850.7"/><path d="M388,785.8 392.9,780.9 396.1,774.4 404.2,771.2 412.3,777.7 422.1,772.8 430.2,766.3 435.1,754.9 433.4,738.7 428.6,730.6"/><path d="M704,728 704,739.3 702.1,752.5 711.6,760 726.6,761.9 737.9,769.4 743.6,782.6 754.9,777 766.2,771.3 771.8,760 783.1,748.7 796.3,743.1 811.4,741.2 818.9,746.8 832.1,750.6 843,756.2"/><path d="M944.7,731.8 937.2,735.5 929.6,744.9 925.9,756.2 922.1,765.7 914.6,763.8 905.1,761.9 897.6,765.7 890.1,771.3 882.5,778.8 875,786.4 865.6,788.3 858.1,786.4 854.3,782.6 859.9,775.1 865.6,767.5 871.2,760 869.4,754.4 859.9,756.2 848.6,758.1 843,756.2"/><path stroke-width="8" d="M976.7,825.9 967.3,831.6 959.8,839.1 952.2,842.9 948.5,850.4 937.2,854.2 927.7,857.9 918.3,859.8 907,861.7 895.7,859.8 884.4,863.6 876.9,867.4 865.6,873 858.1,878.6 848.6,878.6 843,876.8"/><path stroke-width="8" d="M843,876.8 837.7,867.4 832.1,859.8 824.5,857.9 820.8,863.6 822.7,874.9 815.1,882.4 805.7,886.2 796.3,889.9 788.8,897.5 777.5,891.8 771.8,897.5 762.4,903.1 753,903.1 745.5,908.8 734.2,910.7 721,912.5 711.6,916.3 702.1,918.2 698.4,927.6 696.5,937 702.1,950.2 698.4,959.6 690.8,963.4 675.8,963.4 672,954 668.2,940.8 664.5,927.6 670.1,918.2 668.2,908.8 660.7,903.1 655.1,908.8 645.6,912.5 638.1,908.8 632.5,899.4 623.1,897.5 615.5,903.1 608,908.8 596.7,908.8 585.4,906.9 574.1,906.9 564.7,901.2 555.3,895.6 545.8,888.1"/><path stroke-width="8" d="M702.1,918.2 698.4,927.6 697.4,937 701.2,949.3 697.4,958.7 690.8,962.4 676.7,962.4 673,954 669.2,940.8 665.4,927.6 670.1,918.2"/></g>
</g>
<rect x="151.5" y="24.0" width="1025.2" height="1094.0" fill="none" stroke="#0a0a0a" stroke-width="6.2"/>
<line x1="126.5" x2="151.5" y1="154.5" y2="154.5" stroke="#0a0a0a" stroke-width="6"/>
<text x="68.5" y="168.3" class="tk" text-anchor="middle">40°N</text>
<line x1="126.5" x2="151.5" y1="564.2" y2="564.2" stroke="#0a0a0a" stroke-width="6"/>
<text x="68.5" y="578" class="tk" text-anchor="middle">30°N</text>
<line x1="126.5" x2="151.5" y1="973.9" y2="973.9" stroke="#0a0a0a" stroke-width="6"/>
<text x="68.5" y="987.7" class="tk" text-anchor="middle">20°N</text>
<line x1="270" x2="270" y1="1118.0" y2="1142.5" stroke="#0a0a0a" stroke-width="6"/>
<text x="270.5" y="1194.3" class="tk" text-anchor="middle">100°E</text>
<line x1="679.7" x2="679.7" y1="1118.0" y2="1142.5" stroke="#0a0a0a" stroke-width="6"/>
<text x="680.2" y="1194.3" class="tk" text-anchor="middle">110°E</text>
<line x1="1089.4" x2="1089.4" y1="1118.0" y2="1142.5" stroke="#0a0a0a" stroke-width="6"/>
<text x="1089.9" y="1194.3" class="tk" text-anchor="middle">120°E</text>
<rect x="263.0" y="1022.5" width="843.5" height="47.0" fill="#6f6f6f"/>
<rect x="272" y="1030.3" width="69.4" height="32" fill="#0086be"/>
<rect x="347.8" y="1030.3" width="69.4" height="32" fill="#00b8a8"/>
<rect x="423.5" y="1030.3" width="69.4" height="32" fill="#78d6a0"/>
<rect x="499.3" y="1030.3" width="69.4" height="32" fill="#c3ec93"/>
<rect x="575" y="1030.3" width="69.4" height="32" fill="#eef9a6"/>
<rect x="650.8" y="1030.3" width="69.4" height="32" fill="#ffee9f"/>
<rect x="726.6" y="1030.3" width="69.4" height="32" fill="#ffc96b"/>
<rect x="802.3" y="1030.3" width="69.4" height="32" fill="#ff9b50"/>
<rect x="878.1" y="1030.3" width="69.4" height="32" fill="#ff6644"/>
<rect x="953.8" y="1030.3" width="69.4" height="32" fill="#ef3a50"/>
<rect x="1029.6" y="1030.3" width="69.4" height="32" fill="#b70044"/>
<text x="344.6" y="1105.3" class="cb" text-anchor="middle">50</text>
<text x="423" y="1105.3" class="cb" text-anchor="middle">55</text>
<text x="495.6" y="1105.3" class="cb" text-anchor="middle">60</text>
<text x="571.6" y="1105.3" class="cb" text-anchor="middle">65</text>
<text x="650.8" y="1105.3" class="cb" text-anchor="middle">70</text>
<text x="724.4" y="1105.3" class="cb" text-anchor="middle">75</text>
<text x="799.2" y="1105.3" class="cb" text-anchor="middle">80</text>
<text x="876.5" y="1105.3" class="cb" text-anchor="middle">85</text>
<text x="946.2" y="1105.3" class="cb" text-anchor="middle">90</text>
<text x="1029.8" y="1105.3" class="cb" text-anchor="middle">95</text>
<text x="675" y="1007.6" class="cbt" text-anchor="middle">Availability (%)</text>
<text y="169.5" class="pl"><tspan x="223.7" textLength="28.2" lengthAdjust="spacingAndGlyphs">(</tspan><tspan x="259.3" textLength="60.2" lengthAdjust="spacingAndGlyphs">b</tspan><tspan x="328.2" textLength="28.2" lengthAdjust="spacingAndGlyphs">)</tspan></text>
</g>
<g id="chart">
<rect x="200.6" y="1343.0" width="2186.9" height="771.5" fill="#fff"/>
<line x1="298.7" x2="298.7" y1="1343.0" y2="2114.5" stroke="#cdcdcd" stroke-width="2.8"/>
<line x1="529.9" x2="529.9" y1="1343.0" y2="2114.5" stroke="#cdcdcd" stroke-width="2.8"/>
<line x1="761.1" x2="761.1" y1="1343.0" y2="2114.5" stroke="#cdcdcd" stroke-width="2.8"/>
<line x1="992.4" x2="992.4" y1="1343.0" y2="2114.5" stroke="#cdcdcd" stroke-width="2.8"/>
<line x1="1223.6" x2="1223.6" y1="1343.0" y2="2114.5" stroke="#cdcdcd" stroke-width="2.8"/>
<line x1="1454.8" x2="1454.8" y1="1343.0" y2="2114.5" stroke="#cdcdcd" stroke-width="2.8"/>
<line x1="1686" x2="1686" y1="1343.0" y2="2114.5" stroke="#cdcdcd" stroke-width="2.8"/>
<line x1="1917.3" x2="1917.3" y1="1343.0" y2="2114.5" stroke="#cdcdcd" stroke-width="2.8"/>
<line x1="2148.5" x2="2148.5" y1="1343.0" y2="2114.5" stroke="#cdcdcd" stroke-width="2.8"/>
<line x1="200.6" x2="2387.5" y1="2078" y2="2078" stroke="#cdcdcd" stroke-width="2.8"/>
<line x1="200.6" x2="2387.5" y1="1937.8" y2="1937.8" stroke="#cdcdcd" stroke-width="2.8"/>
<line x1="200.6" x2="2387.5" y1="1797.6" y2="1797.6" stroke="#cdcdcd" stroke-width="2.8"/>
<line x1="200.6" x2="2387.5" y1="1657.4" y2="1657.4" stroke="#cdcdcd" stroke-width="2.8"/>
<line x1="200.6" x2="2387.5" y1="1517.2" y2="1517.2" stroke="#cdcdcd" stroke-width="2.8"/>
<line x1="200.6" x2="2387.5" y1="1377" y2="1377" stroke="#cdcdcd" stroke-width="2.8"/>
<path d="M296.2,1833.8 298.3,1800.1 300.5,1863.4 302.6,1719.9 305.1,2009 307.2,1677.7 309.7,1610.1 312.3,1589 314.8,1551 317.3,1540.5 319.9,1551 322.4,1538.4 325.4,1532 328.3,1538.4 330.4,1559.5 332.5,2078.6 334.6,1593.2 336.3,1719.9 338.4,1800.1 341.4,1821.2 344.4,1770.5 347.3,1808.5 349.4,1762.1 351.1,1660.8 352.8,1610.1 355.3,1601.7 357.9,1567.9 360.4,1536.3 362.9,1551 365.5,1533.3 368,1694.5 369.7,1534.2 371.4,1732.5 373.1,1535 374.7,1719.9 376.4,1559.5 378.5,1939.4 380.6,1593.2 382.3,1703 384.4,1762.1 386.6,1867.6 389.1,1804.3 392,1892.9 394.2,1812.7 396.3,1770.5 398.4,1690.3 400.9,1635.5 403.4,1593.2 406,1551 408.5,1536.3 411,1542.6 413.6,1535 416.1,1551 418.6,1538.4 421.2,1542.6 423.7,1576.4 425.8,2078.6 427.9,1635.5 430,1745.2 433,1804.3 435.5,1918.2 437.6,1876 439.7,1795.8 442.3,1762.1 444.8,1686.1 447.3,1593.2 449.9,1576.4 452.4,1559.5 454.9,1538.4 457.5,1542.6 460,1533.3 462.5,1551 465.1,2019.5 467.2,1559.5 469.3,1576.4 471.8,1635.5 474.4,1719.9 476.5,1838.1 478.6,1804.3 481.1,1867.6 483.6,1825.4 486.2,1745.2 488.7,1816.9 491.2,1719.9 493.3,1593.2 495.5,1618.6 498,1559.5 500.5,1538.4 503.1,1534.2 505.6,1542.6 508.1,1533.3 510.6,1540.5 513.2,1538.4 515.7,1576.4 517.4,1741 519.1,1601.7 520.8,1677.7 523.3,1770.5 525.8,1825.4 528.4,1829.6 530.9,1804.3 533.4,1762.1 535.6,1821.2 537.7,1673.4 539.8,2078.6 541.9,1719.9 544,1660.8 546.1,2078.6 548.2,1846.5 549.9,2078.6 551.6,1538.4 553.7,1542.6 556.2,1536.3 558.8,1540.5 561.3,1551 563.8,1593.2 566.4,1677.7 568.9,1795.8 571.4,1736.8 574,1762.1 576.5,1960.5 578.6,1719.9 581.1,1698.8 583.2,1779 585.4,1669.2 587.5,1593.2 590,1559.5 592.5,1542.6 595.1,1538.4 597.6,1534.2 599.3,1601.7 601,1652.3 603.5,1665 606,1635.5 608.6,1669.2 611.1,1627 613.6,1622.8 616.2,1669.2 617.9,1762.1 619.5,2078.6 621.7,2078.6 623.8,1762.1 626.3,1745.2 628.8,1635.5 631.4,1631.2 634.7,1627 637.3,1614.4 639.8,1610.1 642.3,1635.5 645.7,1635.5 649.1,1643.9 652.5,1656.6 655.8,1631.2 658.4,1627 660.9,1677.7 663.4,1745.2 666,1677.7 668.5,1774.7 671,1810.6 673.6,1719.9 676.1,1762.1 678.6,1635.5 681.2,1610.1 683.7,1614.4 686.2,1610.1 688.8,1707.2 690.9,1652.3 693,1827.5 695.5,1690.3 698.1,1669.2 700.6,1690.3 703.1,1635.5 705.6,1627 708.2,1677.7 710.7,1703 712.8,1791.6 714.9,1677.7 717.5,1774.7 720,1728.3 722.5,1635.5 725.1,1614.4 728.4,1610.1 731.8,1608 735.2,1610.1 738.6,1627 741.9,1669.2 744.5,1719.9 747,1677.7 749.1,1635.5 751.2,1762.1 752.9,1863.4 755,1660.8 757.1,1719.9 759.3,1861.3 761.4,1711.4 763.9,1745.2 766.4,1736.8 769,1635.5 771.9,1618.6 774,1677.7 776.6,1795.8 779.1,1736.8 781.2,1656.6 782.9,1846.5 785,1762.1 786.7,1652.3 788.4,1466.6 789.8,1435 792.3,1435 794.9,1449.7 797.4,1466.6 799.9,1534.2 802.5,1546.8 804.2,1711.4 806.3,1593.2 808.4,1635.5 810.9,1774.7 813,1610.1 815.1,1475.1 817.7,1631.2 820.2,1418.1 822.7,1424.4 825.3,1420.2 827.4,1559.5 829.5,1430.7 832,1508.8 834.5,1466.6 837.1,1500.4 839.6,1445.5 843,1441.3 845.5,1466.6 848.1,1525.7 850.6,1576.4 853.1,1614.4 855.2,1690.3 857.3,1635.5 859.9,1517.3 862.4,1437.1 864.9,1424.4 867.5,1420.2 870,1416 872.5,1462.4 875.1,1428.6 877.6,1441.3 880.1,1424.4 882.7,1437.1 885.2,1422.3 887.7,1441.3 890.3,1508.8 892.8,1559.5 895.3,1597.5 897.9,1618.6 900.4,1627 902.9,1622.8 905.5,1525.7 908,1521.5 910.5,1466.6 913.1,1420.2 915.6,1424.4 918.1,1449.7 920.6,1424.4 923.2,1441.3 925.7,1424.4 928.2,1428.6 930.8,1449.7 933.3,1424.4 935.8,1445.5 938.4,1479.3 940.9,1534.2 943.4,1593.2 946,1635.5 948.1,1662.9 950.2,1614.4 952.7,1546.8 955.3,1424.4 957.8,1422.3 960.3,1420.2 962.9,1418.1 965.4,1424.4 967.9,1420.2 970.5,1449.7 973,1454 975.5,1437.1 978.1,1449.7 980.6,1424.4 983.1,1466.6 985.6,1525.7 988.2,1567.9 990.7,1656.6 993.2,1610.1 995.4,1521.5 997.5,1652.3 999.6,1643.9 1001.7,1551 1004.2,1420.2 1006.8,1416 1009.3,1413.9 1011.8,1424.4 1014.4,1437.1 1016.5,1654.4 1018.6,1517.3 1021.1,1454 1023.6,1441.3 1026.2,1428.6 1028.7,1420.2 1031.2,1479.3 1033.8,1529.9 1036.3,1584.8 1038.8,1629.1 1041.4,1618.6 1043.9,1605.9 1046.4,1508.8 1049,1424.4 1051.5,1416 1054,1418.1 1056.6,1449.7 1059.1,1424.4 1061.6,1445.5 1064.2,1428.6 1066.7,1441.3 1069.2,1428.6 1071.8,1437.1 1074.3,1424.4 1076.8,1445.5 1079.4,1508.8 1081.9,1593.2 1084.4,1601.7 1086.5,1677.7 1088.6,1576.4 1091.2,1500.4 1093.7,1483.5 1096.2,1428.6 1098.8,1424.4 1101.3,1500.4 1103.8,1420.2 1106.4,1445.5 1108.9,1441.3 1110.6,1567.9 1112.7,1437.1 1115.2,1441.3 1117.8,1437.1 1120.3,1441.3 1122.8,1466.6 1125.4,1525.7 1127.9,1593.2 1130.4,1610.1 1132.5,1665 1134.6,1593.2 1136.8,1618.6 1139.3,1559.5 1141.8,1466.6 1144.4,1424.4 1146.9,1418.1 1149.4,1449.7 1151.9,1428.6 1154.5,1432.9 1157,1430.7 1159.5,1441.3 1162.1,1437.1 1164.6,1449.7 1167.1,1525.7 1169.7,1491.9 1172.2,1593.2 1174.7,1677.7 1176.9,1736.8 1179.8,1757.9 1182.3,1677.7 1184.9,1559.5 1187.4,1466.6 1189.9,1428.6 1192.5,1424.4 1195,1418.1 1197.5,1432.9 1200.1,1428.6 1202.6,1470.8 1205.1,1432.9 1207.7,1437.1 1210.2,1430.7 1212.7,1437.1 1215.3,1466.6 1217.8,1534.2 1220.3,1618.6 1222.9,1576.4 1225.4,1762.1 1227.5,1838.1 1229.6,1677.7 1231.7,1584.8 1233.8,1643.9 1236.4,1618.6 1238.9,1635.5 1241.4,1627 1244,1508.8 1246.5,1542.6 1249,1466.6 1251.6,1430.7 1254.1,1479.3 1256.6,1605.9 1259.2,1449.7 1261.7,1466.6 1264.2,1559.5 1266.3,1660.8 1268.4,1768.4 1270.6,1635.5 1272.7,1525.7 1274.8,1593.2 1276.9,1698.8 1279,1517.3 1281.1,1428.6 1283.6,1445.5 1286.2,1508.8 1288.7,1432.9 1291.2,1454 1293.8,1418.1 1296.3,1504.6 1298.8,1420.2 1301.4,1418.1 1303.9,1416 1306.4,1424.4 1309,1449.7 1311.5,1517.3 1313.2,1593.2 1314.6,1686.1 1317.1,1635.5 1319.7,1551 1322.2,1652.3 1324.7,1643.9 1327.3,1593.2 1329.8,1576.4 1332.8,1567.9 1335.7,1576.4 1339.1,1593.2 1342.5,1627 1345.4,1635.5 1348.4,1614.4 1350.9,1610.1 1353.4,1635.5 1356,1686.1 1358.5,1711.4 1361,1677.7 1363.6,1715.6 1365.7,1749.4 1367.8,1711.4 1370.3,1635.5 1372.9,1601.7 1376.2,1576.4 1378.8,1570 1382.1,1580.6 1385.5,1593.2 1388.1,1618.6 1390.6,1635.5 1393.1,1631.2 1395.6,1610.1 1398.2,1601.7 1400.7,1603.8 1403.2,1610.1 1405.4,1635.5 1407.5,1762.1 1409.2,1770.5 1411.3,1690.3 1413.4,1719.9 1415.5,1635.5 1417.6,1601.7 1420.1,1593.2 1422.7,1580.6 1425.2,1576.4 1427.7,1567.9 1429.4,1445.5 1431.1,1441.3 1432.8,1559.5 1434.5,1466.6 1436.2,1449.7 1437.9,1567.9 1439.5,1462.4 1441.2,1572.1 1442.9,1466.6 1444.6,1479.3 1446.3,1559.5 1448,1483.5 1449.7,1635.5 1451.8,1743.1 1453.9,1593.2 1456,1517.3 1457.7,1677.7 1459.8,1635.5 1461.5,1483.5 1463.6,1458.2 1465.7,1454 1467.4,1551 1469.1,1454 1470.8,1449.7 1472.5,1551 1474.2,1447.6 1475.8,1580.6 1477.5,1458.2 1479.2,1618.6 1480.9,1618.6 1482.6,1466.6 1484.3,1462.4 1486,1551 1487.7,1466.6 1489.8,1428.6 1491.5,1551 1493.1,1475.1 1495.3,1635.5 1497.4,1707.2 1499.5,1610.1 1501.6,1618.6 1503.7,1542.6 1505.8,1517.3 1507.9,1441.3 1510,1424.4 1512.1,1409.6 1511.2,1407.3 1515,1407.8 1518.8,1409.6 1522.5,1407.3 1526.3,1407.5 1530.1,1407.9 1533.8,1405.9 1537.6,1407.6 1539.9,1440.1 1542.7,1495.5 1545.5,1561.8 1547.8,1632.2 1549.6,1657.4 1551.9,1581.7 1554.3,1493.4 1556.1,1433.1 1557.5,1406.5 1560.9,1405.5 1564.4,1409 1567.8,1408.4 1571.2,1405.2 1574.7,1409.9 1578.1,1409.8 1581.5,1408.2 1583.8,1440.1 1586.6,1485.4 1589.4,1569.7 1591.7,1606.9 1593.6,1629.4 1595.9,1562.1 1598.2,1488.4 1600,1433.1 1601.4,1407.6 1604.9,1405.3 1608.3,1406 1611.7,1406.2 1615.2,1405.2 1618.6,1407.3 1622,1407.2 1625.5,1409.2 1627.8,1440.1 1630.6,1492.1 1633.3,1554.1 1635.6,1613.2 1637.5,1636.4 1639.8,1567 1642.1,1473.3 1644,1433.1 1645.4,1408.3 1649.5,1407.3 1653.5,1406.4 1657.6,1409.9 1661.7,1409.9 1665.8,1409.2 1669.9,1408.5 1674,1406.6 1676.3,1440.1 1679.1,1505.6 1681.9,1571.3 1684.2,1616.4 1686,1639.9 1688.4,1569.4 1690.7,1489.4 1692.5,1433.1 1693.9,1408.8 1698,1407 1702.1,1409.2 1706.2,1406.9 1710.3,1409.7 1714.4,1409.2 1718.5,1405 1722.6,1406.1 1724.9,1440.1 1727.7,1473 1730.4,1556.6 1732.8,1606.9 1734.6,1629.4 1736.9,1558.5 1739.2,1445.9 1741.1,1421.2 1742.5,1395.1 1745.7,1393.5 1748.9,1396.2 1752.2,1396.9 1755.4,1394.4 1758.7,1393.6 1761.9,1394.8 1765.1,1397.9 1767.4,1428.2 1770.2,1486.4 1773,1592.8 1775.3,1639.8 1777.2,1667.2 1779.5,1585 1781.8,1482.3 1783.6,1421.2 1785,1393.6 1789,1393.4 1792.9,1397 1796.9,1394 1800.9,1395.9 1804.8,1395.3 1808.8,1394.1 1812.8,1396.7 1815.1,1428.2 1817.8,1514.4 1820.6,1573.5 1822.9,1643.6 1824.8,1671.4 1827.1,1587.9 1829.4,1488 1831.3,1421.2 1832.6,1395.2 1836.4,1394.2 1840.2,1394.4 1843.9,1397.9 1847.7,1397.1 1851.5,1394.6 1855.2,1397.5 1859,1394.2 1861.3,1428.2 1864.1,1499.3 1866.9,1557.6 1869.2,1634.1 1871,1660.9 1873.3,1580.6 1875.7,1466.6 1877.5,1421.2 1878.9,1393.6 1883,1398 1887.1,1394.2 1891.2,1394.4 1895.3,1396.9 1899.4,1394.7 1903.5,1394.6 1907.6,1393.5 1909.9,1428.2 1912.7,1515.3 1915.4,1574.7 1917.7,1641.7 1919.6,1669.3 1921.9,1586.5 1924.2,1483 1926.1,1421.2 1927.4,1396.1 1931.1,1394.9 1934.8,1395.3 1938.5,1397.8 1942.2,1395.5 1945.9,1395.9 1949.6,1397.4 1953.3,1394 1955.7,1428.2 1958.4,1501.4 1961.2,1541.3 1963.5,1615.2 1965.4,1639.9 1967.7,1565.8 1970,1454.6 1971.8,1421.2 1973.2,1394.3 1977.2,1394.1 1981.2,1396.8 1985.1,1397.7 1989.1,1394.1 1993.1,1397.8 1997,1397.5 2001,1396.1 2003.3,1428.2 2006.1,1501.4 2008.8,1594.8 2011.2,1641.7 2013,1669.3 2015.3,1586.5 2017.6,1490.1 2019.5,1421.2 2020.9,1397.8 2024.2,1394.3 2027.5,1396.6 2030.8,1394.4 2034.1,1397.2 2037.4,1396 2040.7,1394.6 2044,1394 2046.3,1428.2 2049.1,1494.4 2051.8,1606.2 2054.2,1654.9 2056,1684 2058.3,1596.8 2060.6,1487.6 2062.5,1421.2 2063.9,1395.9 2067.6,1397.3 2071.4,1396.1 2075.2,1394.5 2078.9,1397.6 2082.7,1394.1 2086.5,1393.2 2090.2,1394.4 2092.5,1428.2 2095.3,1482.5 2098.1,1565.2 2100.4,1599.4 2102.3,1622.3 2104.6,1553.6 2106.9,1472.2 2108.7,1421.2 2110.1,1394.9 2114,1395.9 2117.9,1393.8 2121.8,1394.9 2125.7,1397.5 2129.6,1397.9 2133.5,1396.3 2137.4,1396.5 2139.7,1428.2 2142.5,1476.1 2145.3,1560.9 2147.6,1598.2 2149.4,1620.9 2151.7,1552.6 2154,1476.7 2155.9,1421.2 2157.3,1393.2 2161.3,1397.6 2165.2,1396.6 2169.2,1397.8 2173.1,1393.2 2177.1,1396.2 2181.1,1395.5 2185,1396.7 2187.3,1428.2 2190.1,1475.9 2192.9,1504.6 2195.2,1571 2197.1,1590.8 2199.4,1531.5 2201.7,1466.9 2203.5,1421.2 2204.9,1395.8 2208.6,1396.7 2212.3,1397.5 2216,1396.7 2219.7,1396.6 2223.4,1397 2227.1,1397.6 2230.8,1394.8 2233.1,1428.2 2235.9,1465.5 2238.7,1517.6 2241,1583 2242.8,1604.1 2245.2,1540.8 2247.5,1442.7 2249.3,1421.2 2250.7,1395.2 2254.2,1397 2257.7,1397.4 2261.2,1395.9 2264.7,1396.2 2268.2,1395 2271.7,1396 2275.2,1396.1 2277.5,1428.2 2280.3,1495.8 2283.1,1537.1 2285.4,1594.4 2287.2,1616.7" fill="none" stroke="#0000ff" stroke-width="6.2" stroke-linejoin="round" stroke-linecap="round"/><path d="M298.7,1381.1 304.7,1381.3 310.7,1381.5 316.7,1382.1 322.7,1381.5 328.7,1381.8 334.7,1382 340.7,1381.3 346.7,1382.6 352.7,1381.5 358.7,1382.7 364.7,1381.7 370.7,1381.9 376.7,1382.4 382.7,1381.6 388.7,1381.9 394.7,1381.7 400.7,1381.2 406.7,1382.3 412.7,1382.7 418.7,1382.2 424.7,1381.6 430.7,1382.4 436.7,1382.5 442.7,1381.2 448.7,1381.6 454.7,1382 460.7,1381.2 466.7,1382.2 472.7,1381.6 478.7,1382.4 484.7,1382 490.7,1381.4 496.7,1381.2 502.7,1381.3 508.7,1382.1 514.7,1381.8 520.7,1382.2 526.7,1382.5 532.7,1381.9 538.7,1381.3 544.7,1381.3 550.7,1381.6 556.7,1381.1 562.7,1382.3 568.7,1382.5 574.7,1382 580.7,1382.3 586.7,1382.4 592.7,1382.1 598.7,1381.7 604.7,1381.9 610.7,1382.2 616.7,1381.3 622.7,1381.1 628.7,1382 634.7,1382.6 640.7,1382.7 646.7,1381.3 652.7,1382.7 658.7,1381.6 664.7,1381.8 670.7,1382.2 676.7,1381.4 682.7,1382.7 688.7,1382.5 694.7,1382 700.7,1382.7 706.7,1381.4 712.7,1382.3 718.7,1382.5 724.7,1382.7 730.7,1381.7 736.7,1382 742.7,1381.7 748.7,1381.6 754.7,1381.4 760.7,1381.1 766.7,1381.6 772.7,1382.4 778.7,1381.9 784.7,1382.4 790.7,1382.7 796.7,1382 802.7,1381.5 808.7,1382.4 814.7,1382.3 820.7,1382.2 826.7,1381.6 832.7,1381.9 838.7,1381.7 844.7,1381.5 850.7,1382.1 856.7,1381.4 862.7,1381.2 868.7,1382.6 874.7,1381.2 880.7,1381.5 886.7,1382.5 892.7,1382 898.7,1381.7 904.7,1381.2 910.7,1382.1 916.7,1381.8 922.7,1381.3 928.7,1381.4 934.7,1381.2 940.7,1382 946.7,1381.7 952.7,1382.4 958.7,1381.5 964.7,1381.4 970.7,1381.7 976.7,1381.5 982.7,1382.4 988.7,1381.2 994.7,1381.1 1000.7,1381.1 1006.7,1381.8 1012.7,1381.4 1018.7,1382.2 1024.7,1381.2 1030.7,1381.3 1036.7,1382.2 1042.7,1382.6 1048.7,1382 1054.7,1381.8 1060.7,1381.5 1066.7,1381.9 1072.7,1382.7 1078.7,1381.4 1084.7,1382.6 1090.7,1381.4 1096.7,1382.5 1102.7,1382.2 1108.7,1381.4 1114.7,1382.5 1120.7,1382.5 1126.7,1381.9 1132.7,1381.5 1138.7,1381.3 1144.7,1381.6 1150.7,1381.2 1156.7,1381.9 1162.7,1381.2 1168.7,1382.6 1174.7,1382.4 1180.7,1381.9 1186.7,1382.3 1192.7,1381.5 1198.7,1381.7 1204.7,1381.9 1210.7,1381.3 1216.7,1381.8 1222.7,1382.2 1228.7,1382.1 1234.7,1381.3 1240.7,1381.2 1246.7,1382.4 1252.7,1381.3 1258.7,1381.1 1264.7,1381.9 1270.7,1381.8 1276.7,1382.4 1282.7,1381.8 1288.7,1381.9 1294.7,1381.7 1300.7,1382.7 1306.7,1381.1 1312.7,1381.9 1318.7,1382.1 1324.7,1381.4 1330.7,1381.8 1336.7,1381.9 1342.7,1381.6 1348.7,1382.6 1354.7,1381.8 1360.7,1382.1 1366.7,1381.1 1372.7,1381.2 1378.7,1382.3 1384.7,1382 1390.7,1382.5 1396.7,1382 1402.7,1381.4 1408.7,1381.2 1414.7,1381.9 1420.7,1382.2 1426.7,1382.4 1432.7,1381.7 1438.7,1381.2 1444.7,1382.5 1450.7,1381.4 1456.7,1382.7 1462.7,1382.4 1468.7,1382.4 1474.7,1381.6 1480.7,1382.2 1486.7,1382.2 1492.7,1381.7 1498.7,1382.6 1504.7,1381.5 1510.7,1382.5 1516.7,1381.9 1522.7,1382.3 1528.7,1382.4 1534.7,1381.9 1540.7,1382 1546.7,1382.1 1552.7,1382.1 1558.7,1381.9 1564.7,1382.5 1570.7,1382.4 1576.7,1381.7 1582.7,1381.7 1588.7,1381.9 1594.7,1381.3 1600.7,1381.7 1606.7,1381.3 1612.7,1382.4 1618.7,1381.5 1624.7,1381.4 1630.7,1381.2 1636.7,1382.2 1642.7,1382.2 1648.7,1381.2 1654.7,1382.4 1660.7,1381.1 1666.7,1381.3 1672.7,1382.5 1678.7,1382.3 1684.7,1381.5 1690.7,1382.3 1696.7,1382.6 1702.7,1381.3 1708.7,1382 1714.7,1381.4 1720.7,1382.5 1726.7,1382.1 1732.7,1381.6 1738.7,1382.7 1744.7,1382.4 1750.7,1381.6 1756.7,1378.9 1762.7,1379.4 1768.7,1379.5 1774.7,1380.3 1780.7,1382.6 1786.7,1379.4 1792.7,1379.4 1798.7,1379.8 1804.7,1379.1 1810.7,1379 1816.7,1379.9 1822.7,1381.1 1828.7,1381.3 1834.7,1379.4 1840.7,1379.3 1846.7,1379.2 1852.7,1379.8 1858.7,1379.2 1864.7,1379.8 1870.7,1382.2 1876.7,1379.5 1882.7,1379.2 1888.7,1379.3 1894.7,1379.3 1900.7,1378.9 1906.7,1379.7 1912.7,1379.2 1918.7,1382.3 1924.7,1379 1930.7,1379.2 1936.7,1379.2 1942.7,1379.2 1948.7,1379.6 1954.7,1380 1960.7,1380.4 1966.7,1381.8 1972.7,1379.3 1978.7,1379.3 1984.7,1379.4 1990.7,1378.9 1996.7,1379.2 2002.7,1378.9 2008.7,1381.6 2014.7,1380.7 2020.7,1380 2026.7,1379.6 2032.7,1379.7 2038.7,1379.4 2044.7,1378.9 2050.7,1378.9 2056.7,1382.5 2062.7,1379.3 2068.7,1380 2074.7,1379.8 2080.7,1379.8 2086.7,1379.3 2092.7,1379 2098.7,1380.1 2104.7,1382.1 2110.7,1379.3 2116.7,1379.7 2122.7,1379.7 2128.7,1379.7 2134.7,1379.8 2140.7,1379.6 2146.7,1381 2152.7,1380.3 2158.7,1379.9 2164.7,1379.5 2170.7,1378.9 2176.7,1379.4 2182.7,1379.2 2188.7,1378.9 2194.7,1382.2 2200.7,1379.6 2206.7,1379.8 2212.7,1379.4 2218.7,1379.5 2224.7,1379.5 2230.7,1379.4 2236.7,1379.4 2242.7,1381.9 2248.7,1379.2 2254.7,1379.9 2260.7,1379.1 2266.7,1379.6 2272.7,1379.2 2278.7,1379.4 2284.7,1380.5 2288.2,1381.2" fill="none" stroke="#ffa500" stroke-width="5.4" stroke-linejoin="round" stroke-linecap="round"/>
<rect x="200.6" y="1343.0" width="2186.9" height="771.5" fill="none" stroke="#555" stroke-width="4"/>
<line x1="298.7" x2="298.7" y1="2114.5" y2="2124.5" stroke="#555" stroke-width="3.4"/>
<text transform="translate(298.2,2163.3) scale(0.915,1)" class="ct" text-anchor="middle">1981</text>
<line x1="529.9" x2="529.9" y1="2114.5" y2="2124.5" stroke="#555" stroke-width="3.4"/>
<text transform="translate(529.4,2163.3) scale(0.915,1)" class="ct" text-anchor="middle">1986</text>
<line x1="761.1" x2="761.1" y1="2114.5" y2="2124.5" stroke="#555" stroke-width="3.4"/>
<text transform="translate(760.6,2163.3) scale(0.915,1)" class="ct" text-anchor="middle">1991</text>
<line x1="992.4" x2="992.4" y1="2114.5" y2="2124.5" stroke="#555" stroke-width="3.4"/>
<text transform="translate(991.9,2163.3) scale(0.915,1)" class="ct" text-anchor="middle">1996</text>
<line x1="1223.6" x2="1223.6" y1="2114.5" y2="2124.5" stroke="#555" stroke-width="3.4"/>
<text transform="translate(1223.1,2163.3) scale(0.915,1)" class="ct" text-anchor="middle">2001</text>
<line x1="1454.8" x2="1454.8" y1="2114.5" y2="2124.5" stroke="#555" stroke-width="3.4"/>
<text transform="translate(1454.3,2163.3) scale(0.915,1)" class="ct" text-anchor="middle">2006</text>
<line x1="1686" x2="1686" y1="2114.5" y2="2124.5" stroke="#555" stroke-width="3.4"/>
<text transform="translate(1685.5,2163.3) scale(0.915,1)" class="ct" text-anchor="middle">2011</text>
<line x1="1917.3" x2="1917.3" y1="2114.5" y2="2124.5" stroke="#555" stroke-width="3.4"/>
<text transform="translate(1916.8,2163.3) scale(0.915,1)" class="ct" text-anchor="middle">2016</text>
<line x1="2148.5" x2="2148.5" y1="2114.5" y2="2124.5" stroke="#555" stroke-width="3.4"/>
<text transform="translate(2148,2163.3) scale(0.915,1)" class="ct" text-anchor="middle">2021</text>
<line x1="190.6" x2="200.6" y1="2078" y2="2078" stroke="#555" stroke-width="3.4"/>
<text transform="translate(176.5,2094.3) scale(0.915,1)" class="ct" text-anchor="end">0</text>
<line x1="190.6" x2="200.6" y1="1937.8" y2="1937.8" stroke="#555" stroke-width="3.4"/>
<text transform="translate(176.5,1954.1) scale(0.915,1)" class="ct" text-anchor="end">20</text>
<line x1="190.6" x2="200.6" y1="1797.6" y2="1797.6" stroke="#555" stroke-width="3.4"/>
<text transform="translate(176.5,1813.9) scale(0.915,1)" class="ct" text-anchor="end">40</text>
<line x1="190.6" x2="200.6" y1="1657.4" y2="1657.4" stroke="#555" stroke-width="3.4"/>
<text transform="translate(176.5,1673.7) scale(0.915,1)" class="ct" text-anchor="end">60</text>
<line x1="190.6" x2="200.6" y1="1517.2" y2="1517.2" stroke="#555" stroke-width="3.4"/>
<text transform="translate(176.5,1533.5) scale(0.915,1)" class="ct" text-anchor="end">80</text>
<line x1="190.6" x2="200.6" y1="1377" y2="1377" stroke="#555" stroke-width="3.4"/>
<text transform="translate(176.5,1393.3) scale(0.915,1)" class="ct" text-anchor="end">100</text>
<text transform="translate(1291,2219.6) scale(0.965,1)" class="cl" text-anchor="middle">Time</text>
<text transform="translate(79,1727.5) rotate(-90) scale(0.893,1)" class="cl" text-anchor="middle">Percentage of Valid Data Points (%)</text>
<text transform="translate(1291,1326.5) scale(0.992,1)" class="ctt" text-anchor="middle">SM Data Availability: Original vs Gap-Filled</text>
<rect x="1785" y="1942" width="581" height="150.5" rx="9" ry="9" fill="#fff" fill-opacity="0.8" stroke="#cfcfcf" stroke-width="3"/>
<line x1="1796" x2="1892.5" y1="1980.7" y2="1980.7" stroke="#0000ff" stroke-width="5.5"/>
<line x1="1796" x2="1892.5" y1="2048.2" y2="2048.2" stroke="#ffa500" stroke-width="5.5"/>
<text transform="translate(1923.5,1994.7) scale(0.961,1)" class="lg">Original SM Data</text>
<text transform="translate(1923.5,2062.3) scale(0.961,1)" class="lg">Gap-Filled SM Data</text>
<text y="1307.5" class="pl"><tspan x="209.7" textLength="28.2" lengthAdjust="spacingAndGlyphs">(</tspan><tspan x="245.7" textLength="49.8" lengthAdjust="spacingAndGlyphs">c</tspan><tspan x="301.9" textLength="28.2" lengthAdjust="spacingAndGlyphs">)</tspan></text>
</g>
</g>
</svg></body></html>
